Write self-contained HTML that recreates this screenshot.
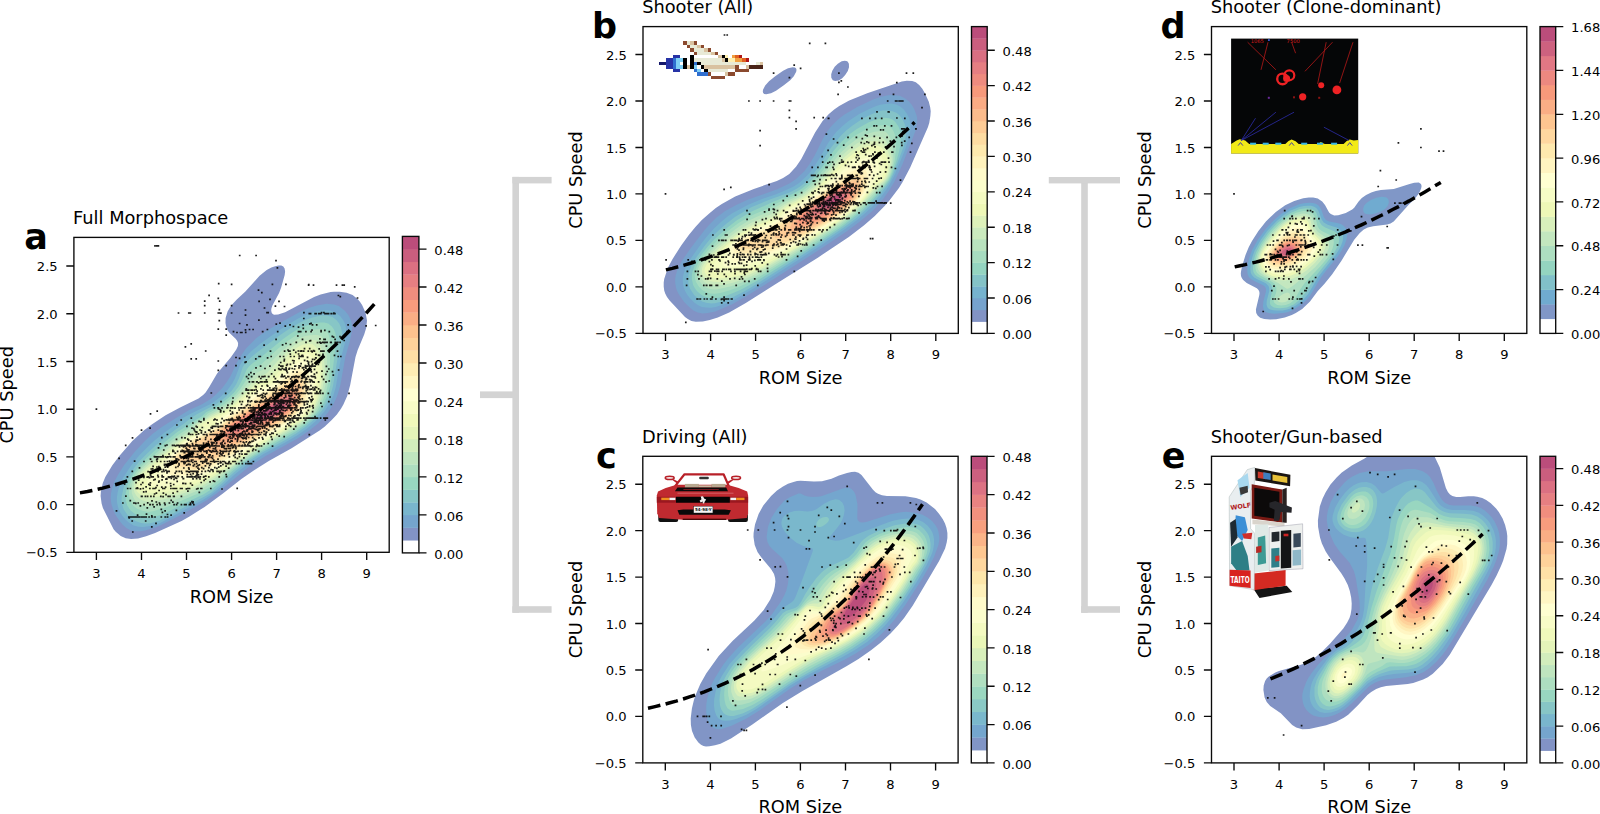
<!DOCTYPE html>
<html lang="en"><head><meta charset="utf-8"><title>Morphospace</title>
<style>html,body{margin:0;padding:0;background:#fff}body{width:1600px;height:814px;overflow:hidden}svg{display:block}text{font-family:'DejaVu Sans','Liberation Sans',sans-serif}</style></head><body>
<svg width="1600" height="814" viewBox="0 0 1600 814">
<rect width="1600" height="814" fill="#fff"/>
<g fill="#d3d3d3">
<rect x="512.4" y="176.9" width="6.6" height="435.9"/>
<rect x="512.4" y="176.9" width="39.2" height="6.5"/>
<rect x="512.4" y="606.2" width="39.2" height="6.6"/>
<rect x="480" y="391.4" width="33" height="6.7"/>
<rect x="1081.2" y="177" width="6.6" height="435.8"/>
<rect x="1048.8" y="177" width="71.2" height="6.4"/>
<rect x="1081.2" y="606.2" width="38.8" height="6.6"/>
</g>
<g id="panel-a">
<clipPath id="cla"><rect x="73.9" y="237.4" width="315.3" height="314.9"/></clipPath>
<g clip-path="url(#cla)">
<path fill="#8293c5" d="M358.1 299.6L360.1 301.9L362.1 305.1L365.6 312.8L367 320.6L366.2 328.1L364.2 334.6L357.7 350.1L355.5 357.1L350.2 385.1L347.2 396.1L343.4 404.6L341.1 408.6L336.9 414.6L331.7 420.1L324.6 426.7L319.6 430.6L291.6 448.3L268.8 461.1L254.1 470.2L241.4 479.1L222.6 493.7L204.6 506.9L189.1 516.7L181.6 521L155.1 532.9L146.1 536.3L138.1 538.5L131.1 539.1L125.7 538.3L120.7 535.9L115.7 531.8L113.6 529.2L102.9 508.1L101.6 503.6L100.6 496.1L100.9 491.6L102.8 483.1L105.3 477.1L112.2 465.6L119.3 456.1L132.3 441.1L144.1 430.3L152.1 424.2L165.6 415.3L180.1 407.5L198.5 398.6L203.1 395.1L205.6 392.4L209.2 387.1L217.1 373.6L230.7 357.6L236.3 349.6L237.9 346.1L238.1 343.1L237.1 340.7L235.6 338.8L229.1 332.6L227.5 330.1L226 326.1L225.5 323.1L225.6 318.1L227.6 311.6L229.6 308.1L232.6 304.1L236.8 299.6L245.4 291.6L259.6 275.8L266.7 270.1L271.4 267.6L275.1 266.2L278.6 265.5L281.3 265.6L283.3 266.6L284.6 268.6L285.1 271.6L284.7 275.1L281.1 287.8L279.1 292.9L272.4 305.6L271.4 308.6L271.2 310.6L271.6 312.6L272.6 314.1L274.1 314.8L278.1 314.6L285.1 312.3L314.1 297.1L320.6 294.6L330.6 292L334.1 291.7L339.6 291.7L346.6 292.8L352.6 295.1Z"/>
<path fill="#75a5cd" d="M345.1 310.9L348.3 315.1L350.8 320.1L351.9 324.6L352.1 328.6L351.3 334.6L349.5 342.6L345.3 357.1L340.5 384.6L337.4 395.6L333.6 404.1L328 412.6L323.4 418.1L318.1 423.4L308.6 431.1L297.1 438.8L265.6 456.1L253 464.1L246.1 469L217.1 493.1L207.1 500L184.6 512.9L160.6 525.3L155.1 527.5L145.1 530.5L140.6 531.3L135.1 531.3L131.1 530.5L126.7 528.2L122.7 524.7L119.7 520.9L115.4 514.7L113.5 510.6L111.8 505.6L111 502.1L110.7 497.6L111 493.6L112 488.6L114.9 480.6L118.8 473.6L124.2 465.1L134.6 451.9L144.9 441.1L152.4 434.1L161.8 427.1L168.1 422.9L189.2 410.1L201.1 404.7L205.8 402.1L211.3 398.6L215.4 395.1L222.1 388.3L226.6 382.2L230.6 375.9L235.9 364.6L239.4 358.1L246 348.6L256.1 338.3L266.1 331.1L286.1 319.4L301.6 311L310.1 307.4L316.6 305.5L326.6 303.8L334.1 304.4L338.8 306.1Z"/>
<path fill="#79b6cd" d="M340.1 316L343.1 319.9L345.1 323.9L346.2 328.6L346.3 333.6L345.1 342.6L340.9 358.1L335.8 387.1L333.4 395.6L329.5 403.6L324.3 411.6L315.6 421.3L307.1 428.4L297.1 435.4L285.1 442.4L263.5 454.1L245.6 465.7L234.6 474.5L222.1 486.1L211.6 494.6L203.6 499.5L169.6 518.1L160.1 522.9L155.6 524.7L150.1 526.1L143.1 527L138.6 526.7L133.6 525.4L129.1 522.8L125.7 519.7L122.7 516.2L120.1 512.2L118.5 508.6L117.4 504.6L116.9 501.1L116.9 497.1L117.7 492.1L118.9 487.6L123 478.1L131.1 465.6L139.1 455.6L150.1 444.6L155.1 440L164.6 432.4L177.7 423.1L182.6 418.1L194.1 412L209.6 404.6L214.5 401.6L220.3 397.1L227.5 390.1L232.2 383.6L235.1 378.1L240.3 364.6L242.6 360.8L246.1 356.4L250.6 351.7L260.6 343.4L276.6 331.9L288.6 324L298.6 318.3L306.6 314.5L316.1 311.5L323.1 310.3L330.1 310.5L335.1 312.2Z"/>
<path fill="#87c6c6" d="M336.4 320.1L339.2 323.6L341 327.6L342 332.6L342.1 337.6L341.3 343.6L337.8 357.1L332.9 386.6L330.6 395.1L326.4 403.6L322 410.6L314.1 419.6L305.9 426.6L296.1 433.4L282.6 441.4L262.1 452.6L243.4 464.6L233.1 472.9L221.6 483.8L211.1 492.7L203.7 497.1L184.6 506.9L168.5 516.2L160.2 520.2L155.1 522.1L150.4 523.2L145.6 523.4L141.1 522.9L136 521.2L131.1 518.3L127.7 515.2L123.5 509.1L121.8 503.1L121.5 500.1L121.7 496.6L123.5 488.1L126.3 480.6L131.3 472.1L135.6 466.1L140.6 460L146.1 454.4L155.1 446L163.1 439.3L175.6 429.4L183.6 424.1L188.6 419.7L196.3 414.6L215.4 404.6L221.6 400.3L226.1 396.4L231.9 390.6L236.1 384.5L239.1 378.1L242.8 367.1L246.1 362.2L250.6 357.7L255.6 353.6L280.1 335.1L290.1 328.3L299.1 323L307.1 319.3L312.6 317.4L320.6 315.6L327.1 315.6L332.4 317.1Z"/>
<path fill="#98d6c0" d="M331.6 326.2L333.7 329.1L335.2 332.6L336 336.6L336.2 340.6L332.5 372.1L330.3 385.6L328.3 393.6L324 403.1L319.4 410.6L312.1 419L304.6 425.3L295.6 431.5L262.1 450.7L242.7 463.1L232.1 471.3L221.1 481.4L211.6 489.3L203.6 494.2L183.1 503.9L167.1 512.2L159.1 515.4L153.6 517.1L147.6 517.8L142.1 517L135.1 514L130.6 510.6L127.3 505.6L125.7 500.1L125.8 493.1L127.5 485.1L129.5 480.1L134 472.6L138.6 466.5L146.6 457.9L157.6 448.1L177.3 432.1L185.2 427.1L191.6 422.2L201.7 416.6L206.1 412.2L213.2 408.6L219.1 405.1L228.2 398.1L234.1 392.4L238.6 386.4L241.9 380.6L246.7 369.6L249.1 366.3L252.6 363.2L258.1 359.4L283.1 338.9L291.6 332.9L296.1 330.3L303.6 326.6L311.1 324.1L319.6 322.5L324.1 322.4L328.1 323.6Z"/>
<path fill="#addec0" d="M326.7 331.6L328.3 334.1L329.5 337.6L330 341.1L330.3 348.1L329.8 369.6L328.1 383.6L326 392.6L321.9 402.6L317.1 410.6L313.1 415.6L310.1 418.6L303.6 424.1L295.1 429.8L262.6 448.6L242.1 461.9L231.6 469.6L220.1 479.3L210.6 486.6L203.1 491L194.6 495.1L166.1 507.2L153.1 511.3L148.1 511.9L143.1 511.1L137.1 508.7L133.1 505.6L130.6 501.6L129.1 496.1L129 490.6L130.2 484.1L132.4 479.1L136 473.1L140.4 467.6L146.6 461.2L173.1 438.9L179.6 434L187.6 428.8L193.1 423.4L203.1 418L207.8 413.6L219.1 407.6L225.1 403.6L230 399.6L236.1 393.9L240.6 388.6L244.3 383.1L250.1 373.2L252.1 370.5L254.6 368.5L261.6 364.1L278.2 348.6L286.9 341.6L296.6 335.1L303.6 332L308.1 330.6L314.6 329.4L320.1 329.1L324.1 329.9Z"/>
<path fill="#bfe5bf" d="M322.1 337.1L323.6 340.1L325.2 345.6L326.2 350.6L326.9 358.1L327.2 371.1L325.8 383.1L323.6 392.6L321.1 399.6L318.2 405.6L312.6 413.9L306.6 419.8L302.1 423.4L294.1 428.6L268.1 443.6L253.5 452.6L232.5 467.1L219.1 477.4L210.1 483.8L202.1 488.5L193.1 492.6L175.6 499.4L163.6 503.5L155.1 505.6L149.1 506.5L145.1 506.2L139.6 504.4L135.6 501.4L133.3 497.6L131.8 493.1L131.6 488.6L132.5 483.6L135 478.1L137.6 473.9L142 468.6L147.1 463.6L173.6 441.6L180.6 436.3L189.6 430.6L191.1 429.1L193.2 425.6L195.3 423.6L204.6 418.7L209.6 414.7L221.1 408.6L226.6 405L232.1 400.6L240.9 392.1L254.6 374.6L257.1 372.6L262.6 370L264.6 368.6L281.2 351.6L293.1 342L299.6 338.1L304.6 336.3L308.6 335.4L313.6 334.9L317.1 335L320.1 335.7Z"/>
<path fill="#d2edbc" d="M318.1 342.1L320.1 345.5L322 350.1L324.1 359.6L324.8 371.1L323.7 382.1L321.7 391.6L319.3 399.1L316.4 405.6L311.1 413.4L304.8 419.6L300.6 422.8L293.6 427.2L272.6 439.2L253.1 451.4L218.1 475.8L208.6 482L202.6 485.4L194.6 489.1L187.1 492L172.6 496.9L161.6 499.8L153.6 501.2L148.1 501.7L144.1 501L140.1 499.2L136.6 496.1L134.7 493.1L133.8 490.1L133.8 486.6L134.5 483.1L136.9 478.1L139.1 474.6L143.4 469.6L147.6 465.7L175.1 443.2L181.6 438.4L192.6 431.4L194 429.6L195 426.1L196.9 424.1L205.4 419.6L210.6 416.1L222.1 410.1L228.1 406.2L233.6 401.9L241.6 394.6L255.1 379.5L258.6 377L264.6 374.6L267.1 373L283.6 354.6L294.6 345.3L300.6 341.7L307.6 339.9L311.1 339.6L314.1 339.9L316.3 340.6Z"/>
<path fill="#e4f4b9" d="M315.6 346.7L317.6 349.7L319.5 353.6L321.7 362.1L322.6 371.1L321.7 381.6L320.2 389.6L318.3 396.6L314.8 405.1L310 412.6L303.6 418.9L299.2 422.1L264.6 442.5L216.1 474.9L204.1 482L193.1 487.1L186.1 489.7L173.6 493.5L167.1 495.1L155.6 496.9L149.1 497.2L145.1 496.6L140.6 494.8L137.4 492.1L136.4 490.6L135.8 488.6L136.2 484.1L138.9 478.1L142.6 473.1L147.6 468.2L156.1 461.6L180.6 441.4L196.7 431.1L197.8 429.6L197.4 427.1L197.6 426.1L198.8 424.6L211.1 417.6L221.1 412.6L228.4 408.1L235 403.1L241.4 397.6L256.6 382.6L260.1 380.6L266.6 378.9L269.1 377.3L273.6 372.6L286.6 356.6L293.6 350.3L298.1 347L303.1 344.5L308.6 343.7L312.6 344.3Z"/>
<path fill="#f0f9bb" d="M313.6 350.7L316.8 356.1L319.4 365.1L320.2 372.1L319.5 381.6L318.2 389.1L316.2 396.6L313.1 404.6L308.6 411.8L302.3 418.1L292.1 424.9L264.1 441.2L222.1 469.2L207.1 478L200.1 481.5L191.6 485L186.1 486.9L176.1 489.6L166.1 491.7L155.6 492.8L148.6 492.7L143 491.6L139.6 489.6L138.8 488.1L138.5 486.6L138.7 484.6L139.6 482.1L142.1 477.4L146.7 472.1L157.1 463.6L182.1 441.9L204.1 428.6L204.9 427.6L204.9 427.1L202.4 425.6L202.4 425.1L203.3 424.1L211.7 419.1L222.1 413.9L230.6 408.6L242.1 399.4L254.1 388.2L258.1 385L261.1 383.6L267.6 382.4L270.8 380.6L276.7 374.6L288.6 359.5L295.1 353.5L299.6 350.2L303.6 348.2L307.6 347.5L310.6 348.2Z"/>
<path fill="#f8fcc7" d="M311.1 356.1L312.6 358.7L314.6 363.1L316.6 370.6L316.8 379.1L315.7 388.6L313.7 397.1L310.3 405.6L306.4 411.6L300.3 417.6L290.6 424.1L263.2 440.1L221.6 467.3L206.1 476L200.1 478.8L188.6 482.8L175.6 485.3L168.1 486.4L154.1 486.4L149.6 485.7L147.6 484.6L146.9 483.1L147.3 481.1L152 473.6L169.1 455.1L175.6 449.6L182.6 442.8L190.6 438L214.5 425.1L215.9 423.6L215.6 422.8L214.4 421.6L215.3 420.1L230.6 410.6L236.6 406.3L258.6 387.9L261.6 386.3L268.6 384.8L272.4 382.6L279.1 376.1L289.6 363.7L297.7 357.1L303.1 354.1L306.1 353.3L308.6 353.8Z"/>
<path fill="#ffffd1" d="M308.1 362L311.5 368.1L312.5 371.6L313.2 375.6L313.4 379.6L313.1 385.1L311.8 393.6L309.2 402.1L306.5 407.6L302.3 413.1L297.3 417.6L288.5 423.6L262.1 439.1L221.1 465.1L212.6 469.9L200.6 475.8L196.1 477.5L190.1 478.9L172.6 480.7L164.1 480.4L161.1 479.6L159.6 478.6L159.2 477.1L159.8 475.1L164.4 465.1L167.9 459.1L170.7 455.6L177.1 450.3L180.9 445.6L183.1 443.5L190.1 439.4L217.8 425.1L219.6 423.4L220.7 419.6L222.1 418.1L232.1 411.7L238.5 407.1L260.1 390.2L262.6 388.9L269.6 386.8L274 384.1L280.7 378.1L291.1 367.4L295.1 364.3L300.1 361.6L304.1 360.2L306.1 360.4Z"/>
<path fill="#fff6c3" d="M306.1 368.4L308.6 373.1L310 379.1L310 386.6L308.8 395.1L306.6 402.1L303.8 407.6L299.9 412.6L294.4 417.6L286.4 423.1L261.6 437.6L222.6 461.8L212.1 467.6L203.1 472L196.6 474.7L191.6 475.5L185.1 475.2L173.6 475.7L171 475.1L169.1 473.8L168.4 471.1L168.3 466.1L168.9 462.6L170.1 459.1L172.6 455.7L178.5 451.1L181.4 446.6L183.8 444.1L188.6 441.2L219.1 425.6L220.8 424.1L223.2 420.1L225.3 418.1L241 407.6L261.1 392.7L263.6 391.4L270.6 388.7L274.8 386.1L281.6 380.6L289.6 373.2L295.1 369.1L298.6 367.4L302.1 366.5L304.1 366.8Z"/>
<path fill="#feedb4" d="M304.1 373.9L306.4 378.6L307.2 384.1L306.7 392.1L305.1 399.1L302.6 405.1L299.3 410.1L295.2 414.6L290.1 418.8L279.1 426L260.3 436.6L218.1 462L202.6 469.7L196.6 472L193.1 472.5L187.1 471.1L178.1 471L175.9 470.1L174.4 468.6L171.9 463.6L171.6 461.1L172.1 459.1L174.1 456.3L180 452.1L182.3 447.1L184.6 444.6L188.6 442.2L201.1 436.2L219.6 426.4L221.9 424.6L225.1 420.7L227.6 418.6L234.6 414.2L261.6 395.5L271.6 390.5L275.6 388L293.6 374.2L297.1 372.5L300.1 371.8L302.1 372.2Z"/>
<path fill="#fee0a6" d="M302.6 378.6L304.1 383.1L304.3 390.1L303.3 396.6L301.4 402.6L298.7 407.6L294.8 412.6L290.1 417L284.3 421.1L216.1 460.6L208 464.6L199.8 468.1L194.6 469.5L193.1 469.1L190.6 467.4L189.1 466.9L183.6 467.1L181.1 466.9L177.6 465.4L174.8 462.6L174 460.6L174.6 458.3L176.1 456.8L181.6 453.3L182.5 451.6L183.5 447.6L184.6 446.1L186.1 444.9L202.6 436.9L219.6 427.5L229.6 419.2L262.1 398L275.9 390.1L293.6 377.8L296.6 376.4L299.1 376.2L301.1 377Z"/>
<path fill="#fed29a" d="M300.3 381.6L301.6 385.6L301.8 391.6L300.9 398.1L299 403.6L296.4 408.1L293.1 412.3L289.1 416L283.2 420.1L230.1 450.1L211.6 459.7L205.6 461.3L204.6 461.1L202.6 460L199.1 460L190.6 461.8L184.6 462.6L181 462.1L178.5 460.6L178.2 459.6L178.9 458.6L182.6 456.4L184.4 454.6L185.3 452.6L185.6 448.3L187.6 446.1L202.1 439.3L213.1 433L221.6 427.5L230.1 420.6L241.1 413.4L293.1 381.4L295.6 380.2L297.6 379.9L299.1 380.4Z"/>
<path fill="#fdc28e" d="M298.1 385.6L299.2 389.1L299.5 394.6L298.9 399.1L297.4 403.6L294.8 408.1L291.9 411.6L288.6 414.7L283.1 418.5L241.6 441.4L225.6 448.7L217.1 451.8L212.1 453L205.1 451.4L199.6 450.9L198.1 450.1L198.3 449.1L200.1 447.1L226.6 424.9L231.6 421.1L241.1 414.9L272.6 395.9L289.1 386.6L293.1 384.8L295.6 384.1L297.1 384.5Z"/>
<path fill="#faae85" d="M295.9 389.6L296.9 392.1L297.4 396.1L297.2 399.6L296.4 402.6L294.6 406.1L292.5 409.1L289.6 412.1L286.6 414.5L277.6 419.9L238.6 440.2L230.6 443.1L224.6 444.5L218.6 444.9L217.1 444.6L216.1 443.8L216.1 442.1L217.1 439.6L222 431.6L226.2 427.1L233.6 421.3L244.1 414.5L282.6 392L292.1 388.5L294.6 388.6Z"/>
<path fill="#f89c7d" d="M294.1 393.3L295.1 395.4L295.7 398.1L295.5 400.6L294.7 403.1L293.2 406.1L291.1 408.8L285.6 413.5L279.6 417L262.1 425.4L248.1 433.1L239.6 437.2L234.6 438.8L229.1 439.8L226.1 439.7L224.4 438.6L223.8 436.6L224.1 434.1L225 431.6L226.6 429.1L232.7 423.6L240.6 418.1L274.1 398.4L282.1 394.2L286.1 392.6L290.6 391.8L292.6 392.1Z"/>
<path fill="#f08d7e" d="M293.1 396.7L293.9 398.6L293.9 400.6L293.2 403.1L291.9 405.6L287.9 410.1L282.1 414.1L275.6 417.4L260.2 424.1L246.6 431.3L239.6 434.5L235.6 435.7L231.6 436.1L229.1 435.7L228 434.6L227.5 432.6L228.1 430.6L229.5 428.6L232.7 425.6L243.2 418.1L256.1 410.4L275.1 399.6L283.1 395.6L286.6 394.7L289.6 394.5L291.6 395.1Z"/>
<path fill="#e67f82" d="M291.6 399.1L291.9 400.6L291.6 402.2L289.3 406.6L285.7 410.1L279.6 414.2L271.6 417.9L255.6 424.1L239.7 431.1L234.6 432.2L233.1 432.1L232.1 431.4L232 430.6L232.5 429.6L234.6 427.1L238.7 423.6L244.2 419.6L257.3 411.1L274.6 401.5L281.6 398.2L285.6 397.1L287.6 396.9L289.6 397.3L290.9 398.1Z"/>
<path fill="#db7082" d="M288.2 401.1L288.5 402.6L288.1 404.1L286 407.6L282.3 411.1L277.6 414.1L269.1 417.9L258.6 421.3L251.1 422.6L249.6 422.5L248.6 421.8L249.1 420.1L250.6 418.1L255.7 413.6L260.5 410.6L273.6 403.7L278.1 401.6L283.1 400.1L286.1 400Z"/>
<path fill="#ca5e7e" d="M284.1 404.1L284.3 405.1L284.1 406.6L282.5 409.1L279.7 411.6L276.1 413.8L268.6 417L261.1 419.3L256.6 419.8L255.1 419.3L254.6 418.6L255 416.6L257.4 414.1L260.2 412.1L265.7 409.1L275.1 404.6L278.6 403.3L282.1 403L283.1 403.3Z"/>
<path fill="#bb4d7b" d="M281.1 406.3L281 408.1L279.5 410.1L277.6 411.6L273.9 413.6L267.8 416.1L262.4 417.6L259.6 417.9L258.5 417.6L258 417.1L258.4 415.6L259.9 414.1L266.8 410.1L277.6 405.6L280.1 405.5Z"/>
</g>
<path d="M275.4 378.7h.01M293.3 401.7h.01M193.1 453.2h.01M274.6 429h.01M291.9 381.8h.01M254.8 417.2h.01M247.1 420.6h.01M301.5 392.8h.01M187.4 445h.01M267.1 385.3h.01M258.3 414.3h.01M249.4 423.8h.01M315 416.7h.01M258.1 429.5h.01M239.4 445.4h.01M214.6 481.5h.01M266.5 407.8h.01M239.7 435.8h.01M231.1 440.9h.01M283.5 406.6h.01M303.1 324.8h.01M198 488.5h.01M279.7 407.3h.01M240.9 407.8h.01M178 466.5h.01M240.4 426.3h.01M233.4 420h.01M188.9 449.8h.01M315.7 357.8h.01M259 446h.01M292.7 407.8h.01M309.6 379.6h.01M197 437.2h.01M226.1 474.5h.01M290.8 398.7h.01M273.2 433.4h.01M278.4 407h.01M230.7 445.4h.01M206.4 443.4h.01M262.4 401.6h.01M168.2 456.9h.01M230.3 436.5h.01M241.4 434.5h.01M192.5 455.8h.01M270.7 416.7h.01M223.7 447.4h.01M205.4 461.5h.01M282.2 382.8h.01M213.3 461.5h.01M275.5 420h.01M252.6 420h.01M301.2 393.3h.01M193.4 446h.01M278.8 406.5h.01M181.4 461.5h.01M290.6 405.3h.01M232.7 427.8h.01M266.2 414.7h.01M246.3 434.5h.01M275 397.8h.01M279.2 393.3h.01M244.5 446h.01M189.8 447h.01M227.2 426.3h.01M152.8 471.4h.01M277.8 398.5h.01M167.4 461.5h.01M281.5 394h.01M173.7 484.5h.01M248.6 433.4h.01M238.9 434.5h.01M161.8 487.2h.01M215.4 451.3h.01M198 451.4h.01M289.5 368.4h.01M253.3 412.5h.01M306.1 378h.01M287.9 401.6h.01M260.6 401.6h.01M189.2 461.4h.01M269.8 387.9h.01M268.1 407.8h.01M256.3 421.8h.01M207.1 459.6h.01M150.1 485.1h.01M202.4 446h.01M256.1 401.6h.01M236.9 426.3h.01M237.3 441.5h.01M303.4 367.5h.01M199.9 439.2h.01M237 412.9h.01M231.4 430.2h.01M262.3 437.5h.01M252.2 434.5h.01M251.9 426.3h.01M197.2 427.2h.01M290.1 401.6h.01M284.6 421.4h.01M297.2 381.8h.01M261.1 420.5h.01M265.6 425.2h.01M202.9 449.8h.01M273.7 420h.01M288.7 351.1h.01M240.8 426.3h.01M271.2 401.6h.01M223.1 445.5h.01M302.9 407.8h.01M282.4 413h.01M157 470h.01M269.1 414.1h.01M258.4 411.2h.01M249.7 411h.01M261 420h.01M256.7 381.8h.01M252.8 426.3h.01M167 472.9h.01M242.6 426.3h.01M196.9 445.9h.01M165.9 479.1h.01M199.5 458.5h.01M198 446.3h.01M201.8 454.6h.01M193.7 451.3h.01M320.9 403.2h.01M273.8 420.7h.01M265.3 407.8h.01M275 404h.01M193.8 428.7h.01M279.5 407.8h.01M251.2 434.5h.01M285.9 426.3h.01M276.9 381.8h.01M271.8 417.8h.01M244.4 414.3h.01M249.7 441.8h.01M293.4 376.6h.01M281.8 394.1h.01M268.4 423.1h.01M250.5 415.2h.01M196.5 434.5h.01M295.1 409.8h.01M281.8 401.6h.01M157.8 475.3h.01M260.3 402.4h.01M248.7 393.3h.01M279.9 405.9h.01M296.7 410.3h.01M280.1 401.6h.01M266.7 425.3h.01M196 476.1h.01M310.2 381.8h.01M275.9 420h.01M237.9 437.6h.01M212.4 461.5h.01M156 523.4h.01M313.6 390h.01M289 425.3h.01M199.4 464.9h.01M299 367.9h.01M208.7 430.2h.01M294.5 393.3h.01M235.9 448.7h.01M151.2 476.5h.01M226.9 425.9h.01M310.6 340.6h.01M297 372.2h.01M281.3 415.6h.01M156.7 459.7h.01M292.7 401.6h.01M252.7 437.6h.01M256.8 420h.01M241.5 404.4h.01M208.4 441.5h.01M255.6 408.3h.01M271.3 412.7h.01M194.8 448.6h.01M285.3 421.4h.01M230.4 450.6h.01M245.8 423.7h.01M307.2 392.8h.01M288.7 420h.01M214.6 461.5h.01M264.8 427.8h.01M200.9 488.5h.01M312.4 324.8h.01M230.2 410.7h.01M187.1 449.3h.01M223.3 446h.01M221.6 426.3h.01M243.5 434.5h.01M151.8 461.5h.01M254.3 439.1h.01M257.5 426.3h.01M238.9 427.9h.01M216 437.6h.01M275.8 407.8h.01M259 437.8h.01M203.4 434.5h.01M197 451.3h.01M256.4 420.9h.01M334.5 355.4h.01M277.1 424.9h.01M169.5 461.2h.01M264.1 434.4h.01M239.4 434.5h.01M256.3 414.4h.01M264 407.8h.01M224.9 443.3h.01M311.3 376.1h.01M214.5 462.2h.01M233.4 461.5h.01M148.8 484.3h.01M279.6 393.3h.01M305.6 385.4h.01M165.2 467.1h.01M276.3 420h.01M304.4 404.9h.01M232.6 407.8h.01M254 434.5h.01M278.8 393.2h.01M260.9 421.4h.01M271.3 436.8h.01M160.3 443.8h.01M302.5 339.3h.01M228.8 453.9h.01M261.6 417.3h.01M273.6 420h.01M237.6 427.9h.01M281.3 405.6h.01M193.3 465.7h.01M293.7 401.6h.01M276.7 425.4h.01M265.4 394.2h.01M224.6 432.7h.01M159.3 468.4h.01M164.5 465.2h.01M318.6 388.8h.01M270.6 434.5h.01M196.5 466.6h.01M263 397.9h.01M272.2 420h.01M208.8 446h.01M245.4 446h.01M222.1 418.6h.01M241.7 434.6h.01M248.6 437.5h.01M290.6 407.8h.01M223 436h.01M213 426.3h.01M248.9 446h.01M258 423.4h.01M269.3 407.8h.01M263 420h.01M197 471.4h.01M265.1 396.6h.01M283.6 391.1h.01M290.5 344.5h.01M192.9 460h.01M142 496.3h.01M290.2 401.6h.01M261.9 401.6h.01M292.1 401.6h.01M226.6 434.5h.01M244.2 420h.01M201.5 455.9h.01M269.5 399h.01M194.5 464.4h.01M305.7 420h.01M169.1 454h.01M206.8 453.1h.01M195.3 471.4h.01M253.8 420h.01M196.9 432.2h.01M222.6 426.3h.01M299 396.6h.01M290.1 420h.01M191.5 471.4h.01M212.7 469.8h.01M323.9 351.1h.01M239 434.5h.01M219.9 409.5h.01M284.2 389.4h.01M291.4 389.6h.01M216.2 451.3h.01M201.2 482.5h.01M217.9 423.9h.01M253 407.8h.01M242.8 423.2h.01M229.4 456.9h.01M241.7 446h.01M293.2 371.9h.01M298.9 401.6h.01M176.2 462.9h.01M258.2 421.6h.01M231.4 434.5h.01M191.5 451.3h.01M219.1 434.8h.01M252.6 446h.01M242.8 426.1h.01M272.4 401.1h.01M252.2 393.3h.01M135.8 503.4h.01M306 342.4h.01M223.5 440.3h.01M188.5 461.5h.01M290.7 401.2h.01M326.4 366.3h.01M263.6 420h.01M271.2 407.8h.01M263.4 420h.01M262.8 420h.01M175.4 477.9h.01M284.9 386.2h.01M182.2 476.8h.01M306.3 366.2h.01M174.5 476.5h.01M298.2 409.8h.01M212.4 444.2h.01M321.1 331.6h.01M257.8 418.2h.01M237.8 438.9h.01M241.8 433.4h.01M214.6 451.3h.01M319.9 391.6h.01M276.8 414.6h.01M256 434.5h.01M244.8 357h.01M211.2 457.4h.01M288.9 415.5h.01M282.2 402.6h.01M306.6 401.6h.01M204.7 434.5h.01M294.8 366.2h.01M268.3 402.5h.01M274.2 407.5h.01M294.6 403.7h.01M196.7 444.8h.01M260.5 426.3h.01M216.9 468.4h.01M232.1 441.1h.01M309.6 406.7h.01M277.9 409.1h.01M308.3 386.8h.01M300 402h.01M211.2 434.5h.01M203.7 444.6h.01M260.2 407.8h.01M274.5 410.5h.01M220.2 453h.01M166.7 482.7h.01M302 378.3h.01M325.9 374.3h.01M232.4 446h.01M200.9 421.9h.01M243.8 416.7h.01M242.7 434.3h.01M181.8 446h.01M268.6 376.6h.01M185.6 483.6h.01M148.3 476.8h.01M299.2 415.4h.01M279.1 419.7h.01M266.4 405h.01M270.1 426.3h.01M270 398.4h.01M248.8 426.3h.01M151.3 469h.01M264.7 426.3h.01M187.3 456.9h.01M257.7 395.8h.01M186.6 465.1h.01M306.5 386.6h.01M305.5 401.6h.01M246.5 446h.01M257.1 407.8h.01M275.3 381.8h.01M306.1 378.6h.01M188.8 452.3h.01M301.7 351.1h.01M328.8 369h.01M171.3 478.4h.01M201 450.7h.01M262.3 412.7h.01M275.9 401.6h.01M157.2 461.5h.01M225.5 451.3h.01M242.8 437.8h.01M266.2 424.5h.01M279.6 426.3h.01M143.2 488.5h.01M245 424.3h.01M286.1 378h.01M268.6 376.6h.01M234.7 426.3h.01M228.3 444.8h.01M241.2 433.4h.01M257.5 445.6h.01M300.9 407.8h.01M266.6 407.8h.01M247.7 404.7h.01M275.9 407.8h.01M268.2 404.7h.01M183.5 461.5h.01M275.7 391.3h.01M298.9 398.4h.01M222.2 446h.01M254.9 420h.01M251.6 410.6h.01M186.4 488.8h.01M154.4 471.4h.01M266 400.4h.01M289.3 392h.01M251.9 420h.01M241.5 428.7h.01M301.1 410.8h.01M247.6 430.3h.01M243.3 438.6h.01M228.6 454.5h.01M294.5 402h.01M265.9 435.3h.01M285.5 369.9h.01M314.4 376.6h.01M286.3 369.3h.01M275.9 385.9h.01M194.9 451.3h.01M265.3 407.8h.01M255.7 421.6h.01M203.9 418.5h.01M289.4 398.7h.01M307.2 366.2h.01M295.9 393.3h.01M182.9 461.5h.01M283.2 410.4h.01M263.5 420h.01M299.3 401.6h.01M222.9 446h.01M259.4 446h.01M255.9 407.8h.01M267 422.9h.01M307.1 414h.01M234.6 426.3h.01M201.5 430.8h.01M214.2 426.3h.01M228.7 468.1h.01M153.8 480h.01M286 367.8h.01M276 413.1h.01M319.3 362.5h.01M305.6 407.8h.01M223 453.2h.01M187.8 439.1h.01M231 428h.01M295 376.6h.01M246.6 454.1h.01M241 434.5h.01M264 407.8h.01M187.4 451.2h.01M308.6 362.1h.01M264.9 396.4h.01M184.3 451.3h.01M312.1 365.1h.01M260.9 388.9h.01M294.3 422.1h.01M230.6 446h.01M226.8 429.9h.01M307.4 361.1h.01M285.8 401.6h.01M240.6 441.5h.01M254.7 407.8h.01M294.9 401.6h.01M293.4 326.5h.01M281.9 401.6h.01M190.6 474.4h.01M311.4 366.6h.01M259.1 426.3h.01M165.9 470.3h.01M227.9 441.3h.01M287.5 407.8h.01M240.3 435.8h.01M286.7 386.1h.01M254.2 421.9h.01M286.4 404.3h.01M210.7 463.9h.01M204.7 461.9h.01M206.4 446h.01M242.6 412.9h.01M184.3 452.7h.01M143.7 491.8h.01M254.6 407.8h.01M278 426.3h.01M290 393.3h.01M312.9 381.8h.01M244.4 443h.01M310.8 370.5h.01M238.2 426.3h.01M264.3 381.8h.01M250.3 434.5h.01M209.8 447.4h.01M203.6 477.1h.01M245 414.1h.01M238 420h.01M266.1 414.4h.01M235.3 446h.01M226.8 451.2h.01M318.6 381.8h.01M281.2 407.8h.01M279.5 369.3h.01M277.4 401.7h.01M246.9 446h.01M191.7 476.3h.01M174.2 496.3h.01M254.1 373.8h.01M284.3 420h.01M206.9 463.3h.01M251.7 422.8h.01M263.7 410.9h.01M204.8 451.3h.01M172.2 461.5h.01M294.8 390.6h.01M253.3 426.3h.01M257.2 391.1h.01M277.7 395.8h.01M270 426.3h.01M292.6 401.6h.01M192.3 453.7h.01M275.1 407.8h.01M289.6 395.7h.01M253.1 434.5h.01M277.6 401.6h.01M316.7 372.6h.01M129.2 517.8h.01M278 396.4h.01M302.8 388.3h.01M259.4 420.5h.01M311.1 331.7h.01M188 451.3h.01M288.7 376.6h.01M280.7 362.5h.01M192.3 485.2h.01M249.3 426.3h.01M192.3 471.4h.01M175.8 467.4h.01M256.9 444.5h.01M267.6 357.8h.01M242.7 435.1h.01M250.9 372.7h.01M324.3 342.6h.01M177.5 459h.01M300.8 407.8h.01M256.3 446.4h.01M259.2 426.3h.01M234.7 450.8h.01M258.4 434.6h.01M153.1 488.5h.01M264.6 420h.01M213.7 460.2h.01M224.3 455.8h.01M257.2 429.5h.01M266.4 422.4h.01M290.7 420h.01M207 435.6h.01M261.6 397.5h.01M247.9 417.7h.01M223.8 435.4h.01M235 408.2h.01M292 401.6h.01M257.1 381.8h.01M182.1 451.3h.01M211.7 461.5h.01M181.2 457.8h.01M246.4 441.8h.01M211.1 431.8h.01M274.9 370.2h.01M190.1 464.6h.01M255.1 420.3h.01M228.2 439.6h.01M253.5 381.8h.01M224.4 446.2h.01M317.1 393.3h.01M163.3 476.8h.01M238.3 446h.01M269.4 424.6h.01M236.7 436h.01M277.6 400.9h.01M255.6 422.1h.01M290.7 378.9h.01M277 405.4h.01M276.9 407.8h.01M279.2 393.6h.01M285.9 415.8h.01M311.4 371.8h.01M302.5 355.4h.01M291.5 409.5h.01M171.2 500.3h.01M212.2 446h.01M265.2 416.5h.01M311.3 401.6h.01M275.5 381.8h.01M294.9 415.8h.01M237.6 436.3h.01M154.4 456.5h.01M271.4 420h.01M188.3 460.3h.01M242 454.2h.01M210.6 461.5h.01M284 407.8h.01M255.3 419.6h.01M322.9 393.3h.01M235.3 429.8h.01M309.5 366.2h.01M278.8 420h.01M310.6 393.1h.01M232.6 420h.01M289.4 393.3h.01M311.1 323.3h.01M272.4 416.3h.01M268.4 416.7h.01M254 425.8h.01M285.9 387h.01M249.3 420h.01M289.4 407h.01M312.9 376.6h.01M226.9 420h.01M222.6 434.5h.01M266.3 407.8h.01M213.1 442.5h.01M173.7 451.4h.01M326.4 346.1h.01M281.5 399.6h.01M260.6 407.8h.01M258.6 430.1h.01M259.5 420h.01M237.9 428.3h.01M296.5 376.6h.01M287.9 406h.01M263.5 393.3h.01M228.2 446.3h.01M252.7 434.5h.01M280.2 407.6h.01M225.7 463.5h.01M278.4 393.3h.01M303.7 351.1h.01M281.6 407.8h.01M241.6 437.4h.01M196.6 478.6h.01M229.1 423h.01M292.3 389.4h.01M253 426.3h.01M319.2 348.8h.01M222.1 455.3h.01M266.2 409.2h.01M258.6 382.8h.01M296.8 391h.01M214.7 451.3h.01M213.1 471.4h.01M281.4 393.3h.01M162.4 512.4h.01M224 461.5h.01M267.8 409.7h.01M256 367.8h.01M278.8 393.3h.01M280.6 417h.01M274.7 398.4h.01M297 393.3h.01M270.5 401.6h.01M188.9 464h.01M284.2 361h.01M197 472.8h.01M272.6 417.9h.01M242.5 445.3h.01M260.5 423.2h.01M166.8 478.5h.01M289.5 393.3h.01M267.8 403.9h.01M215.9 426.3h.01M289.7 422.6h.01M277.5 407.8h.01M283.3 407.6h.01M323.6 379.4h.01M221.1 422.6h.01M185.1 457.2h.01M225.4 462.4h.01M271.9 420h.01M187.9 491.2h.01M170.8 485.9h.01M294.7 407.8h.01M280.6 381.8h.01M212.6 461.5h.01M195.9 476.8h.01M247.2 434.5h.01M175.3 488.5h.01M229.6 420.4h.01M258.8 424h.01M303.7 376.6h.01M259.1 412.9h.01M196 471.4h.01M301.1 381.8h.01M311.5 393.3h.01M312.6 359.3h.01M203.9 420h.01M263.8 431h.01M228.2 426.3h.01M218.2 463.9h.01M212.6 434.5h.01M224 434.5h.01M252 431h.01M262.3 422.5h.01M333.3 375.1h.01M329.2 381h.01M246.6 435.4h.01M291 399.1h.01M277.4 420h.01M226.4 435.8h.01M220.7 431.1h.01M266.1 401.6h.01M274.1 404.6h.01M314.8 389.8h.01M229.3 437.1h.01M235.7 446h.01M246.3 388.9h.01M232.7 401.6h.01M289.1 393.3h.01M238.1 434.5h.01M262 407.2h.01M220.4 461.5h.01M263.8 401.6h.01M250.2 434.5h.01M210.3 434.5h.01M169.1 477.4h.01M217.7 446h.01M196.8 475.2h.01M232.5 429.8h.01M324.8 330.4h.01M300.5 409.3h.01M212.6 445.4h.01M265.2 410.8h.01M233.6 436.8h.01M298.5 385.9h.01M217.2 434.5h.01M264.9 413.8h.01M193 478.8h.01M248.9 374.7h.01M300.9 411.8h.01M228.7 448.5h.01M264.6 414.1h.01M272.2 419.2h.01M250.6 410.4h.01M262 381.8h.01M214.4 407.8h.01M164.5 464.3h.01M226.3 448.8h.01M269.6 408.3h.01M241.9 434.5h.01M200.6 451.3h.01M184.7 452.7h.01M282.8 366.2h.01M255.1 393.3h.01M210.1 481.8h.01M279.6 405.9h.01M208.6 450h.01M188.6 434.2h.01M202.7 463.1h.01M262.1 376.7h.01M162.1 475.6h.01M218.2 461.5h.01M255.7 402.2h.01M243.3 442.1h.01M300.2 331.6h.01M192.8 462.3h.01M270.7 420h.01M212.2 445.5h.01M217.5 452h.01M301.9 355.7h.01M222.9 464.4h.01M291.1 381.8h.01M283.1 392.3h.01M277.5 418.4h.01M304.2 402.9h.01M233.9 435.4h.01M304.1 401.6h.01M240.5 434.5h.01M203.6 446h.01M136.3 488.5h.01M264.4 414.8h.01M279.8 407.8h.01M218 426.3h.01M212.4 434.5h.01M223.6 471.4h.01M245.8 426.3h.01M239.5 420h.01M274.6 407.3h.01M268.2 443.5h.01M231 434.5h.01M282.1 374.6h.01M285.4 407.8h.01M308.4 393.7h.01M293.2 421.5h.01M289.7 407.8h.01M289.1 392.4h.01M260.4 426.3h.01M250.6 434.5h.01M249.5 410.8h.01M191.2 461.5h.01M314.2 382.2h.01M311 366.2h.01M184.8 446h.01M245.1 426.3h.01M179.5 447h.01M188 476.8h.01M251.7 426.3h.01M204.2 451.3h.01M232.8 435.9h.01M216.2 423.7h.01M238.3 426.3h.01M190.5 503h.01M285.2 410.6h.01M239.1 416.6h.01M262.1 420.4h.01M258.6 434.8h.01M286.8 371.1h.01M218.1 436.4h.01M260.6 366.2h.01M274.4 413.1h.01M271.1 417.7h.01M192 428.1h.01M196.2 426.3h.01M265.2 434.5h.01M323 354.3h.01M260.9 409.4h.01M245 444.9h.01M227.7 420h.01M169.7 456.5h.01M214.2 426.3h.01M249.2 427.9h.01M222.7 434.5h.01M173.1 493.2h.01M298.5 331.6h.01M265.9 381.8h.01M306.7 379.2h.01M282.9 401.6h.01M320.9 351.1h.01M163.1 496.6h.01M318.5 393.3h.01M260.1 420h.01M215 461.5h.01M259.8 420.2h.01M288.5 401.6h.01M279.2 406.6h.01M273 420h.01M238.9 407.8h.01M217.1 420h.01M261.7 415.4h.01M312.2 376.6h.01M179 463.5h.01M149.8 488.5h.01M239 427.8h.01M297.4 380.7h.01M211.1 469.7h.01M257.7 407.8h.01M300.1 413.4h.01M268.5 401.6h.01M197.4 474.1h.01M237.5 440h.01M227 407.8h.01M254.4 412.5h.01M282.7 415.9h.01M282.8 413.3h.01M230.2 438.3h.01M191.9 476.8h.01M290.4 364.3h.01M178.7 459.8h.01M203.3 461.5h.01M268 399.9h.01M159.1 490.5h.01M222.7 461.5h.01M213.7 446h.01M283.4 381.8h.01M257.4 418.1h.01M202.7 447.6h.01M272.4 426.7h.01M307.6 370.3h.01M241.4 446h.01M230.9 420h.01M282.7 400h.01M242.6 411.2h.01M310.4 381.8h.01M232.4 412.1h.01M311.6 351.1h.01M146.5 514.2h.01M295.8 389.2h.01M286.8 410h.01M227.7 407.5h.01M248.2 418.9h.01M287.1 407.8h.01M205.4 465.9h.01M255.9 393.3h.01M161.3 509.4h.01M266.5 414.3h.01M163.4 493.1h.01M254.9 410.2h.01M291.7 377.3h.01M166.9 457.5h.01M284.9 393.3h.01M257.2 445.6h.01M184.5 461.5h.01M302.7 401.6h.01M277.2 407.8h.01M254.4 426.3h.01M203.3 461.5h.01M187.6 460.8h.01M255.7 421.1h.01M221.7 426.3h.01M229.1 451.3h.01M285 393.3h.01M150.5 475h.01M234.5 461.5h.01M265.8 401.6h.01M249.2 433.7h.01M222.9 446h.01M230.5 434.5h.01M298 376.6h.01M314.8 376.6h.01M247.9 400.9h.01M285.2 383.2h.01M240.6 421.3h.01M231.3 445.1h.01M263.6 426.3h.01M198.9 469.2h.01M233.4 421.4h.01M272.9 418.2h.01M285.6 381.8h.01M159.2 481h.01M232.1 438.3h.01M177.4 491.5h.01M187.2 476.8h.01M315.4 378h.01M262.6 426.3h.01M262.2 420h.01M222.3 446.9h.01M308.7 364.7h.01M249.5 434.5h.01M224.2 434.5h.01M281 412.6h.01M300.5 387.3h.01M219.5 439.6h.01M299.1 365.9h.01M275.9 410.1h.01M303 356.3h.01M230.7 407.9h.01M261.8 401.6h.01M259.2 432.5h.01M272.1 439.3h.01M199.3 446h.01M235.5 420h.01M221.8 447.2h.01M196.2 434.5h.01M246.2 425.2h.01M216.4 450.3h.01M156 487.7h.01M259.9 420h.01M180.5 488.5h.01M245.3 433.3h.01M275.9 413.7h.01M292.7 420.1h.01M279.2 436.2h.01M261.6 408.7h.01M218.9 471.4h.01M269.4 413.5h.01M271.8 433.2h.01M206.6 461h.01M239.4 456.6h.01M242.9 438.1h.01M222.2 442.7h.01M196.6 446h.01M261.2 426.3h.01M250.7 420h.01M208.9 467.6h.01M248.1 393.1h.01M306.5 387.5h.01M290.1 408.3h.01M275.5 401.9h.01M140.5 488.8h.01M269.3 424.6h.01M209.7 465.3h.01M251.9 426.6h.01M296.7 401.6h.01M196.8 463.6h.01M217.1 461.5h.01M256.2 386.9h.01M213.3 448.7h.01M243.1 428.4h.01M262.8 395.9h.01M274.8 410.2h.01M261.5 446h.01M246.9 396.4h.01M242.7 431.8h.01M234.8 424.9h.01M270.6 426.3h.01M300.4 393.3h.01M219.7 456h.01M247.9 425.8h.01M197.7 440.2h.01M233.7 434.5h.01M313.2 407.8h.01M222.5 445h.01M249.5 420h.01M196.7 472.5h.01M227.2 420h.01M298 397.3h.01M232.8 420h.01M275.4 414h.01M204.1 480.4h.01M251.1 407.8h.01M194.1 471.4h.01M294.2 356.5h.01M306.2 388.7h.01M222 407.8h.01M221.7 446h.01M244 426.3h.01M290.8 415.6h.01M265.1 420h.01M186.5 458.5h.01M296.7 399.8h.01M224.2 451.3h.01M279.5 412.6h.01M247 446h.01M197.7 451.3h.01M280.3 416.6h.01M301.9 401.6h.01M280.9 402.2h.01M287.4 402.8h.01M284.6 381.8h.01M261 416.6h.01M251.8 435h.01M277.9 413.7h.01M151.5 476.8h.01M147.2 477.2h.01M172.9 450.3h.01M190.4 451.3h.01M296.2 407.8h.01M215.6 447.8h.01M282.3 368.3h.01M301.6 350.9h.01M246.6 376.6h.01M275.9 407.8h.01M211.9 444.2h.01M321.8 358.1h.01M251.9 407.8h.01M238.3 430.6h.01M218 459.2h.01M245.3 427.4h.01M278.1 402.6h.01M296.6 376.6h.01M268.8 422.7h.01M213.4 451.3h.01M208.8 457.3h.01M269.9 434.5h.01M274.5 393.3h.01M281.3 376.6h.01M309.2 366.2h.01M294.1 404.6h.01M242.6 424.9h.01M298.4 393.3h.01M188.9 433.3h.01M251.8 407.8h.01M194.4 451.3h.01M267.4 424.6h.01M226.4 451.3h.01M279.9 403.9h.01M253.3 428.3h.01M193.6 465.8h.01M304.5 348.7h.01M198.5 474.9h.01M247.6 430h.01M176.4 510.4h.01M268.9 406.4h.01M199.1 421.4h.01M262.9 439.2h.01M212.4 426.3h.01M221.1 433.3h.01M177.3 461.5h.01M289.1 393.2h.01M203.6 443.1h.01M238.5 418.3h.01M181.4 471.4h.01M138.6 476.8h.01M191.3 418.1h.01M271.6 407.8h.01M195.2 471.4h.01M143.9 477.4h.01M184.2 451.3h.01M152.7 468.9h.01M200 479h.01M240.9 420h.01M285.6 407.8h.01M303.9 369.7h.01M240.2 417.8h.01M296.9 399.5h.01M264.1 443.8h.01M233.2 432.1h.01M174.3 476.1h.01M196.3 440.2h.01M276.1 401.6h.01M291.8 412.9h.01M272.6 420h.01M270.5 426.3h.01M198.8 477.3h.01M234.3 433.9h.01M291.6 407.8h.01M288.6 405.3h.01M259.4 426.3h.01M248.3 378.5h.01M235.8 420h.01M218.8 467.1h.01M195.6 471.4h.01M202.3 427.5h.01M235.6 426.3h.01M281.5 409.6h.01M218.3 430.2h.01M290.2 418.9h.01M244.1 435.9h.01M213.4 480.8h.01M229.4 446h.01M311.6 389.2h.01M276.4 394.9h.01M214.4 446h.01M187.8 488.5h.01M276.9 426.3h.01M188.4 458.4h.01M270.1 407.8h.01M221 401.6h.01M156.4 493.1h.01M181.9 461.5h.01M275.5 418.4h.01M186.4 451.3h.01M230.9 434.5h.01M255.7 450h.01M215.5 426.3h.01M246.2 438.9h.01M200.3 476.8h.01M293.8 416.7h.01M219.3 446h.01M183.5 483.3h.01M293.7 363h.01M289.9 403h.01M272.7 411.5h.01M239.5 428.5h.01M266.4 418.8h.01M194.3 476.8h.01M311.8 396.7h.01M287.8 407.7h.01M284.7 376.2h.01M291.8 393.3h.01M231.3 430.6h.01M302.5 367.8h.01M149.5 477.6h.01M236 447.5h.01M260.8 378.5h.01M191.8 451.3h.01M295.5 386.5h.01M251 423.9h.01M269.5 401.6h.01M278 394.8h.01M232.8 426.3h.01M202.3 461.5h.01M285.7 378h.01M302.3 398.8h.01M247.2 421h.01M168.7 476.8h.01M258.1 407.8h.01M220.3 462.8h.01M260 426.3h.01M240.9 420h.01M222.8 446h.01M249.5 397.4h.01M230.8 426.3h.01M314.6 359.5h.01M260.6 424h.01M147.3 507.9h.01M314.4 374.2h.01M306.6 381.8h.01M231.3 428.9h.01M163.4 476.8h.01M235.1 426.3h.01M190.6 483.4h.01M285.8 407.8h.01M130.3 500.6h.01M292.8 399.1h.01M183.8 451.3h.01M262.4 407.8h.01M200.9 461.5h.01M294 360.8h.01M287.2 407.8h.01M175.2 473.1h.01M182.4 451.3h.01M243 420h.01M264.7 413.3h.01M191.1 476.8h.01M330 397h.01M242.4 401.6h.01M299.3 376.6h.01M260.5 434.5h.01M158 471.4h.01M274.8 388h.01M230.2 448.4h.01M215.1 448.9h.01M309.2 397.9h.01M226.7 426.3h.01M231.9 428.8h.01M312.1 366.2h.01M153.2 476.8h.01M281.8 388.8h.01M298.5 393.3h.01M195.9 441.7h.01M272.9 422.1h.01M187.3 451.3h.01M250 434.5h.01M311.9 380.7h.01M235.9 420h.01M149.9 488.5h.01M296 407.8h.01M259.2 396h.01M198 465.6h.01M302.5 378h.01M273.5 415h.01M138.2 503h.01M171.7 461.4h.01M273.2 388.7h.01M303.1 376.6h.01M285.2 420.8h.01M205.5 439.5h.01M239.5 453.9h.01M304.4 401.6h.01M254 416.4h.01M242.8 420h.01M277.5 407.8h.01M210.9 439.3h.01M234.6 425.6h.01M280.9 415.6h.01M221.6 451.3h.01M278.6 406.9h.01M247 431.2h.01M195 451.3h.01M290.8 410.2h.01M302 356.5h.01M309.8 323.8h.01M188.3 451.6h.01M209.1 454.8h.01M209.9 446h.01M290.3 354.1h.01M278.8 403.7h.01M174 479.4h.01M256.4 427.2h.01M287.2 420h.01M137.3 487.9h.01M201.7 488.5h.01M273.6 401.6h.01M192.4 443.7h.01M203.1 455.3h.01M191.4 460.2h.01M209.8 471.4h.01M183.6 446.9h.01M321.9 376.6h.01M286.8 407.8h.01M257.5 401.6h.01M220.9 434.7h.01M245.7 426.2h.01M173 488.5h.01M259.6 402.2h.01M303 387.2h.01M307.5 357.4h.01M233 398h.01M167.7 467.1h.01M201.4 432.8h.01M299.3 402.6h.01M266.7 428.8h.01M239.3 435.4h.01M288.3 407.8h.01M300.6 351.1h.01M253.3 441h.01M255.1 429h.01M308.4 376.6h.01M208 422.8h.01M275.5 393.3h.01M263.6 420h.01M249.5 446h.01M275.4 431.1h.01M275.7 409.4h.01M199.4 448.4h.01M296.3 401.6h.01M213 434.5h.01M284 407.8h.01M223.6 434.1h.01M248.9 428.8h.01M243.9 431.1h.01M205.7 459.1h.01M198.5 451.3h.01M146.1 491.7h.01M289 400.7h.01M154.6 494h.01M246 437.5h.01M286.4 391.4h.01M316.7 324.8h.01M265.6 401.6h.01M247.6 420h.01M234.4 434.7h.01M220.8 465.8h.01M200.4 458.3h.01M197.8 472h.01M208.6 463.3h.01M172.8 462.9h.01M147.6 496.3h.01M216.5 446h.01M316.8 391.7h.01M249.3 428.9h.01M265.8 418.1h.01M222.8 434.5h.01M312.5 406.2h.01M182.1 473.2h.01M258.8 406.2h.01M231 419.1h.01M256.8 393.3h.01M153.5 472.2h.01M188.7 467.8h.01M138.7 480.2h.01M250.3 401.6h.01M239.2 410h.01M190.4 471.4h.01M179.1 464.8h.01M283.1 381.8h.01M246.6 420h.01M315.1 366.2h.01M223.3 451.3h.01M237.4 458.3h.01M204.1 476.5h.01M197.5 454.4h.01M281.7 416.1h.01M258.4 413.3h.01M239.5 436.7h.01M297.9 420h.01M188.6 488.5h.01M246.3 419.6h.01M232.5 419.2h.01M162.8 488.5h.01M265.4 403.9h.01M253.3 409.7h.01M281.9 376.3h.01M193.1 473.6h.01M241.3 424.3h.01M232.1 418.3h.01M179.2 471.4h.01M154.1 471.4h.01M308.2 401.6h.01M292.1 381.8h.01M188.2 464.4h.01M158.8 482.2h.01M186.9 426.3h.01M231.9 444.4h.01M313.6 350.7h.01M235.5 420h.01M274 376.6h.01M307.9 388.3h.01M289 369.1h.01M265.3 425.4h.01M251 428.8h.01M280 416.6h.01M248.9 442.9h.01M304.3 377.5h.01M306.8 401.3h.01M285.6 395.4h.01M290.8 422.4h.01M207 451.7h.01M292 395.3h.01M198 468.2h.01M269.7 407.8h.01M294.7 397.6h.01M232.1 403.7h.01M226.6 448.5h.01M319.9 338.9h.01M265.6 420h.01M269.7 407.8h.01M221.1 426.3h.01M278.5 420h.01M305.6 380h.01M296.8 393.3h.01M124.6 484.2h.01M248.8 426.3h.01M189.2 472.1h.01M177.2 481.3h.01M246.7 430.9h.01M221 471.4h.01M261 420h.01M270 407h.01M245 454.2h.01M259.5 407.8h.01M307.3 404.1h.01M224 420.6h.01M257.8 415.1h.01M150.4 482.8h.01M139.5 467.9h.01M216.4 443.7h.01M176.3 471.4h.01M283.9 403.2h.01M280.7 401.6h.01M279.5 407.8h.01M242.2 426.3h.01M315.9 354.3h.01M304.4 381.8h.01M288.4 401.6h.01M295.6 381.1h.01M283.2 403.3h.01M285.1 382.5h.01M268.5 407.4h.01M268.6 417.3h.01M238.1 425.9h.01M180.9 451.3h.01M268.4 407.8h.01M262.8 407.8h.01M183.8 462.6h.01M288 350h.01M290.7 426.3h.01M326 381.8h.01M322.4 351.1h.01M186.4 461.5h.01M205.7 437.7h.01M243.6 420h.01M216.8 453.9h.01M192.4 476.8h.01M256.3 429.4h.01M272 420h.01M303.9 312.7h.01M205.5 479.2h.01M177.6 451.3h.01M304.7 382.9h.01M258.2 420h.01M285.6 401.6h.01M166.8 479.2h.01M268.6 407.6h.01M291.7 393.3h.01M214.8 467.7h.01M273.6 407.8h.01M276.6 388.3h.01M268.8 376.6h.01M296.8 393.4h.01M260.2 417.4h.01M276.9 401.6h.01M215 438.9h.01M198 471.4h.01M306.3 390.9h.01M311.6 361.6h.01M158.5 447.9h.01M235.7 434.5h.01M185.2 462.8h.01M255.4 386.3h.01M192.5 446h.01M309.7 405.8h.01M289.7 396.4h.01M274.7 413.1h.01M206.3 461.5h.01M210.1 454.9h.01M212.6 458.2h.01M276.6 401.6h.01M237.9 420h.01M272.9 395h.01M294.4 400h.01M216.8 461.5h.01M281.2 383.9h.01M189.4 471.8h.01M141 484.5h.01M235.4 420h.01M257.9 430.7h.01M137.8 488.5h.01M188.4 446h.01M188.2 451.8h.01M185.4 446.2h.01M300.4 366.2h.01M220.1 450.5h.01M190.9 441.2h.01M298.2 410.2h.01M318.3 364.3h.01M293 411.3h.01M261.1 426.3h.01M312.6 411.7h.01M258.5 429h.01M246.5 420h.01M217.4 440.5h.01M172 476.4h.01M314.4 351.1h.01M251.4 434.5h.01M221 454.2h.01M298.6 354h.01M237.6 419h.01M219.6 453.5h.01M176.5 439.4h.01M250.7 407.8h.01M253.2 410.7h.01M284.4 359.3h.01M268.7 422.3h.01M200 455.8h.01M212.6 455.9h.01M214 442.9h.01M276.9 420h.01M282.5 401.6h.01M296.8 405.8h.01M280.2 394.8h.01M268.1 407.8h.01M332.3 336.3h.01M255.9 420h.01M209.9 450.9h.01M276.1 409.8h.01M176.2 461.5h.01M240.4 426.3h.01M241.2 451.3h.01M134.6 503h.01M294.6 383.3h.01M258.6 415.2h.01M277.3 393.5h.01M316.9 393.3h.01M250.3 442.5h.01M346.8 331.6h.01M209.7 430.5h.01M148.1 471.6h.01M267.7 416.1h.01M230.9 434.5h.01M308.4 393.3h.01M210.9 446h.01M210.7 451.3h.01M247.1 429.8h.01M162 471.7h.01M235.3 426.7h.01M232.9 426.3h.01M308.3 351.1h.01M220.7 451.3h.01M274.1 410.7h.01M255.6 439.9h.01M251.3 420h.01M288 392.1h.01M241.5 420.8h.01M173.2 476.8h.01M246.7 436.2h.01M299 384.8h.01M244.4 426.3h.01M203.6 468.6h.01M319.5 355.4h.01M312.5 324.8h.01M180.2 455.6h.01M268.6 430.2h.01M242.5 446h.01M271.5 409.3h.01M246.8 426.3h.01M292.5 391.3h.01M289 385.9h.01M257.8 426.3h.01M164.5 461.5h.01M273.4 425.7h.01M311.3 351.1h.01M305.9 331.6h.01M192.5 446h.01M270.4 412h.01M283.7 401.6h.01M294.8 403.7h.01M193.6 471.4h.01M252.4 420.5h.01M266.7 393.3h.01M282.7 393.3h.01M322 371.2h.01M155.1 479.3h.01M278.6 420h.01M282.6 420h.01M310.9 370.1h.01M296 405h.01M235.1 454.3h.01M150.5 459.2h.01M265.7 418.2h.01M281.1 405.8h.01M142.7 482.7h.01M268 409.1h.01M275.8 401.6h.01M296.7 393.3h.01M243.1 421.8h.01M172.4 461.5h.01M287.7 423.9h.01M233.7 455.7h.01M275.4 407.8h.01M224.7 434.5h.01M273.4 393.3h.01M228.8 419.3h.01M255.5 408.4h.01M296.4 407.3h.01M233.7 447.4h.01M296.3 399.9h.01M250.7 422.7h.01M260.7 412h.01M235.3 461.5h.01M273 401.2h.01M248.7 407.8h.01M224.2 446h.01M253.3 407.4h.01M222.1 444.7h.01M145.4 496.3h.01M251.4 411.9h.01M279.6 425.1h.01M289.9 351.1h.01M189.1 453h.01M218 407.8h.01M196 431.9h.01M272.6 398.7h.01M247.5 434.5h.01M248.3 420h.01M156.3 502h.01M162.1 479.8h.01M262.5 428.2h.01M262 394.7h.01M296.6 407.8h.01M272.6 426.3h.01M192.4 453.1h.01M158.9 466.7h.01M215.5 461.5h.01M213.5 451.3h.01M269.8 418.5h.01M221.1 426.3h.01M279.6 403.7h.01M241 427.3h.01M306.6 412.7h.01M251.1 426.8h.01M280.1 356.5h.01M304.7 381.8h.01M214 434.5h.01M269.3 420h.01M312.1 400.2h.01M170.9 488.5h.01M293.7 350.2h.01M195.1 476.8h.01M232.8 461.5h.01M333.9 313.1h.01M184.2 463.7h.01M198.1 446h.01M280.5 400.2h.01M215.6 434.5h.01M205.8 476.1h.01M305.3 372.1h.01M274.2 407.8h.01M294.4 381.8h.01M233.2 461.5h.01M315.4 387h.01M279.4 382.4h.01M292 380.6h.01M243.9 457.8h.01M304.1 401.6h.01M154.9 488.5h.01M292.7 360.5h.01M298.3 418.4h.01M301 393.3h.01M289.2 393.3h.01M299.7 395.8h.01M211.1 427.7h.01M265.2 400h.01M241.9 407.8h.01M203.3 461.5h.01M264.5 431.3h.01M340 336.6h.01M254.9 401.6h.01M221.1 434.5h.01M253.8 408.5h.01M295 380.4h.01M273.6 381.8h.01M254.9 411.6h.01M190.6 434.5h.01M216.6 420h.01M293.9 401.6h.01M304.9 393.3h.01M270.9 407.8h.01M166.4 464.8h.01M304.6 376.6h.01M294.1 376.6h.01M301.6 378.4h.01M231.2 426.3h.01M318.6 355.1h.01M290.4 407.8h.01M267.9 407.4h.01M284 416.4h.01M249.3 417.4h.01M212.6 458.3h.01M243.9 407.8h.01M286.5 393.3h.01M206.7 451.1h.01M328.8 401.6h.01M307.6 389.7h.01M298.3 351h.01M136 482.7h.01M161.8 437.7h.01M248.7 433.4h.01M287.3 381.8h.01M184 457.7h.01M293.6 376.6h.01M210.6 446h.01M187.5 456.9h.01M270.4 419.3h.01M285.7 396.9h.01M162.8 488.5h.01M309.4 366.2h.01M250.1 405.3h.01M266.6 432.2h.01M229.1 434.5h.01M290.8 396.5h.01M280.5 401.6h.01M297.7 414.8h.01M130.4 488.5h.01M193.1 501.8h.01M260.5 381.8h.01M160.7 461.5h.01M252.9 414.7h.01M274.6 403.3h.01M297.1 420h.01M278.7 368.6h.01M186.7 443.9h.01M223.3 441.1h.01M304.1 401.6h.01M316.1 358h.01M190.6 446h.01M164.6 488.5h.01M292.6 388.3h.01M168.2 496.3h.01M218.4 427.2h.01M255.9 401.4h.01M193.9 448.4h.01M224.6 448.6h.01M223.8 411.7h.01M230.1 428.6h.01M310.5 399.5h.01M200 430h.01M274.9 401.6h.01M256.9 412.2h.01M229 451.7h.01M213.6 451.3h.01M181.8 437.7h.01M167 471.4h.01M182.3 450.3h.01M231.2 434.5h.01M251.1 434.5h.01M305.1 393.3h.01M312.5 364.1h.01M263 401.6h.01M186.2 448.1h.01M150.9 496.3h.01M311 399.8h.01M173.9 488.5h.01M209.4 455.6h.01M309.6 393.3h.01M225.8 425.8h.01M281.1 404.2h.01M251 446.3h.01M251.6 411.4h.01M279.1 414.4h.01M252.6 428.3h.01M253.6 407.8h.01M247.5 451.3h.01M205.3 432.1h.01M306 368.2h.01M220.3 426.3h.01M236.8 417.4h.01M187.3 474.6h.01M195.3 476.8h.01M306.4 370.9h.01M237.8 451.3h.01M261.5 432.5h.01M282.5 420h.01M290 384.6h.01M186.4 471.4h.01M241.5 434.5h.01M266 433.4h.01M170.6 483.5h.01M262 386h.01M264.6 407.8h.01M300.4 356.5h.01M295.8 405.6h.01M137.6 515.1h.01M302 413h.01M225.9 451.3h.01M196.1 461.5h.01M243.4 425.7h.01M193.8 451.3h.01M268.8 401.6h.01M264.9 376.3h.01M266.2 398.5h.01M301.7 381.1h.01M278.6 381.8h.01M305.4 365.5h.01M287.9 376.6h.01M267.2 381.8h.01M263.6 426.2h.01M244.6 407.7h.01M152 500.9h.01M248.4 434.5h.01M177.4 476.3h.01M232.7 446h.01M201.9 471.4h.01M176.6 478.4h.01M234.9 420h.01M271.4 401.8h.01M294.6 377.4h.01M176.5 488.5h.01M266.5 401.6h.01M199.3 492.3h.01M220.9 443.9h.01M221.6 454.4h.01M290.6 356.5h.01M169.2 471.4h.01M298.4 377.4h.01M193.1 451.3h.01M304.6 360.3h.01M140.1 476.8h.01M313.9 366.2h.01M297.5 393.3h.01M244.1 420h.01M296.4 394.8h.01M282 381.8h.01M268.9 407.8h.01M314.5 369.4h.01M235.2 426.3h.01M233.2 446h.01M254 422.4h.01M212.3 428.2h.01M293 402.7h.01M297.6 419.7h.01M198.5 433.8h.01M158.3 476.8h.01M244.8 424.4h.01M153.8 496.3h.01M261.2 420h.01M222.4 431.7h.01M195.9 444.7h.01M307.6 381.8h.01M235.2 457.3h.01M194.8 461.5h.01M291.2 381.8h.01M234.2 434.5h.01M264.9 415.4h.01M281.5 395.6h.01M286 401.6h.01M281 389.9h.01M201.5 474.1h.01M185.8 451.3h.01M233.1 446h.01M288.9 395.6h.01M249.8 446h.01M268.6 404.5h.01M238.8 426.3h.01M312.2 351.9h.01M208.2 470.7h.01M279.9 410.9h.01M194.2 446h.01M267.7 386.1h.01M271.3 397.5h.01M232.4 447.9h.01M252 441.4h.01M244.8 431.5h.01M263 414.4h.01M203.8 434.5h.01M163.5 469.6h.01M198.5 456.3h.01M201 451.3h.01M260.1 418.3h.01M290.5 420h.01M183.8 468h.01M296.2 407.8h.01M232.2 426.3h.01M281.5 399.8h.01M252.8 418.1h.01M292.1 401.7h.01M168.1 464.7h.01M176.6 471.4h.01M244.7 407.8h.01M211.2 451.3h.01M235.3 452.4h.01M189 461.5h.01M234.6 444.9h.01M248.4 400.5h.01M232.1 434.5h.01M258.9 404.8h.01M275.2 420.3h.01M280.9 369.6h.01M337.5 351.1h.01M205.4 471.4h.01M258.1 420h.01M261.3 421.5h.01M239.9 433.9h.01M255.8 358.8h.01M216.8 436.1h.01M222 446h.01M281.6 366.2h.01M193.1 451.3h.01M229.1 426.3h.01M235.3 423.8h.01M283.9 407.8h.01M284 369.4h.01M270.1 401.6h.01M249.1 397.7h.01M235.9 451.8h.01M242.3 433h.01M183.5 478.7h.01M303.2 393.3h.01M212.8 450.9h.01M215.2 434.5h.01M256.2 419.1h.01M206.8 446h.01M328.3 393.3h.01M239.3 446h.01M279.5 401.6h.01M252.8 425h.01M192.6 434.5h.01M269.7 400.7h.01M157.2 485.5h.01M297.6 381.8h.01M201.8 467.7h.01M165.6 487.2h.01M237.6 451.3h.01M278.1 418.4h.01M188.7 451.8h.01M220 434.4h.01M166 494.7h.01M175.6 446h.01M305.5 386.6h.01M241 426.3h.01M292.2 376.8h.01M262.7 424.1h.01M293.2 385.8h.01M247.5 421.2h.01M211.5 452.1h.01M299.2 356h.01M247.9 401.6h.01M324 339.3h.01M312.8 399.2h.01M307.4 407.2h.01M264.5 308h.01M300 399.4h.01M179.9 445.5h.01M273.1 418.1h.01M299.1 358.4h.01M290.2 407.8h.01M220.9 313.2h.01M295.5 366.2h.01M230.8 414.2h.01M265 368.5h.01M260 428.8h.01M340.8 356.5h.01M205.2 460.3h.01M224.4 470.9h.01M187.6 471.4h.01M119.1 458.3h.01M236.8 435.7h.01M226.5 476.7h.01M259.9 356.5h.01M312 330.1h.01M303.7 401.5h.01M159.4 503h.01M245.3 418.9h.01M209.7 430.2h.01M310 389.4h.01M257.3 429.6h.01M214.2 461.5h.01M222.1 431h.01M300.7 331.6h.01M331.3 404.5h.01M251.5 410h.01M236 357.5h.01M247 324.8h.01M204.1 451.3h.01M284.5 306.5h.01M225.7 393.3h.01M284.2 436.7h.01M228.9 462.4h.01M294.2 391h.01M317.5 342.7h.01M222 489h.01M182.5 446h.01M176.1 458.8h.01M165.3 445.7h.01M253.4 449.1h.01M325.2 339.3h.01M323.7 356.5h.01M152.9 476.8h.01M286.1 393.3h.01M167.4 434.5h.01M206.6 450.8h.01M176.9 425h.01M333.6 337.1h.01M252.1 432.1h.01M214.9 419.1h.01M291.8 395.4h.01M181.2 420h.01M276.9 434.5h.01M285.3 326.1h.01M218.4 407.8h.01M307.7 376.6h.01M305.2 420h.01M287.4 372.7h.01M287 420h.01M264.8 420h.01M292.2 368.5h.01M304.4 386.6h.01M252.8 431.6h.01M185 437.9h.01M182.1 488.5h.01M218.6 439.4h.01M228 430.9h.01M184.2 512.8h.01M116.5 510.9h.01M254.7 425.2h.01M224.2 420.5h.01M125.9 496.1h.01M289.5 405.2h.01M168.3 471.4h.01M263.3 376.6h.01M283.3 376.6h.01M349 393.3h.01M257.1 423.1h.01M282.9 406.6h.01M311.1 380.1h.01M309.7 348.7h.01M309.7 341h.01M210.8 488.5h.01M151.6 461.5h.01M205.4 461.5h.01M188.6 440.1h.01M213.4 431.2h.01M229.3 420h.01M198.9 447.7h.01M271.1 414.2h.01M183.2 478.7h.01M310.9 385.7h.01M254.7 420h.01M205.2 460.5h.01M212 434.5h.01M223.8 461.5h.01M248.9 451.3h.01M259.8 407.9h.01M232.7 413.5h.01M297.8 336h.01M266.4 408.5h.01M141.5 496.3h.01M344.2 340.5h.01M196.7 489h.01M198 476.8h.01M229.3 461.5h.01M294.5 369h.01M132.3 471.4h.01M171.1 515.1h.01M251.6 400.9h.01M308.4 363.1h.01M280.8 366.2h.01M287.8 393.3h.01M242.5 393.3h.01M320.9 343.1h.01M305.4 381.8h.01M279.4 407.8h.01M190.6 451.3h.01M132.2 521h.01M340.3 296.7h.01M189.5 488.5h.01M182.9 483.4h.01M165.1 510.9h.01M192.9 423h.01M218.5 408.9h.01M304.9 381.8h.01M315.2 393.3h.01M314.7 388.7h.01M320.6 390.3h.01M280.1 407.8h.01M335.1 339.3h.01M246.1 361.8h.01M282.6 414.5h.01M303.8 318.5h.01M151.3 472h.01M258.7 451.3h.01M316.6 387.5h.01M195 461.5h.01M133.8 503h.01M221 462.7h.01M279.4 395.2h.01M222.6 434.5h.01M206.4 451.7h.01M164 471.4h.01M220.8 410.6h.01M273.3 393.3h.01M266.6 410.7h.01M277.7 331.6h.01M178.3 476.3h.01M167 445h.01M247.3 426.3h.01M293.8 429.2h.01M172.9 502.2h.01M276.3 324.2h.01M146.1 486.8h.01M273.3 396.1h.01M304.2 422.9h.01M265.7 420h.01M296 401.6h.01M262 407.8h.01M224.2 431.8h.01M239.9 401.6h.01M249.4 381.8h.01M354.7 286.9h.01M296.6 400.8h.01M275.4 424.9h.01M262.7 331.6h.01M245.7 332.4h.01M139.1 476.8h.01M357.5 298h.01M300.5 351.1h.01M213.4 404.9h.01M249.5 445.7h.01M247.8 444.4h.01M285.7 429.2h.01M254.9 407.8h.01M278.6 407.8h.01M303.3 328.3h.01M190.4 451.3h.01M208.8 476.8h.01M151.8 526.9h.01M211.3 393h.01M285.7 416.5h.01M297.2 389.3h.01M233.8 451.4h.01M175.3 453.1h.01M271.6 373.9h.01M277.6 381.2h.01M237.2 488.3h.01M309.3 434.6h.01M332.5 371.6h.01M241.3 407.8h.01M281.5 414.3h.01M201.4 450h.01M189.1 469.1h.01M167.5 466.1h.01M283.6 356.5h.01M264.1 345.2h.01M230 442.2h.01M186.1 451.3h.01M284.6 351.1h.01M269.1 424.7h.01M156.9 467h.01M201.1 457.2h.01M219.2 476.8h.01M253.6 428.1h.01M325.3 420h.01M235.4 438.8h.01M242.1 450.8h.01M298.6 387.7h.01M162.9 455.7h.01M313 405.5h.01M132.8 532h.01M320.5 393.3h.01M205.5 461.1h.01M195.6 476.6h.01M134.6 461.1h.01M211.4 442.4h.01M168.5 476.8h.01M233.5 331.6h.01M250.9 407.8h.01M154.1 506.9h.01M269.8 426.3h.01M292.5 401.6h.01M292.3 387.4h.01M286.1 393.3h.01M321.6 312.7h.01M163.8 450h.01M348.1 324.8h.01M172.8 451.3h.01M290 324.8h.01M286.6 365.4h.01M260 414.9h.01M282.6 344.9h.01M321.1 330.6h.01M177.6 503h.01M160.8 496.3h.01M220.7 443.3h.01M188 451.3h.01M279.1 365.1h.01M298.5 327.1h.01M312.9 387.6h.01M280 420h.01M157.4 458.8h.01M257.4 417h.01M279.7 406h.01M296.3 342.3h.01M338.6 370h.01M261.4 413.3h.01M298.7 393.3h.01M272.3 407.8h.01M251 434.5h.01M285.8 393.3h.01M192.8 503h.01M150.1 428.2h.01M140.4 505.9h.01M226.3 419.8h.01M251.2 434.5h.01M151.8 515.8h.01M322 406.5h.01M238.4 451.3h.01M241.5 460.6h.01M252.4 381.8h.01M252.4 407.8h.01M275.9 406.3h.01M338.2 356.5h.01M290.1 396.1h.01M298.6 394.4h.01M165.7 464.3h.01M164.5 503h.01M338.4 295.5h.01M195.7 446h.01M195.5 446h.01M288.3 393.3h.01M217.1 471.4h.01M308.4 410.3h.01M286 343.5h.01M262.6 331.6h.01M272.5 446.2h.01M122.9 503h.01M194.4 430h.01M169.4 503h.01M285 381.8h.01M266.4 379.9h.01M170.6 476.8h.01M300.1 401.6h.01M214.7 445.9h.01M232.9 434.1h.01M220.6 411.8h.01M252.7 450.7h.01M209.4 446h.01M167.5 514.5h.01M189.8 476.8h.01M183.4 450.8h.01M298.1 402.9h.01M245.4 434.5h.01M256.1 389.7h.01M173.6 496.3h.01M216.7 442.9h.01M327.2 371.5h.01M153.1 466.3h.01M248.2 461.5h.01M147.7 502.8h.01M145.7 521h.01M278.5 420h.01M287.3 364.4h.01M301.1 363.6h.01M268.2 312.7h.01M305.4 367.1h.01M180.1 455.5h.01M276 260.7h.01M213.9 420h.01M219.1 446h.01M303.3 375.6h.01M232.2 438.1h.01M187.1 443.5h.01M242.4 428.6h.01M323.9 312.7h.01M257.3 434.5h.01M270.5 351.1h.01M366.1 325.9h.01M162.2 476.8h.01M219.7 472.6h.01M127.7 488.5h.01M295.8 352.3h.01M284.2 397.9h.01M296.1 376.2h.01M251.6 400.9h.01M271.2 356.5h.01M225.7 427.8h.01M253.4 461.5h.01M191.9 501.6h.01M217.4 461.5h.01M238.8 420h.01M246.4 405.7h.01M274.6 401h.01M244.7 438.1h.01M215.6 445.5h.01M227.9 405.1h.01M206.7 434.5h.01M269.9 366.2h.01M329.3 331.6h.01M144 461.5h.01M268.6 376.6h.01M127.4 476.8h.01M181.4 496.3h.01M259.2 376.6h.01M282.6 393.3h.01M195.2 431.5h.01M260.5 395.4h.01M276.1 339.3h.01M264.2 426.3h.01M260.3 356.5h.01M295.7 426.3h.01M251.6 376.6h.01M227.3 446h.01M226.1 466.2h.01M259.1 356.5h.01M170 496.3h.01M174.9 456.9h.01M181.6 456.9h.01M200.2 456.9h.01M186.7 456.9h.01M163.2 456.9h.01M187.8 456.9h.01M188 456.9h.01M154.7 456.9h.01M156.8 456.9h.01M170.7 456.9h.01M173.4 456.9h.01M198.1 456.9h.01M158.1 456.9h.01M199 456.9h.01M190.4 456.9h.01M161.5 456.9h.01M204.6 456.9h.01M192.9 456.9h.01M202 456.9h.01M200.9 456.9h.01M201.2 456.9h.01M197.2 456.9h.01M191.7 456.9h.01M195.2 456.9h.01M156.1 456.9h.01M208.1 456.9h.01M195.6 456.9h.01M196.4 456.9h.01M180.5 456.9h.01M190.8 456.9h.01M185.6 456.9h.01M173.3 456.9h.01M181.9 456.9h.01M160.4 456.9h.01M189.9 456.9h.01M204.8 456.9h.01M165.6 456.9h.01M204 456.9h.01M167.7 456.9h.01M160 456.9h.01M187.1 456.9h.01M201.7 456.9h.01M165.5 456.9h.01M191.5 456.9h.01M204.6 456.9h.01M320.6 418.2h.01M279.4 418.2h.01M296.9 418.2h.01M276.4 418.2h.01M304 418.2h.01M266.8 418.2h.01M326.9 418.2h.01M295.1 418.2h.01M254.6 418.2h.01M281.1 418.2h.01M271.3 418.2h.01M257.2 418.2h.01M279.3 418.2h.01M317.5 418.2h.01M303.9 418.2h.01M309.9 418.2h.01M259.7 418.2h.01M311.1 418.2h.01M294 418.2h.01M295.8 418.2h.01M264.7 418.2h.01M326.8 418.2h.01M313.3 418.2h.01M312.6 418.2h.01M325.3 418.2h.01M279.3 418.2h.01M282.6 418.2h.01M293.4 418.2h.01M258.6 418.2h.01M312.2 418.2h.01M292.9 418.2h.01M323.9 418.2h.01M300.7 418.2h.01M288.6 418.2h.01M324.3 418.2h.01M278.5 418.2h.01M295.5 418.2h.01M262 418.2h.01M269.5 418.2h.01M317.2 418.2h.01M262.2 418.2h.01M307.9 418.2h.01M268.7 418.2h.01M298.7 418.2h.01M267.5 418.2h.01M294.7 418.2h.01M292.6 418.2h.01M287.8 418.2h.01M259.8 418.2h.01M315.9 418.2h.01M315.7 418.2h.01M327.3 418.2h.01M306.1 418.2h.01M313.9 418.2h.01M283.6 418.2h.01M298.1 418.2h.01M308.2 418.2h.01M292.1 418.2h.01M325.9 418.2h.01M296 418.2h.01M256.9 418.2h.01M258.6 418.2h.01M264.5 418.2h.01M274.1 418.2h.01M312 418.2h.01M327 418.2h.01M268 418.2h.01M261 418.2h.01M277.5 418.2h.01M312.1 418.2h.01M293.8 400.6h.01M269 400.6h.01M288.2 400.6h.01M283.4 400.6h.01M277.9 400.6h.01M267.9 400.6h.01M296.1 400.6h.01M285.1 400.6h.01M267.8 400.6h.01M277.1 400.6h.01M287 400.6h.01M286.2 400.6h.01M282 400.6h.01M283.8 400.6h.01M282 400.6h.01M290.3 400.6h.01M287.7 400.6h.01M268.4 400.6h.01M296.2 400.6h.01M284.2 400.6h.01M270.9 400.6h.01M278.6 400.6h.01M296.3 400.6h.01M265 400.6h.01M271.9 400.6h.01M266.8 400.6h.01M265.2 400.6h.01M268.6 400.6h.01M283.3 400.6h.01M261.3 400.6h.01M284.6 400.6h.01M260.7 400.6h.01M273.4 400.6h.01M265.7 400.6h.01M278.2 400.6h.01M277.9 400.6h.01M288.6 400.6h.01M286.2 400.6h.01M276.2 400.6h.01M298.1 400.6h.01M279.4 390.1h.01M272.8 390.1h.01M288.2 390.1h.01M272.6 390.1h.01M297.2 390.1h.01M274 390.1h.01M286.4 390.1h.01M270.9 390.1h.01M286.9 390.1h.01M282.4 390.1h.01M281.7 390.1h.01M297.6 390.1h.01M269.1 390.1h.01M251.6 390.1h.01M286.2 390.1h.01M263.2 390.1h.01M276.4 390.1h.01M263.2 390.1h.01M246.1 390.1h.01M296.9 390.1h.01M251.1 390.1h.01M247.6 390.1h.01M252.2 390.1h.01M296.1 390.1h.01M295.8 390.1h.01M254.2 390.1h.01M292.9 390.1h.01M267.7 390.1h.01M270.9 390.1h.01M281.4 390.1h.01M248.1 390.1h.01M288.8 390.1h.01M294.4 390.1h.01M283.6 390.1h.01M246.7 390.1h.01M281.6 390.1h.01M284.9 390.1h.01M291.2 390.1h.01M282 390.1h.01M248.7 390.1h.01M335.2 342.4h.01M323.2 342.4h.01M337.8 342.4h.01M325.4 342.4h.01M320.1 342.4h.01M326.7 342.4h.01M319.7 342.4h.01M323.8 342.4h.01M337.3 342.4h.01M330.6 342.4h.01M327.1 342.4h.01M322.6 342.4h.01M331.2 342.4h.01M326.3 342.4h.01M340.1 342.4h.01M337.1 342.4h.01M337.1 342.4h.01M325.8 342.4h.01M334.3 313.7h.01M310.6 313.7h.01M327.2 313.7h.01M325.9 313.7h.01M328.2 313.7h.01M328.6 313.7h.01M325.5 313.7h.01M318.7 313.7h.01M325 313.7h.01M320.4 313.7h.01M309.9 313.7h.01M310.2 313.7h.01M331.2 313.7h.01M318.8 313.7h.01M320.7 313.7h.01M316.1 313.7h.01M333.3 313.7h.01M309.3 313.7h.01M328.4 313.7h.01M334.9 313.7h.01M315.1 313.7h.01M320.8 313.7h.01M227.4 463.6h.01M248 463.6h.01M227.6 463.6h.01M236.4 463.6h.01M239 463.6h.01M249.7 463.6h.01M228.7 463.6h.01M238.9 463.6h.01M251.5 463.6h.01M245.9 463.6h.01M230.7 463.6h.01M242.3 463.6h.01M250.9 463.6h.01M227.2 463.6h.01M199.4 445.4h.01M206.8 445.4h.01M199.3 445.4h.01M192.9 445.4h.01M186.5 445.4h.01M189.5 445.4h.01M184.3 445.4h.01M189.4 445.4h.01M202 445.4h.01M211.9 445.4h.01M177 445.4h.01M174.3 445.4h.01M178.3 445.4h.01M183.3 445.4h.01M172.5 445.4h.01M182.6 445.4h.01M187.2 445.4h.01M200.7 445.4h.01M188.4 445.4h.01M181.2 445.4h.01M202.3 445.4h.01M197.8 445.4h.01M185.3 445.4h.01M177.6 445.4h.01M198 445.4h.01M209.4 445.4h.01M180.9 445.4h.01M177.6 445.4h.01M207.6 445.4h.01M212.5 445.4h.01M189.4 504.6h.01M176.6 504.6h.01M150.3 504.6h.01M144.1 504.6h.01M181.4 504.6h.01M174.1 504.6h.01M152.9 504.6h.01M165.1 504.6h.01M190.6 504.6h.01M184.9 504.6h.01M186.1 504.6h.01M157.1 504.6h.01M184.5 504.6h.01M184.6 504.6h.01M160 504.6h.01M185.9 504.6h.01M149.9 504.6h.01M193.8 504.6h.01M167.6 517h.01M129.2 517h.01M130.6 517h.01M134.7 517h.01M128.8 517h.01M142.3 517h.01M133.5 517h.01M141.9 517h.01M139.6 517h.01M152.4 517h.01M155 517h.01M134.4 517h.01M161.3 517h.01M142.7 517h.01M145.7 517h.01M165.2 517h.01M134.9 517h.01M142.1 517h.01M136.5 517h.01M139.6 517h.01M149.1 517h.01M144.8 517h.01M167.4 517h.01M137.4 517h.01M143.9 517h.01M138.3 517h.01M141.5 517h.01M129.9 517h.01M130.4 517h.01M145.2 517h.01M132.1 517h.01M129.5 517h.01M151.8 517h.01M133.3 517h.01M146.2 517h.01M239.7 255.5h.01M256.1 255.5h.01M96.4 409.2h.01M308.6 285.1h.01M313.5 285.1h.01M336.5 285.1h.01M342.4 285.1h.01M344.2 285.1h.01M375.7 325.5h.01M132.5 437.8h.01M141.5 430.2h.01M150.5 413.9h.01M157.2 411.1h.01M125.7 445.4h.01M155 245.9h.01M156.8 245.9h.01M158.4 245.9h.01M277.4 267.8h.01M218.7 283.7h.01M231.6 284.3h.01M272.4 284.3h.01M285.9 284.3h.01M308.8 284.7h.01M209.1 295.3h.01M258.5 290.1h.01M261.8 292.7h.01M204.7 301.1h.01M218.3 298.3h.01M219.7 301.1h.01M259.1 301.3h.01M270 299.3h.01M279 301.3h.01M204.7 305.6h.01M219.3 309.6h.01M231.6 305.6h.01M275.4 306.2h.01M178.5 313h.01M188.8 313h.01M190.4 313h.01M204.7 313h.01M218.3 313h.01M219.7 313h.01M231.6 313h.01M245.5 310h.01M245.5 315.2h.01M267 312.6h.01M219.3 320.6h.01M239.6 323.5h.01M258.9 320.2h.01M280 323.1h.01M218.3 329.1h.01M226.2 329.1h.01M237 332.5h.01M240.6 332.5h.01M241.9 332.5h.01M245.5 329.9h.01M249.5 329.5h.01M253.1 329.5h.01M267.4 329.5h.01M226.2 335.1h.01M191.2 343.8h.01M185.4 346.8h.01M205.7 351h.01M191.2 358.8h.01M196.2 358.8h.01M218.3 361h.01M239.6 358.4h.01M245.1 362.4h.01M218.3 370.3h.01M226.2 365.7h.01M236 365.7h.01" stroke="#0a0a0a" stroke-width="1.7" stroke-linecap="square" fill="none" opacity=".92"/>
<path d="M79.9 492.9L87.5 491.5L95 489.9L102.6 488.1L110.1 486.1L117.7 484L125.2 481.6L132.8 479.1L140.3 476.5L147.9 473.6L155.4 470.6L163 467.3L170.5 463.9L178.1 460.4L185.6 456.6L193.2 452.7L200.7 448.5L208.3 444.2L215.8 439.8L223.4 435.1L230.9 430.3L238.5 425.3L246 420.1L253.6 414.7L261.1 409.1L268.7 403.4L276.2 397.5L283.8 391.4L291.3 385.1L298.8 378.7L306.4 372L313.9 365.2L321.5 358.2L329 351L336.6 343.7L344.1 336.2L351.7 328.5L359.2 320.6L366.8 312.5L374.3 304.2" fill="none" stroke="#000" stroke-width="3.5" stroke-dasharray="12.7 5.4"/>
<rect x="73.9" y="237.4" width="315.3" height="314.9" fill="none" stroke="#0a0a0a" stroke-width="1.35"/>
<path d="M96.4 552.3v7.6M141.5 552.3v7.6M186.5 552.3v7.6M231.6 552.3v7.6M276.6 552.3v7.6M321.6 552.3v7.6M366.7 552.3v7.6M73.9 552.3h-7.6M73.9 504.6h-7.6M73.9 456.9h-7.6M73.9 409.2h-7.6M73.9 361.5h-7.6M73.9 313.7h-7.6M73.9 266h-7.6" stroke="#0a0a0a" stroke-width="1.35" fill="none"/>
<g font-size="13.1" text-anchor="middle">
<text x="96.4" y="578.1">3</text>
<text x="141.5" y="578.1">4</text>
<text x="186.5" y="578.1">5</text>
<text x="231.6" y="578.1">6</text>
<text x="276.6" y="578.1">7</text>
<text x="321.6" y="578.1">8</text>
<text x="366.7" y="578.1">9</text>
</g>
<g font-size="13.1" text-anchor="end">
<text x="57.7" y="557.3">−0.5</text>
<text x="57.7" y="509.6">0.0</text>
<text x="57.7" y="461.9">0.5</text>
<text x="57.7" y="414.2">1.0</text>
<text x="57.7" y="366.5">1.5</text>
<text x="57.7" y="318.7">2.0</text>
<text x="57.7" y="271">2.5</text>
</g>
<text x="231.6" y="602.8" font-size="17.8" text-anchor="middle">ROM Size</text>
<text transform="translate(13.3 394.8) rotate(-90)" font-size="17.8" text-anchor="middle">CPU Speed</text>
<text x="73.1" y="224" font-size="17.8">Full Morphospace</text>
<text x="47.9" y="249.1" font-size="35" font-weight="bold" text-anchor="end">a</text>
<rect x="402.4" y="527.58" width="16.5" height="12.96" fill="#8293c5"/>
<rect x="402.4" y="514.92" width="16.5" height="12.96" fill="#75a5cd"/>
<rect x="402.4" y="502.26" width="16.5" height="12.96" fill="#79b6cd"/>
<rect x="402.4" y="489.60" width="16.5" height="12.96" fill="#87c6c6"/>
<rect x="402.4" y="476.94" width="16.5" height="12.96" fill="#98d6c0"/>
<rect x="402.4" y="464.28" width="16.5" height="12.96" fill="#addec0"/>
<rect x="402.4" y="451.62" width="16.5" height="12.96" fill="#bfe5bf"/>
<rect x="402.4" y="438.96" width="16.5" height="12.96" fill="#d2edbc"/>
<rect x="402.4" y="426.30" width="16.5" height="12.96" fill="#e4f4b9"/>
<rect x="402.4" y="413.64" width="16.5" height="12.96" fill="#f0f9bb"/>
<rect x="402.4" y="400.98" width="16.5" height="12.96" fill="#f8fcc7"/>
<rect x="402.4" y="388.32" width="16.5" height="12.96" fill="#ffffd1"/>
<rect x="402.4" y="375.66" width="16.5" height="12.96" fill="#fff6c3"/>
<rect x="402.4" y="363.00" width="16.5" height="12.96" fill="#feedb4"/>
<rect x="402.4" y="350.34" width="16.5" height="12.96" fill="#fee0a6"/>
<rect x="402.4" y="337.68" width="16.5" height="12.96" fill="#fed29a"/>
<rect x="402.4" y="325.02" width="16.5" height="12.96" fill="#fdc28e"/>
<rect x="402.4" y="312.36" width="16.5" height="12.96" fill="#faae85"/>
<rect x="402.4" y="299.70" width="16.5" height="12.96" fill="#f89c7d"/>
<rect x="402.4" y="287.04" width="16.5" height="12.96" fill="#f08d7e"/>
<rect x="402.4" y="274.38" width="16.5" height="12.96" fill="#e67f82"/>
<rect x="402.4" y="261.72" width="16.5" height="12.96" fill="#db7082"/>
<rect x="402.4" y="249.06" width="16.5" height="12.96" fill="#ca5e7e"/>
<rect x="402.4" y="236.40" width="16.5" height="12.96" fill="#bb4d7b"/>
<rect x="402.4" y="236.4" width="16.5" height="316.5" fill="none" stroke="#0a0a0a" stroke-width="1.35"/>
<g font-size="13.1">
<text x="434.3" y="558.5">0.00</text>
<text x="434.3" y="520.5">0.06</text>
<text x="434.3" y="482.5">0.12</text>
<text x="434.3" y="444.6">0.18</text>
<text x="434.3" y="406.6">0.24</text>
<text x="434.3" y="368.6">0.30</text>
<text x="434.3" y="330.6">0.36</text>
<text x="434.3" y="292.6">0.42</text>
<text x="434.3" y="254.7">0.48</text>
</g>
<path d="M418.9 552.9h7.6M418.9 514.9h7.6M418.9 476.9h7.6M418.9 439h7.6M418.9 401h7.6M418.9 363h7.6M418.9 325h7.6M418.9 287h7.6M418.9 249.1h7.6" stroke="#0a0a0a" stroke-width="1.35" fill="none"/>
</g>
<g id="panel-b">
<clipPath id="clb"><rect x="643" y="26.6" width="315.3" height="306.8"/></clipPath>
<g clip-path="url(#clb)">
<path fill="#8293c5" d="M847.3 61.3L848.2 62.4L848.9 63.8L849 67.3L847.8 71.1L845.2 75.1L842.2 78.3L838.8 80.4L835.2 81.1L832.8 80.2L831.3 77.8L831.2 74.3L832.3 70.8L834.7 66.8L837.8 63.7L841.7 61.3L844.8 60.7ZM796 68.3L796.5 69.8L796.2 71.7L793.8 76.3L790.2 80.3L783.8 85.3L776 90.8L771 93.3L766.2 94.3L764.2 93.9L763.2 93L762.8 91.8L763 89.8L765.2 85.4L769 81.3L775.2 76.3L783.1 70.8L788 68.3L792.8 67.3L794.8 67.6ZM919.2 85.1L922.3 88.8L924.9 93.3L928.8 101.8L930.2 107.3L930.7 111.3L930.4 115.8L929.3 122.8L927.9 127.3L910.2 167.4L902.6 181.9L898.9 187.9L889.8 199.9L884.6 205.9L874.8 215.9L863.8 225.4L848.8 237L818.2 257.4L775 284.4L745.8 303.1L729.2 312.4L717.8 317.6L709.8 320.1L702.8 321.6L695.8 321.7L691.4 320.9L687.8 319L685 316.9L669.6 300.4L667 296.9L665.2 293.4L664.2 290.4L663.7 286.4L663.7 282.4L664.2 278.9L667.8 267.9L672.3 259.4L681.2 245.4L688.8 234.9L695.4 226.9L701.8 220L709.8 212.9L715.8 208L721.8 204L735.2 196.6L753.8 188.9L776.8 181L783.1 177.9L789.3 173.9L796.2 166.4L801.3 158.9L815.1 132.4L822.4 121.3L828.6 114.3L834.2 109.4L839.2 106.1L849.2 100.6L867.2 93.3L901.8 81.6L906.8 80.7L912.2 80.9L915.8 82.3Z"/>
<path fill="#76a3cd" d="M909.2 101.8L911.7 104.8L914.1 108.8L916.7 115.8L917.2 119.3L917.1 122.8L915.4 130.9L902.4 164.4L894.5 181.4L889.1 190.4L883.9 197.9L875.3 207.9L871.8 211.4L860.2 221.3L847.2 231L824.2 246.6L765.2 284.5L745.8 296.6L732.2 304.2L715.2 311.5L707.8 313.1L702.8 313.4L697.8 312.5L693.4 310.4L689.8 307.6L684.1 301.9L678.6 293.9L677.1 290.9L676.1 287.9L675.2 282.9L675.1 279.4L675.7 275.4L677 270.9L679.2 265.9L681.9 260.9L691.2 247.4L704.6 229.9L709.5 224.4L716.2 217.8L724.8 211.3L736.2 204.9L748.2 199.6L777.2 189.2L789.4 183.4L795.8 179.3L804.5 170.9L809.3 164.4L814.8 155.3L823.4 137.9L826.6 132.4L830 127.8L833.2 124.2L838.3 119.3L844.1 114.8L857.7 106.8L873.7 99.3L881.2 96.8L888.2 95.3L893.2 94.9L899.9 95.8L905.2 98.4Z"/>
<path fill="#76b3ce" d="M903.8 109.6L906.9 113.8L908.9 117.8L910 121.3L910.5 126.3L910.4 130.4L909.3 135.9L905.4 148.9L894.9 174.4L890 183.9L885.1 191.4L879.8 198.5L872.2 206.8L864.2 214.1L857.8 219.5L844.8 229.3L820.8 245.5L759.2 285L745.2 293.6L732.8 300.4L723.8 304.3L715.8 306.9L711.2 307.7L706.2 307.6L701.8 306.9L698.2 305.3L694.2 302.4L689.8 297.9L687.4 294.9L685.1 290.9L683.9 287.9L683 284.4L682.7 280.4L682.9 276.4L685.2 268.4L687.6 263.4L691.1 257.9L702.1 242.4L708.1 234.9L714 228.4L721.8 221.3L727.2 216.7L732.2 213.3L748.2 204.7L760.2 199.7L776.8 193.9L787.2 189.6L793.7 186.4L799.1 182.9L806.7 175.9L811.1 170.9L819.4 158.4L827.8 143.5L832.7 136.4L836.2 132L842.2 126.2L848.2 121.3L859.2 114L869.2 108.9L876.2 105.9L880.2 104.7L885.2 103.9L891.2 103.6L896.2 104.6L900.2 106.5Z"/>
<path fill="#84c3c7" d="M899.9 115.8L902.8 119.8L904.8 124.3L906.2 129.9L906.1 134.9L903.7 146.4L893.6 173.4L889.5 181.9L880.2 194.5L871.2 204.5L863.2 212.1L856.4 217.9L843.8 227.5L819.2 244.1L757.8 283.2L744.1 291.4L733.8 296.8L721.8 301.6L714.8 303.3L711.2 303.5L706.2 302.8L702.2 301.4L698.2 298.8L694.1 294.9L690.2 288.9L689 285.9L688.4 282.9L688.4 274.9L689.4 270.9L691.1 266.4L695.6 258.4L705.3 244.9L711.2 237.8L717.5 231.4L725.4 224.4L734.9 216.9L751.2 207.3L769.2 199.7L789.5 192.4L796.2 188.9L800.9 185.9L806.3 181.4L813.8 173.4L822.9 160.4L830.7 147.9L840.1 136.4L846.2 130.6L852.2 125.7L862.8 118.6L873.8 113.3L879.2 111.3L883.2 110.5L888.8 110.5L893.2 111.4L896.8 113.1Z"/>
<path fill="#94d4c0" d="M895.5 122.3L898.6 126.8L900.4 131.4L900.9 135.4L900.8 141.9L899.2 150.9L896.6 160.4L892.5 172.9L889.3 179.9L885.2 185.6L870.2 202.7L861.8 210.9L842.8 226L818.2 242.6L756.8 280.9L741.2 289.4L733.2 293.1L726.2 295.7L719.8 297.6L713.2 298.5L708.8 298.1L704.2 296.6L700.2 294.1L696.9 290.9L694.7 287.9L693.1 284.9L691.8 278.9L691.9 275.4L692.4 271.9L694.9 264.9L700.2 256.4L707.8 246.6L714.8 238.9L727.5 227.4L737.2 219.9L752.2 211.2L765.8 205.3L772.7 201.9L791.3 194.4L797.9 190.9L802.6 187.9L808.2 183.2L815.8 175.4L825.8 161.9L833.8 150.4L841.2 141.9L849.2 134.4L856.8 128.9L868.8 122.2L874.8 119.9L881.8 118.1L885.8 117.8L889.8 118.4L892.8 119.8Z"/>
<path fill="#a7dcc0" d="M891.8 128.6L893.9 131.9L895.1 135.4L896 141.4L896.2 147.4L894.8 160.4L892.1 170.9L890.4 175.4L887.9 180.4L884.2 185L867.2 203.4L861.8 208.7L854.8 214.7L841.2 225.2L816.8 241.6L767.2 272L754.8 279.3L746.2 283.6L736.8 287.7L729.2 290.5L720.2 292.9L714.8 293.7L710.2 293.4L706.2 292.2L702.2 289.9L698.8 286.5L696 281.9L695.1 278.9L694.8 275.9L695.7 269.4L698.1 263.4L702.8 256.6L709.8 248.3L717.2 240.5L729.2 230.1L738.2 223.3L748.8 217.1L754.8 214.1L767.2 208.8L775.6 203.9L783.2 200L793.8 195.7L799.2 192.7L804.4 189.4L809.8 184.9L817.7 176.9L838.8 150L847 141.9L852.8 137.2L857.2 134.2L869.2 128.1L874.2 126.4L878.8 125.5L883.8 124.9L886.8 125.1L889.2 126.2Z"/>
<path fill="#bae3bf" d="M887.8 133.9L890.1 137.9L891.8 143.3L892.8 148.9L893.4 155.9L893.3 160.4L892.1 166.9L890.8 171.9L889.3 175.9L887.2 179.7L884.2 183.4L877.9 189.4L862.2 206.1L852.8 214.4L840.2 224.1L815.2 240.7L766.2 270.4L753.8 277.2L746.2 280.8L731.2 286.3L721.2 288.6L715.8 289.4L711.8 289.3L707.8 288.2L703.8 286L700.8 283.1L698.3 278.9L697.5 274.4L698 268.9L700.3 263.4L704.7 257.4L710.8 250.6L718.8 242.7L730.8 232.7L739.8 226L749.2 220.5L755.8 217.3L769.2 211.6L777.5 205.9L782.8 202.7L797.8 195.9L805.8 190.9L811.7 185.9L819.3 178.4L840 153.4L847.8 146L856.2 139.6L865.8 134.7L870.8 132.8L874.8 131.8L879.8 131.2L883.8 131.3L885.8 132Z"/>
<path fill="#cbeabe" d="M885.8 140.7L887.6 143.9L889.8 148.9L891.2 154.6L891.8 158.9L891.6 162.9L890.6 168.9L889.3 173.4L887.2 178L884.2 182L874.8 190.4L860 206.4L852.2 213.2L841.2 221.8L815.2 239.1L764.8 269.1L752.8 275.4L745.8 278.4L731.8 283L721.8 285L716.2 285.5L711.8 285.3L708.2 284.2L704.8 282.2L702.2 279.7L700.2 275.9L699.7 271.9L700.4 267.4L702.7 262.9L709.2 255L717.8 246.8L732.8 234.5L741.4 228.4L751.2 222.7L770.8 214.3L773.8 212.3L779.5 207.4L784.2 204.2L799.2 197.2L807.2 192.1L812.8 187.4L820.6 179.9L841.8 155.8L849.2 149L857.2 143.2L867.2 138.5L871.2 137.2L875.2 136.6L878.8 136.6L881.2 137.1L883.5 138.4Z"/>
<path fill="#ddf1ba" d="M884.8 146L886.9 149.4L888.5 152.9L889.8 156.9L890.3 160.4L890.1 165.4L889.3 169.9L887.8 174.4L886.1 177.9L883.2 181.4L877.2 186L873.2 189.9L863.7 200.9L858.8 205.9L851.2 212.5L839.8 221.5L814.2 238.2L764.3 267.4L750.2 274.2L743.8 276.8L733.3 279.9L718.8 282L713.8 281.8L709.8 281L706.2 279.3L703.7 276.9L702.3 274.4L701.8 271.4L702.2 267.9L703.5 264.9L706.5 260.9L710.2 256.7L721.2 246.6L733.8 236.6L743.2 230.1L754.2 224.1L764 220.4L771.8 216.9L775.2 214.5L781.1 208.9L785.2 205.7L800.2 198.6L808.2 193.5L819.7 183.4L838.2 163.2L843.8 157.7L851.8 150.9L860.8 145.2L867.8 142.3L872.2 141.2L875.8 141L878.8 141.6L882.2 143.5Z"/>
<path fill="#eef8b7" d="M884.2 151L887.2 156.9L888.1 159.9L888.4 162.9L887.7 169.9L886.2 174.3L884.8 177.4L882.2 180.4L876.8 184.4L874.2 186.8L862.7 200.4L858.2 204.9L849.8 212.4L838.8 220.9L813.8 237.1L799.8 245.4L763.8 265.4L750 271.9L742.9 274.4L733.2 276.8L720.1 278.4L715.8 278.2L710.8 277.4L707.8 276L705.8 274.2L704.7 271.9L704.6 269.4L705.3 266.9L706.8 264.4L712.9 257.4L729.9 241.9L735.8 237.3L743.8 232.1L755.2 226L765 222.4L773.2 218.5L776.3 216.4L782.3 210.4L786.8 206.9L801.2 199.9L809 194.9L821.2 184.4L840.2 164.6L845.2 160L852.8 154L861.8 148.6L868.2 146.1L872.2 145.2L875.8 145.3L879.2 146.5L881.8 148.1Z"/>
<path fill="#f4fbc2" d="M881 155.9L883.5 160.9L884.5 165.9L883.8 171.9L881.8 176.9L880.1 178.9L874.2 184.1L864.7 196.4L858.5 203.4L849.2 211.6L838.2 220.1L813.2 236.1L799.2 244.2L777.2 255.9L762.1 263.4L754.8 266.5L742.8 270.4L729.8 272.6L724.8 272.8L717.8 272.4L714 271.4L712 269.9L711.7 268.4L712.1 266.9L715.7 260.9L724.5 249.9L730 243.9L734.2 240.1L743.8 233.9L750.8 230.2L756.2 227.6L769.2 222.5L774.2 219.9L777.8 217.4L784 211.4L787.8 208.5L802.2 201.1L809.8 196.2L821.6 186.4L841.8 167L852.2 158.8L862.8 153.3L871.8 150.9L874.2 151L876.8 151.9L878.8 153.4Z"/>
<path fill="#fbfdcc" d="M876.4 160.4L877.8 162.9L878.6 165.9L878.9 169.4L878.4 172.9L877.3 175.4L873.8 180.3L868.9 188.4L864.1 195.4L857.6 202.9L849.2 210.5L838.2 219L812.8 235.1L798.8 243L779.8 252.5L760.8 260.5L747.8 264.8L739.8 266.3L728.8 267L725.2 266.5L723.2 265.4L722.6 263.9L723 261.9L724.9 256.4L727.2 251.4L731.1 244.9L736.8 239.7L744.2 235.2L750.2 232.1L769.9 223.9L776.2 220.5L788.8 210.2L803.2 202.4L811.5 196.9L822.7 187.9L843.8 169.4L853.8 162.5L860.8 159.5L865.8 158L869.2 157.4L873.2 157.7L874.8 158.5Z"/>
<path fill="#fffaca" d="M871.8 165.4L872.5 166.9L872.8 169.4L871.7 175.9L868.9 184.9L864.6 192.9L859.6 199.4L855.8 203.4L845.7 212.4L837.8 218.3L822.2 228.1L806.2 237.4L789.2 246.2L777.2 251.5L757.2 258.4L746.2 261L739.8 261.7L735.2 261.7L732.8 261.1L731.4 259.9L730.8 257.9L730.5 253.9L731.4 247.9L732.3 245.9L733.7 243.9L737.8 240.4L748.2 234.6L765.8 227.4L772.2 224.3L777.2 221.5L789.8 211.8L803.8 203.8L812.6 197.9L845.2 172L851.2 168.1L857.8 165.1L864.2 163.7L869.2 163.6L870.8 164.3Z"/>
<path fill="#fff2bc" d="M865.9 170.4L866.8 172.4L867.5 175.9L867.6 181.9L866.1 187.4L862.9 193.4L857.5 200.4L850.3 207.4L841.2 214.7L830.8 221.8L811.8 233L798.2 240.2L786.8 245.6L775.2 250.1L755.2 255.6L745.2 257.1L741.8 257.1L738.8 256.3L736.8 254.9L734.8 252.4L733.5 249.4L733.8 246.4L735.8 243.5L739.2 240.9L749.9 235.4L766.2 228.8L777.8 222.9L790.9 213.4L804.8 204.9L812.2 199.9L841.2 178.5L850.2 172.3L855.2 170L860.2 168.8L863.8 168.9Z"/>
<path fill="#fee9ae" d="M863.6 175.9L864.8 178.4L865.3 181.4L865.3 183.9L864.7 186.9L862.2 192.3L857.1 199.4L850 206.4L841.5 213.4L831.2 220.4L810.8 232.2L796.7 239.4L785.8 244.2L774.2 248.2L755.2 252.4L748.2 253.2L744.8 253L741.2 252.1L738.2 250.8L736.2 248.9L735.7 247.4L736 245.9L737.2 244.1L739.4 242.4L749.3 237.4L766.2 230.7L778.2 224.4L835.2 185.3L849.8 176L854.8 173.7L858.8 172.9L861.8 173.7Z"/>
<path fill="#fedca2" d="M862.2 179.4L863.3 183.4L862.6 188.4L860.3 192.9L855.2 199.9L849.1 205.9L839.9 213.4L830 219.9L819.8 225.8L810.2 230.9L796.8 237.4L785.8 241.9L776.1 244.9L751.2 249L744.8 248.6L741.8 247.8L740.1 246.9L739.9 245.9L740.5 244.9L743.4 242.9L752.1 238.9L766.8 233.1L779.2 226.1L785.8 221.6L802.8 208.7L829.2 190.8L843.2 182.1L851.2 178L856.2 176.4L858.2 176.3L859.8 176.7L861.2 177.9Z"/>
<path fill="#fecc96" d="M859.9 181.4L860.9 184.4L860.7 187.9L859.3 191.4L855.8 197.4L853.3 200.4L848.6 204.9L836.4 214.4L828.6 219.4L819.8 224.4L810.2 229.2L802.2 232.5L794.2 235.3L784.2 237.6L777.8 238.2L775.8 237.9L774.7 237.4L775 235.9L778.2 232.4L798 213.4L803.2 209.4L822.8 196.1L837.2 187L843.2 183.6L847.8 181.7L852.8 179.9L856.2 179.3L858.2 179.8Z"/>
<path fill="#fcbc8c" d="M857.3 183.9L858.1 186.4L857.8 189.4L856.3 193.4L854.1 197.4L848.2 203.5L837.1 212.4L824.3 220.4L817.8 223.8L809.2 227.5L801.8 229.8L795.8 230.9L791.8 230.9L789.9 229.9L789.9 227.9L791.3 224.4L794.1 219.4L796.9 215.9L802.6 210.9L820.2 198.6L831.2 191.6L844.8 184.2L848.8 183L853.2 182.4L855.8 182.7Z"/>
<path fill="#faab84" d="M854.5 186.4L855.2 188.4L855 190.9L853.9 194.4L852.2 197.4L846.3 203.4L835.3 211.9L823.2 219.3L817.2 222.2L810.2 224.9L805.8 226.1L800.2 227L797.2 226.5L795.9 225.4L795.4 222.9L795.9 219.9L797.2 217.4L799.3 214.9L804 210.9L822.8 197.7L831.8 192.2L844.8 185.4L847.8 184.7L850.2 184.6L852.8 185.1Z"/>
<path fill="#f7997b" d="M852.1 188.4L852.6 190.4L852.4 192.9L851.5 195.4L849.8 197.9L843.2 204.1L832.8 211.8L822.2 218L817.2 220.4L811.6 222.4L807.2 223.4L802.8 223.8L800.2 223.5L798.7 222.4L798.1 220.9L798.2 218.9L799.2 216.9L801.3 214.4L804.9 211.4L824.8 197.2L836.8 190.4L844.8 186.7L847.2 186.2L849.1 186.4L850.8 187Z"/>
<path fill="#ee8b7f" d="M849.8 189.8L850.3 191.9L850 193.9L847.6 197.9L841.8 203.6L832.2 210.4L822.2 216L813.8 219.1L805.8 220.6L802.8 220.4L801.3 219.4L801.1 218.4L801.7 216.9L804.3 213.9L820.6 200.9L825.8 197.3L835.8 191.8L844.2 188.4L846.2 188L847.8 188.2Z"/>
<path fill="#e57e82" d="M846.8 191.7L847.1 192.9L846.8 194.9L843.8 199.9L840.3 203.4L833.8 208L827.2 211.4L820.8 213.8L815.2 214.5L813.2 214.1L812.4 213.4L812.3 212.4L813 210.9L817.6 204.9L821.1 201.4L825.4 198.4L832.8 194.2L838.8 191.6L844.2 190.6L845.8 190.8Z"/>
<path fill="#d96f82" d="M843.2 194.2L843.6 195.4L843.5 196.9L841.7 200.4L838.8 203.1L833.2 206.8L828.8 209.1L824.8 210.2L821.2 210.2L819.8 209.6L819.1 208.9L818.8 206.4L820 203.9L822.4 201.4L826.8 198.4L833.2 194.8L837.8 193.1L841.2 192.9L842.4 193.4Z"/>
<path fill="#ca5e7e" d="M841.2 195.8L841.4 197.9L840.1 200.4L837.3 202.9L832.5 205.9L829.2 207.4L825.8 208.2L823.2 208.1L821.4 206.9L821.1 204.9L822.2 202.9L824.5 200.9L828.5 198.4L833.8 195.7L837.2 194.4L839.8 194.5Z"/>
<path fill="#bb4d7b" d="M839.3 196.9L839.5 198.4L838.2 200.4L832.2 204.4L829.2 205.8L826.8 206.4L824.6 206.4L823.3 205.4L823.3 203.9L824.5 202.4L830 198.9L836.2 196.1L838.2 196Z"/>
</g>
<path d="M776.6 245h.01M753.4 245h.01M749.5 214.2h.01M837.4 192.7h.01M865.4 162.2h.01M827.6 204.5h.01M773.8 204.5h.01M855.9 162.2h.01M884.4 162.2h.01M721.4 299.4h.01M809.3 226h.01M849.1 192.7h.01M837.6 207.8h.01M695.5 271.3h.01M742.7 254.3h.01M778.6 246.3h.01M836.8 205h.01M819.5 210.7h.01M796 228.5h.01M889 162.2h.01M807.6 217.3h.01M828.8 192.7h.01M750.7 254.6h.01M834 164.4h.01M753.2 229h.01M763.4 249.9h.01M836.1 192.2h.01M756.2 254h.01M739 250.2h.01M879.4 142.6h.01M808.8 229.8h.01M888.3 111.8h.01M796.8 213.4h.01M796.4 208.3h.01M835.6 189.8h.01M827.4 200.5h.01M798.3 245h.01M816.2 200h.01M865.8 186.5h.01M724.2 229.8h.01M837.1 209h.01M755.3 241.3h.01M859.6 192.7h.01M836.5 199.8h.01M768.8 241.3h.01M825.7 213.3h.01M820.7 213.5h.01M813 193.3h.01M901.7 142.6h.01M759.9 259.8h.01M871.1 169.8h.01M797.7 245h.01M823.8 203.2h.01M755.2 265.9h.01M835.7 205.4h.01M728.7 262.4h.01M811.8 217.6h.01M851.8 193.1h.01M812.2 234.9h.01M760.9 228.1h.01M755.7 229.3h.01M798.4 210.4h.01M832.7 192h.01M800.1 224.7h.01M853.7 178.5h.01M801.6 229.8h.01M798.5 229.8h.01M830 203.8h.01M748.6 245h.01M828.9 186.5h.01M826.5 204.6h.01M738.2 241.2h.01M804.6 204.5h.01M745.5 229.8h.01M786.6 222.3h.01M741.5 263.4h.01M724 283.8h.01M764 233.4h.01M766.6 242.4h.01M820.3 186.5h.01M822 231.6h.01M767.9 245h.01M857 204.5h.01M776.9 217.4h.01M817.6 211.6h.01M711.3 271.3h.01M823.7 199.6h.01M805.5 206h.01M889.1 112h.01M832.1 207.1h.01M811.4 224h.01M746.9 261.8h.01M744 259.8h.01M838.7 200.4h.01M730 278.8h.01M850.2 187.8h.01M782.6 244h.01M846 184h.01M827.4 204.5h.01M854.5 167.1h.01M746.3 245h.01M733.1 245h.01M865 181.1h.01M831.7 214.9h.01M795.5 195.2h.01M810.5 210.7h.01M774.3 217.3h.01M831.8 174.7h.01M717.8 254.6h.01M834.3 197h.01M827.2 210.7h.01M873.7 162.2h.01M904.8 118.4h.01M842.3 188.9h.01M838.2 204.5h.01M739.8 259.8h.01M761.1 254.6h.01M824.9 211.4h.01M832.1 209.4h.01M801 227.1h.01M757.7 248.5h.01M809.7 201.4h.01M744.3 245h.01M833 205.4h.01M830.5 220.4h.01M751 234.8h.01M832.9 210.7h.01M784.9 229.8h.01M803.8 229.8h.01M874.1 125.8h.01M856.2 152.1h.01M865.6 182.3h.01M844.3 191h.01M835.1 189.9h.01M832.6 162.2h.01M835 192.7h.01M781.7 218.6h.01M750.5 254.6h.01M841.9 201.7h.01M812.8 203.2h.01M811.1 206.8h.01M779.3 228.8h.01M758.4 240h.01M739.5 263.3h.01M825.8 204h.01M799.1 229.8h.01M838.1 201.3h.01M800.5 244h.01M867.4 192.3h.01M783.2 254.6h.01M812.3 213.3h.01M787.1 233.1h.01M789.3 218.6h.01M809.5 199.6h.01M828.3 210.7h.01M841.7 160h.01M866.9 162.2h.01M804.3 215.6h.01M798.3 211.5h.01M734.6 245h.01M843.7 145.2h.01M817.1 217.2h.01M801.9 210.7h.01M810.8 221.1h.01M779.4 233.8h.01M813.3 210.7h.01M817.1 218.6h.01M810.6 212.2h.01M812.6 222.4h.01M831.5 194.1h.01M837.6 218.6h.01M804.2 227.7h.01M844.2 188.6h.01M703.8 285.4h.01M727 235h.01M718.7 271.3h.01M846.1 192.7h.01M796.5 210.7h.01M841.2 195.6h.01M859.1 158.4h.01M883.2 142.4h.01M879.7 192.7h.01M737.4 248.8h.01M839.8 186.5h.01M767.8 229.8h.01M838.8 192.7h.01M881.3 164.5h.01M856.3 186.5h.01M810 228.2h.01M835.5 210.7h.01M805.5 216.7h.01M822.1 209.4h.01M845 196.6h.01M833.7 212.1h.01M786.5 259.8h.01M859.3 189.4h.01M752.7 235h.01M850.2 192.7h.01M875.8 188.3h.01M820.4 204.5h.01M833 167.3h.01M760 259.8h.01M853.5 204.5h.01M851.6 186.1h.01M794.2 65.1h.01M874.3 162.8h.01M851.6 191h.01M818.4 206.8h.01M791.7 221.3h.01M705.7 278.8h.01M781.2 252.7h.01M828.2 192.7h.01M756.1 222.4h.01M749.6 258.9h.01M831.5 178.5h.01M743.5 248h.01M817.6 205.6h.01M773.7 235h.01M866.2 204.5h.01M808.3 223.2h.01M825.1 213.2h.01M847.4 178.5h.01M798.8 235h.01M777.8 244.1h.01M764.6 211.9h.01M810.1 204.8h.01M763.9 259.8h.01M818.2 203.6h.01M750.3 251.4h.01M823.5 206.7h.01M810.8 204h.01M827.6 204.5h.01M862.4 162.7h.01M825.5 197.1h.01M850.6 192.6h.01M885.4 162.2h.01M794.5 216.2h.01M841.6 208.3h.01M867.6 148.3h.01M877.5 186.5h.01M739.8 258.4h.01M859.6 178.5h.01M807.2 204.1h.01M746.3 271.3h.01M817.4 176.5h.01M812.8 206.3h.01M786.6 245h.01M873.5 144.6h.01M845.5 165.3h.01M728.2 261.1h.01M756.6 229.5h.01M838.7 195.3h.01M822.7 210.7h.01M836.7 194.5h.01M755.1 253.4h.01M712.8 265.9h.01M891.5 167.3h.01M808.3 214.7h.01M854.8 187.6h.01M824 205.9h.01M806.9 235.1h.01M748.8 232.5h.01M828.9 188.5h.01M828.1 200.7h.01M821.4 210.7h.01M845.9 204.3h.01M800.8 229.1h.01M814.8 235h.01M844.8 200.6h.01M833.5 208.2h.01M881.4 162.2h.01M816.6 203.4h.01M743.4 259.8h.01M843.9 210.7h.01M819.7 217.4h.01M766 218.6h.01M802.2 218.5h.01M768.8 241.8h.01M830.3 195.6h.01M817.6 199.8h.01M765.3 254.6h.01M821.7 213h.01M767.5 268.3h.01M853.2 178.5h.01M795.8 239.1h.01M819.3 210.7h.01M824.5 210.9h.01M781.1 254.6h.01M858 179.4h.01M833.6 214.1h.01M840.2 194.4h.01M846.3 204.5h.01M759.5 245h.01M829 205.5h.01M744.9 235h.01M896.4 137.3h.01M728.2 302.9h.01M717 271.3h.01M819.1 229.8h.01M856.2 188.8h.01M801.6 226.3h.01M835.8 188.3h.01M808.9 204.1h.01M874.9 152.1h.01M864.1 165.8h.01M851 186.5h.01M832.2 187.4h.01M752.6 245.9h.01M840.7 193.9h.01M749 244.3h.01M866.8 129.6h.01M842 162.2h.01M827.9 163.2h.01M709.4 261.6h.01M758.5 245h.01M890.4 141.2h.01M701.4 259.8h.01M828.9 192.1h.01M819.3 192.7h.01M794.9 218.6h.01M848 189.8h.01M735 273.7h.01M810.6 203.2h.01M849 218.4h.01M795.9 218.6h.01M852.6 196.6h.01M781.8 235h.01M736.2 285.4h.01M789.7 218.6h.01M869.9 169.4h.01M755.1 245h.01M798.9 229.8h.01M785.9 212.4h.01M766.3 229.8h.01M840.9 192.7h.01M826.7 204.5h.01M747 210.7h.01M863 165.4h.01M826 219.9h.01M839.5 187.1h.01M831.9 195h.01M728.5 255h.01M825.5 220h.01M839.6 192.7h.01M757.8 229.8h.01M716.2 285.4h.01M740.7 254.6h.01M753 241.2h.01M829.3 200.6h.01M762.4 219.7h.01M800.2 219.7h.01M826.7 167.3h.01M807.7 230h.01M836.6 210.7h.01M777.5 210.7h.01M746.4 235.1h.01M859.2 167.3h.01M836.5 190.7h.01M699 278.8h.01M840.1 192.7h.01M839.6 194.8h.01M858.9 166.6h.01M835.2 204.5h.01M797.5 218.6h.01M858.3 155.5h.01M801.6 192.7h.01M846.3 192.7h.01M846.5 186.5h.01M786.9 235h.01M730.4 269.3h.01M719 259.8h.01M830.4 208.1h.01M853.3 167.3h.01M838.9 201.8h.01M811.8 214.8h.01M798.5 204.4h.01M799.5 235h.01M766.3 235.5h.01M709.4 254.4h.01M841.7 210.6h.01M839.9 193.2h.01M739.5 257h.01M782 254.6h.01M840.4 179h.01M815 191h.01M779.1 227h.01M745.3 245h.01M712.3 269.1h.01M868.7 142.6h.01M873.3 187.8h.01M800.1 207.3h.01M818.6 216.8h.01M795 239h.01M815.5 217.5h.01M815.8 214.3h.01M845.4 192.7h.01M785.4 225.7h.01M829.9 219.4h.01M767.6 264.4h.01M828 188.5h.01M852.8 178.3h.01M825.5 202.4h.01M830.9 200.2h.01M821.9 209.5h.01M846.7 186.5h.01M799.7 231.3h.01M773.2 245h.01M883.3 129.9h.01M708.2 256.9h.01M827.1 167.3h.01M838.7 204.5h.01M819.1 210.7h.01M813 210.7h.01M858.5 192.7h.01M776.1 233.9h.01M763.3 245.7h.01M838 192.7h.01M851.5 186.5h.01M818.3 210.7h.01M858.8 186.5h.01M762.2 262.8h.01M761.7 247.2h.01M761.1 245.2h.01M824.5 206.3h.01M780.2 240.1h.01M832.9 204.5h.01M807.7 210.7h.01M825.2 174.8h.01M883.8 152.1h.01M781.3 229.8h.01M868.1 186.5h.01M760.7 271.3h.01M844.1 217.8h.01M830.5 219h.01M737.4 253.9h.01M829.5 192.7h.01M901.9 136.2h.01M853.9 191.6h.01M807.2 210.7h.01M860.3 186.5h.01M845.3 192.7h.01M755.4 234.8h.01M831.9 203.7h.01M837.9 204.5h.01M842.7 193h.01M816.1 210.7h.01M757.8 285.4h.01M859.7 185.4h.01M767 245h.01M739.1 238.6h.01M783.1 221.4h.01M806.8 216.3h.01M826 214.5h.01M861.3 173.9h.01M815.9 218.3h.01M749 281.4h.01M773.4 233.9h.01M821 210.7h.01M853.1 210.7h.01M757.8 254.6h.01M880.7 129.9h.01M845.1 189.2h.01M734.9 271.3h.01M827 229.8h.01M784.1 244.2h.01M836 215.2h.01M840 156.2h.01M803.6 218.6h.01M796.4 223.7h.01M817.9 167.3h.01M825.3 211.2h.01M732.3 263.8h.01M879.6 163.5h.01M888.5 158.1h.01M867.4 178.5h.01M800 228.8h.01M765.5 253.3h.01M825.3 186.5h.01M789.9 246.2h.01M833.7 192.7h.01M818.5 215.9h.01M787 235h.01M865.1 178.5h.01M801.4 210.7h.01M765 249.1h.01M831.9 202.4h.01M808.3 235h.01M829.8 210.7h.01M749.9 259.8h.01M844.7 205.3h.01M774 244.1h.01M862 167.4h.01M825.5 201.5h.01M861.9 181.7h.01M820.4 205.9h.01M828.3 204.5h.01M855.4 193.2h.01M825.7 210.7h.01M795.2 229.1h.01M779.7 219.3h.01M836.8 193.7h.01M794.9 229.8h.01M758.1 229.8h.01M845.7 206.7h.01M818.6 209.6h.01M866 186.5h.01M759.9 245h.01M840.9 204.5h.01M840.5 192.7h.01M754.8 260.4h.01M834.8 199h.01M818.7 189.2h.01M823.2 204.3h.01M783.6 210.7h.01M803.6 218.6h.01M830.3 205.6h.01M756 229.5h.01M885.6 146.9h.01M760.3 259.8h.01M830.4 209.7h.01M838.1 210.7h.01M824.5 208.9h.01M858.8 196.4h.01M791 242.8h.01M820.7 209.4h.01M852.6 167.3h.01M847.3 201.8h.01M810.1 210.7h.01M817.2 204.5h.01M855.5 178.5h.01M744 254.6h.01M849.3 182.7h.01M771.5 235h.01M815.7 210.7h.01M839.7 210.7h.01M801.2 229.8h.01M861.2 142.7h.01M774 212.5h.01M817.3 210h.01M848.8 207.6h.01M877 111.8h.01M856.4 137.3h.01M787.3 212.2h.01M840.6 210.7h.01M839.9 204.5h.01M841.9 176.8h.01M840.8 204.5h.01M809.9 229.8h.01M798.5 243.6h.01M795.8 237.1h.01M869.9 118.4h.01M823.5 201.5h.01M845.3 211.8h.01M780.6 242.7h.01M833.3 218.6h.01M804.8 245h.01M758.1 230.1h.01M874.6 166.3h.01M707.8 278.8h.01M822.8 218.6h.01M810.2 218.6h.01M826.7 195.1h.01M737.2 255.5h.01M724.1 297.1h.01M847.3 204.5h.01M843.3 210.7h.01M862.9 162.2h.01M781 237.2h.01M834.5 224.7h.01M842.8 192.7h.01M750.4 244.8h.01M779.7 218.6h.01M764 260.5h.01M735.9 243.8h.01M862.3 173.4h.01M832.6 193.5h.01M782 245h.01M864.5 152.1h.01M854.8 178.5h.01M758.2 259.8h.01M795.7 242.3h.01M838 194.9h.01M824 204.5h.01M865.7 154.7h.01M840 178.6h.01M909.2 137.3h.01M817.3 218.6h.01M822.7 218.6h.01M836.4 181.7h.01M739.1 245.1h.01M826.6 210.7h.01M824.2 221.1h.01M806.9 227h.01M851.7 189.8h.01M757.8 241.7h.01M819.9 206.2h.01M808.1 210.7h.01M881.2 178.1h.01M837.7 194.9h.01M837.4 210.7h.01M773.8 233.2h.01M805 210.7h.01M796.3 218h.01M758.4 236.9h.01M812.5 204.5h.01M866.9 141.9h.01M806 218.6h.01M710.9 264.6h.01M857 154.9h.01M846.6 210.7h.01M770.5 226.2h.01M842.1 211.8h.01M877.6 174h.01M827.9 214h.01M870.2 167.3h.01M865.1 167.3h.01M820.2 204.5h.01M882.1 186.4h.01M807 213.6h.01M728.3 264.6h.01M855 190.8h.01M721.8 281.2h.01M840.6 201.8h.01M773.7 245.3h.01M796.8 214.7h.01M758.1 239.5h.01M743.4 249.5h.01M741.6 245h.01M847.3 186.5h.01M729.8 253.3h.01M857.9 178.5h.01M778.6 235h.01M873.3 162.2h.01M842.5 198.2h.01M826.1 180h.01M822.7 218.6h.01M850.7 204.5h.01M794.2 218.6h.01M843.5 192.7h.01M834.3 204.5h.01M762.3 254.8h.01M806.2 221h.01M821.9 210.7h.01M793.9 235h.01M711.5 285.4h.01M835.8 200.9h.01M857.2 175.5h.01M860.1 193.2h.01M832.8 184.1h.01M828.2 204.5h.01M749.1 235.2h.01M756 237.6h.01M869.6 174.9h.01M861.8 184.1h.01M821.9 203.1h.01M781.3 245h.01M799.3 211.8h.01M826 218.6h.01M831.4 197.9h.01M811.5 218.6h.01M825.5 218.6h.01M853.5 204.5h.01M790.6 221.5h.01M785.6 236.4h.01M827.7 204.5h.01M844.9 209.3h.01M853.3 178.5h.01M829.1 192.7h.01M871.1 156h.01M841.6 162.2h.01M886.3 167.3h.01M740.1 254.5h.01M738.8 234.2h.01M804.1 219.8h.01M745.5 241.2h.01M852.6 186.5h.01M812.8 202.2h.01M823.7 219.5h.01M760.6 245h.01M842.3 218.6h.01M865.2 178.5h.01M869 162.2h.01M878.5 153.2h.01M742.5 236.6h.01M733.9 254.6h.01M857.5 181.6h.01M783.3 245h.01M869.1 156.2h.01M765.6 245.4h.01M804.1 229.8h.01M821.5 210.9h.01M798.7 211.3h.01M851.8 191.3h.01M748.7 259.8h.01M832.6 196.5h.01M822.4 192.7h.01M759.5 235h.01M840.4 219h.01M801 214.1h.01M839.2 218.4h.01M873.8 175.4h.01M845.1 178.5h.01M701.4 276h.01M811.7 229.8h.01M807.7 222.4h.01M799.1 218.1h.01M851.2 192.7h.01M838.1 184h.01M792.3 219.9h.01M867.2 135.8h.01M863.9 150.1h.01M850.1 201.1h.01M806.3 218.6h.01M720 261h.01M818.6 210.7h.01M836.1 204.5h.01M758.6 271.3h.01M828.9 192.7h.01M829.1 211.2h.01M802.5 211.5h.01M856.3 157.6h.01M879.1 178.5h.01M848 137.3h.01M750.3 245h.01M855.8 204h.01M785.2 229h.01M821.5 210.7h.01M839.8 212.5h.01M786.5 249h.01M789.7 205.3h.01M836.1 173.9h.01M830 227.4h.01M861.2 150.9h.01M776.2 214.3h.01M827.1 204.5h.01M828 207.3h.01M753.5 235h.01M761.7 245h.01M740.6 271.3h.01M744.8 235h.01M806.4 243.4h.01M738.7 262.3h.01M834.8 204.1h.01M850.3 204.5h.01M865.6 149.7h.01M825.9 209.5h.01M851.4 162.2h.01M847.2 190.6h.01M830 204.5h.01M824.2 204.5h.01M806.3 237.4h.01M793.3 210.7h.01M796.5 229.8h.01M875 146.8h.01M795.4 232.8h.01M755.4 237.2h.01M833.6 139h.01M860.8 204.5h.01M806.6 229.8h.01M814.6 180.9h.01M793.5 241.7h.01M744.2 273h.01M803.1 239.1h.01M802.9 222.7h.01M807.5 239.4h.01M725.5 262.6h.01M722.2 271.3h.01M829.8 204.5h.01M810.7 225.3h.01M871.7 172h.01M707.7 257.8h.01M847.8 162.3h.01M846.1 192.7h.01M801.9 218.6h.01M842 192.7h.01M838 206.6h.01M854.5 201.9h.01M796.3 227.1h.01M810.3 214.3h.01M749.3 245h.01M817.2 223h.01M792.6 232.7h.01M837.5 142.6h.01M784.8 228.2h.01M797.6 256.4h.01M851.7 178.5h.01M798.4 235h.01M749.5 235h.01M862.4 167.3h.01M809.5 218.6h.01M829.6 199.4h.01M832.9 204.5h.01M706.4 285.4h.01M831.1 218.2h.01M793.4 211.2h.01M799.5 240.9h.01M829.3 204.8h.01M839.6 178.5h.01M726.2 276.5h.01M853.1 184.1h.01M755.1 254.6h.01M709.3 274.8h.01M836.8 210.1h.01M864.5 178.5h.01M825.2 210h.01M808.8 218.6h.01M778.3 239.8h.01M712.4 297.1h.01M845.5 193.9h.01M892 152.1h.01M741.6 276.8h.01M881.7 118.4h.01M745.9 271.3h.01M768.8 253.3h.01M713.8 255h.01M810.8 205.7h.01M849.2 186.5h.01M810.6 220.6h.01M822.6 208.1h.01M773.8 229.8h.01M851.4 186.5h.01M794.9 211h.01M722.9 257.2h.01M771.2 220.1h.01M740.8 259.8h.01M800 236.1h.01M878.8 178.5h.01M790.5 229.8h.01M861.5 186.5h.01M848.7 166.4h.01M810.4 221.5h.01M887.1 137.3h.01M868.7 162.2h.01M827.4 204.9h.01M866.2 186.5h.01M771.5 229.8h.01M830.6 192.7h.01M821.7 193.7h.01M824 218.6h.01M813.3 214.7h.01M738.1 246.8h.01M743.9 245h.01M711.9 259.8h.01M835.8 178.5h.01M842.8 162.2h.01M745.2 236.5h.01M843.2 205.3h.01M829.7 162.2h.01M806.2 210.7h.01M840.1 200h.01M847 192.7h.01M772.9 229.8h.01M776 234.5h.01M835 192.7h.01M788.8 229.8h.01M811.9 192.7h.01M740.5 252.5h.01M829.7 204.5h.01M820.3 210.7h.01M847.1 185.4h.01M806.3 210.4h.01M822.9 197h.01M712.9 235h.01M841.8 178.5h.01M836.7 218.6h.01M823.1 204.5h.01M788.4 254.6h.01M774.7 226.4h.01M815.9 218.6h.01M806.9 182.1h.01M835.2 178.5h.01M825.7 218.6h.01M719.4 259.8h.01M869.6 167.3h.01M847.4 210.7h.01M833.4 203.5h.01M894 146.6h.01M794.8 223.4h.01M769 210.2h.01M840.9 210.7h.01M751.6 245h.01M775 218.6h.01M850.7 193.5h.01M731 271.3h.01M760.1 259.8h.01M807.2 229.6h.01M857.7 177.8h.01M743.4 229.8h.01M861.9 118.4h.01M839.7 197.2h.01M839.4 207.8h.01M829.9 210h.01M725.4 235h.01M837.6 218.6h.01M813.8 229.8h.01M773.4 209.2h.01M800.8 235h.01M846.3 188.1h.01M747.8 254.3h.01M772.8 245.7h.01M778.6 257h.01M698.2 271.3h.01M792.9 235h.01M827.4 192.7h.01M759 257.5h.01M813.6 245h.01M815.3 210.7h.01M859.5 172.6h.01M717.8 274h.01M843.7 190.9h.01M863.9 185.7h.01M796.2 217.1h.01M772.7 248.2h.01M787.1 196.1h.01M843.6 190.3h.01M748.1 239.8h.01M793 218.6h.01M806.8 218.4h.01M780.9 221h.01M767.5 245h.01M754.6 239.4h.01M823.6 192.7h.01M834.1 203.1h.01M744 295.1h.01M744.4 245h.01M847.5 218.6h.01M838.2 199.9h.01M733.7 254.9h.01M813.6 197.2h.01M847.5 209.9h.01M822.5 220.3h.01M770.9 238h.01M802.4 229.8h.01M796.1 229.3h.01M828.6 190.1h.01M823.4 204.5h.01M793.1 235h.01M777.2 218.6h.01M774.5 254.6h.01M869.4 165.9h.01M710.6 278.3h.01M823 210.7h.01M811.5 198.3h.01M855.2 167.3h.01M865.8 165.5h.01M709.9 285.4h.01M779.2 240h.01M687.4 278.8h.01M762.9 247h.01M810 210.7h.01M855.8 188.4h.01M809.1 215.9h.01M846 192.7h.01M815.2 184.3h.01M806.1 217.2h.01M831.3 218.2h.01M734.7 278.4h.01M762.5 241.7h.01M874.4 144.1h.01M847.5 185.8h.01M835.2 218.6h.01M807.7 231.3h.01M744.7 281.4h.01M810.1 217.1h.01M841.9 210.7h.01M874.3 136.3h.01M839.6 210.7h.01M760.6 254.6h.01M866.4 162.2h.01M815.7 210.7h.01M743.9 265.6h.01M746.8 269.2h.01M874.5 142.4h.01M842.3 198.8h.01M838.4 186.5h.01M741.5 276.9h.01M746.7 245h.01M846.1 195.8h.01M846 204.1h.01M775.9 229.8h.01M863.2 148.5h.01M832 186.5h.01M745.3 235h.01M835.2 204.5h.01M829.6 193.3h.01M716.1 256.7h.01M788.5 232.6h.01M739.3 245h.01M790.2 239.5h.01M825.8 210.7h.01M864.9 187.4h.01M776.7 229.8h.01M795 216.7h.01M776.5 235h.01M766.1 229.8h.01M751.6 235h.01M863.7 161.6h.01M851.9 184.7h.01M750.4 251.7h.01M775.9 229.5h.01M777.5 254.6h.01M843.3 161.7h.01M844.1 214.6h.01M879.9 138.2h.01M852 186.5h.01M876.8 158.2h.01M822.4 186.5h.01M851.1 194.8h.01M826.4 134.2h.01M779 231.8h.01M807.2 223.7h.01M776.5 235h.01M706.3 293.9h.01M829.1 186.5h.01M857.3 178.1h.01M855.7 188.8h.01M785 254.6h.01M794 232.6h.01M748.1 245h.01M865.7 178.5h.01M872.9 153.8h.01M855 210.3h.01M744.5 271.3h.01M846.1 181.3h.01M773.8 245h.01M803.4 238.3h.01M813.2 192.7h.01M741.8 238.5h.01M717.3 278.8h.01M880.3 172.1h.01M876.7 181.2h.01M802.7 200.9h.01M833.8 169.4h.01M852.9 201.6h.01M767.9 242.2h.01M691.9 261.3h.01M754.3 235h.01M781 218.6h.01M724.3 274.3h.01M860 167.3h.01M765.3 237.7h.01M840.2 204.5h.01M708.1 278.4h.01M895.4 168.5h.01M872.6 178.5h.01M892.7 152.1h.01M835 208.4h.01M754.1 236.7h.01M848.5 187h.01M751.9 268.7h.01M761.6 251.9h.01M849.9 183.6h.01M754.3 229.8h.01M751.4 233.1h.01M831 154.8h.01M766.1 229.8h.01M798.7 229.8h.01M735.1 263.9h.01M836.8 188.1h.01M873.1 154.6h.01M821.9 218.6h.01M752 261.3h.01M828.1 150.4h.01M826.1 167.3h.01M901.9 145.4h.01M724.1 300.6h.01M712.5 246.2h.01M904.7 141.1h.01M705.4 259.8h.01M819.8 204.5h.01M922 107.6h.01M891.5 125.8h.01M846.4 178.5h.01M896.9 118h.01M822.7 162.2h.01M884.8 125.8h.01M863.1 152.1h.01M911.8 143.3h.01M833.3 205h.01M763.7 254.6h.01M764.8 254.6h.01M799.4 218.6h.01M876.5 125.8h.01M698.9 278.8h.01M903 131.5h.01M924.9 94.3h.01M802.7 244.6h.01M798.6 228.7h.01M748.6 245.7h.01M873.7 184h.01M687.4 271.3h.01M757.9 259.8h.01M828.4 118.4h.01M686.6 285.4h.01M754.7 247.3h.01M699.9 259.8h.01M809.7 211.4h.01M801.2 250.9h.01M794.3 271.3h.01M756.5 268.7h.01M851.9 184.3h.01M839.5 163.1h.01M755.1 229.8h.01M807.8 207.5h.01M688.2 259.8h.01M854.8 210.7h.01M857.6 160.1h.01M830.5 198.9h.01M716.8 285.4h.01M799.8 235h.01M882.5 162.2h.01M886.2 167h.01M821.7 200.3h.01M739.6 279.2h.01M788.5 215.8h.01M819.4 183.6h.01M885.6 171.8h.01M820 179.6h.01M833.9 217.9h.01M861.4 172.5h.01M871.8 145.7h.01M747.9 254.6h.01M823 229.8h.01M755.6 225.3h.01M900.5 180.2h.01M822.8 204.5h.01M746.6 265.2h.01M841.3 178.5h.01M817.7 204.5h.01M864.4 143.5h.01M783.3 200.7h.01M862.3 138.7h.01M797.1 245h.01M685.8 322.3h.01M865.5 135.2h.01M845.5 197h.01M754.7 278.8h.01M862.5 152.1h.01M766.3 254.6h.01M851.9 147.5h.01M801 209.2h.01M756.9 249.4h.01M729 250.4h.01M760.1 252.1h.01M841.4 192.1h.01M820.7 218.4h.01M910.5 152.2h.01M721.7 302.9h.01M806.9 245h.01M876.1 201.1h.01M859 212.9h.01M765.1 223.7h.01M808.8 196.9h.01M836.2 192.7h.01M709.5 271.4h.01M868.6 160.5h.01M742.5 278.8h.01M846.6 218.6h.01M774.3 209.6h.01M809.1 210.5h.01M879.9 94.3h.01M876.7 192.7h.01M769.1 209.1h.01M828.7 118.4h.01M893.5 94.3h.01M841.3 80.8h.01M819.8 229.8h.01M896.8 82.6h.01M717.5 285.4h.01M796.6 228.8h.01M821.2 240.2h.01M875.5 118.4h.01M791.1 214.8h.01M812.2 167.3h.01M697.9 274.6h.01M827.2 192.7h.01M869.2 167.3h.01M858.2 205.4h.01M818.3 191.9h.01M822.2 156.7h.01M753 249h.01M845.7 178.5h.01M747.3 271.3h.01M781 242.9h.01M666.1 259.8h.01M776.7 242h.01M767.7 271.3h.01M706.7 285.4h.01M838.1 94.3h.01M813.4 181.1h.01M714.9 271.1h.01M747.1 219.3h.01M744.9 274.5h.01M815.9 209.4h.01M843.3 192.7h.01M782 256.6h.01M869.2 182h.01M822.6 203.1h.01M776.3 256h.01M815.3 200.9h.01M759.7 240.4h.01M766.9 240.4h.01M736.3 240.4h.01M731.1 240.4h.01M740.3 240.4h.01M763.2 240.4h.01M718.9 240.4h.01M734.4 240.4h.01M747.7 240.4h.01M764.8 240.4h.01M756.4 240.4h.01M759.5 240.4h.01M742 240.4h.01M766.1 240.4h.01M755.6 240.4h.01M747.3 240.4h.01M719 240.4h.01M732.4 240.4h.01M741.7 240.4h.01M734.5 240.4h.01M723.2 240.4h.01M721.6 240.4h.01M762.7 240.4h.01M738.4 240.4h.01M725.8 240.4h.01M735.7 240.4h.01M725.4 240.4h.01M738.4 240.4h.01M748 240.4h.01M751 240.4h.01M752.2 240.4h.01M740.1 240.4h.01M746.2 240.4h.01M765.9 240.4h.01M748 240.4h.01M819.6 202.8h.01M843.1 202.8h.01M851.2 202.8h.01M880.5 202.8h.01M841.4 202.8h.01M815.5 202.8h.01M864.4 202.8h.01M882.2 202.8h.01M877.5 202.8h.01M871.5 202.8h.01M833.1 202.8h.01M879.1 202.8h.01M857.1 202.8h.01M853.7 202.8h.01M868.5 202.8h.01M835 202.8h.01M837.7 202.8h.01M872.5 202.8h.01M837.8 202.8h.01M836.3 202.8h.01M829.9 202.8h.01M881.1 202.8h.01M874.3 202.8h.01M874 202.8h.01M877 202.8h.01M825.6 202.8h.01M844.5 202.8h.01M815 202.8h.01M885.5 202.8h.01M826.7 202.8h.01M832.1 202.8h.01M843.5 202.8h.01M833.2 202.8h.01M880.2 202.8h.01M859.3 202.8h.01M816.2 202.8h.01M884.6 202.8h.01M886.1 202.8h.01M848.6 202.8h.01M865 202.8h.01M855.4 202.8h.01M816.6 202.8h.01M843.3 202.8h.01M814.7 202.8h.01M840.4 202.8h.01M829.9 202.8h.01M859.2 202.8h.01M854.3 202.8h.01M853.7 202.8h.01M827.6 202.8h.01M880 202.8h.01M863.5 202.8h.01M870.1 202.8h.01M859.1 202.8h.01M833.9 202.8h.01M848.3 185.6h.01M845.4 185.6h.01M848 185.6h.01M853.1 185.6h.01M832.7 185.6h.01M839.9 185.6h.01M848.8 185.6h.01M852 185.6h.01M856.5 185.6h.01M825.5 185.6h.01M850.4 185.6h.01M845.1 185.6h.01M859.6 185.6h.01M828.2 185.6h.01M849.3 185.6h.01M842.1 185.6h.01M845.9 185.6h.01M833 185.6h.01M847.9 185.6h.01M836.6 185.6h.01M832.3 185.6h.01M837.8 185.6h.01M856 185.6h.01M827 185.6h.01M830.9 185.6h.01M840.1 185.6h.01M849.4 185.6h.01M831.9 185.6h.01M863.1 185.6h.01M830.5 185.6h.01M833.5 175.4h.01M818.2 175.4h.01M825.9 175.4h.01M836.7 175.4h.01M827.3 175.4h.01M811.6 175.4h.01M833.7 175.4h.01M856.3 175.4h.01M849.5 175.4h.01M814.4 175.4h.01M823.8 175.4h.01M856.9 175.4h.01M812.6 175.4h.01M829.6 175.4h.01M847.8 175.4h.01M821.3 175.4h.01M827.8 175.4h.01M823.5 175.4h.01M850.9 175.4h.01M830.1 175.4h.01M813.3 175.4h.01M841.8 175.4h.01M821.4 175.4h.01M815.1 175.4h.01M847.7 175.4h.01M899.1 101h.01M901.9 101h.01M887.7 101h.01M896.9 101h.01M895.6 101h.01M902.8 101h.01M900 101h.01M895.7 101h.01M896.1 101h.01M901.6 101h.01M906.7 128.9h.01M907.2 128.9h.01M901.8 128.9h.01M916 128.9h.01M908 128.9h.01M915.8 128.9h.01M904.1 128.9h.01M902.8 128.9h.01M751.2 269.3h.01M734.6 269.3h.01M749.4 269.3h.01M710.9 269.3h.01M724 269.3h.01M739.3 269.3h.01M741.8 269.3h.01M730.2 269.3h.01M716.6 269.3h.01M744.2 269.3h.01M730 269.3h.01M742.6 269.3h.01M722.9 269.3h.01M758 269.3h.01M728.8 269.3h.01M757.9 269.3h.01M756.4 269.3h.01M745.2 269.3h.01M718.4 269.3h.01M740.5 269.3h.01M736.8 269.3h.01M734.9 269.3h.01M726.3 269.3h.01M712.6 269.3h.01M737.6 269.3h.01M715.2 257.2h.01M737.2 257.2h.01M745.6 257.2h.01M721.9 257.2h.01M752.6 257.2h.01M736.8 257.2h.01M757.1 257.2h.01M742.6 257.2h.01M756.8 257.2h.01M752.6 257.2h.01M726.2 257.2h.01M723.4 257.2h.01M733.2 257.2h.01M744.8 257.2h.01M737.4 257.2h.01M717.7 257.2h.01M714.4 257.2h.01M711.3 257.2h.01M755.8 257.2h.01M757.3 257.2h.01M718.4 257.2h.01M761.3 257.2h.01M755.7 257.2h.01M716.2 257.2h.01M749.4 257.2h.01M711.7 299h.01M704.4 299h.01M707.1 299h.01M725.6 299h.01M700.1 299h.01M697.8 299h.01M722.9 299h.01M731.4 299h.01M700.4 299h.01M715.9 299h.01M726.6 299h.01M728.4 299h.01M722 299h.01M732 299h.01M724.3 299h.01M711.9 299h.01M724.2 299h.01M710.7 299h.01M722.4 299h.01M697.1 299h.01M724.5 35h.01M727.2 35h.01M809.7 43.3h.01M825.4 43.3h.01M665.5 193.9h.01M906.5 73.1h.01M913.3 73.1h.01M748.9 101h.01M760.1 101h.01M773.6 101h.01M789.4 101h.01M790.7 101h.01M789.4 110.3h.01M789.4 117.7h.01M796.1 121.4h.01M796.1 128.9h.01M814.2 117.7h.01M823.2 117.7h.01M760.1 130.7h.01M760.1 145.6h.01M724.1 189.3h.01M730.8 187.4h.01M769.1 184.6h.01M838.9 73.1h.01M847.9 87h.01M773.6 73.1h.01M789.4 77.7h.01M838.9 82.4h.01M800.6 68.4h.01M870.5 238.6h.01M872.7 238.6h.01M890.7 203.2h.01M884 203.2h.01" stroke="#0a0a0a" stroke-width="1.7" stroke-linecap="square" fill="none" opacity=".92"/><g shape-rendering="crispEdges"><rect x="683.31" y="41.10" width="3.52" height="3.52" fill="#8b4a2f"/><rect x="686.78" y="41.10" width="3.52" height="3.52" fill="#e8ead6"/><rect x="690.25" y="41.10" width="3.52" height="3.52" fill="#d9c2a0"/><rect x="693.73" y="41.10" width="3.52" height="3.52" fill="#8b4a2f"/><rect x="686.78" y="44.57" width="3.52" height="3.52" fill="#8b4a2f"/><rect x="690.25" y="44.57" width="6.99" height="3.52" fill="#e8ead6"/><rect x="697.20" y="44.57" width="3.52" height="3.52" fill="#d9c2a0"/><rect x="700.67" y="44.57" width="3.52" height="3.52" fill="#8b4a2f"/><rect x="690.25" y="48.05" width="3.52" height="3.52" fill="#8b4a2f"/><rect x="693.73" y="48.05" width="10.47" height="3.52" fill="#e8ead6"/><rect x="704.14" y="48.05" width="3.52" height="3.52" fill="#d9c2a0"/><rect x="707.62" y="48.05" width="3.52" height="3.52" fill="#8b4a2f"/><rect x="693.73" y="51.52" width="3.52" height="3.52" fill="#8b4a2f"/><rect x="697.20" y="51.52" width="13.94" height="3.52" fill="#e8ead6"/><rect x="711.09" y="51.52" width="3.52" height="3.52" fill="#d9c2a0"/><rect x="714.56" y="51.52" width="3.52" height="3.52" fill="#8b4a2f"/><rect x="672.89" y="54.99" width="6.99" height="3.52" fill="#2733a6"/><rect x="690.25" y="54.99" width="3.52" height="3.52" fill="#000000"/><rect x="693.73" y="54.99" width="24.36" height="3.52" fill="#ffffff"/><rect x="718.03" y="54.99" width="3.52" height="3.52" fill="#d9c2a0"/><rect x="721.50" y="54.99" width="3.52" height="3.52" fill="#000000"/><rect x="724.98" y="54.99" width="3.52" height="3.52" fill="#fff0b0"/><rect x="728.45" y="54.99" width="3.52" height="3.52" fill="#ffffff"/><rect x="731.92" y="54.99" width="3.52" height="3.52" fill="#f0a040"/><rect x="735.39" y="54.99" width="3.52" height="3.52" fill="#e06020"/><rect x="738.87" y="54.99" width="3.52" height="3.52" fill="#b01818"/><rect x="665.95" y="58.46" width="6.99" height="3.52" fill="#2733a6"/><rect x="672.89" y="58.46" width="3.52" height="3.52" fill="#2f6fd0"/><rect x="676.36" y="58.46" width="6.99" height="3.52" fill="#7fd0f5"/><rect x="683.31" y="58.46" width="3.52" height="3.52" fill="#000000"/><rect x="686.78" y="58.46" width="3.52" height="3.52" fill="#ffffff"/><rect x="690.25" y="58.46" width="3.52" height="3.52" fill="#000000"/><rect x="693.73" y="58.46" width="27.83" height="3.52" fill="#e8ead6"/><rect x="721.50" y="58.46" width="3.52" height="3.52" fill="#d9c2a0"/><rect x="724.98" y="58.46" width="3.52" height="3.52" fill="#000000"/><rect x="728.45" y="58.46" width="6.99" height="3.52" fill="#fff0b0"/><rect x="735.39" y="58.46" width="6.99" height="3.52" fill="#f0a040"/><rect x="742.34" y="58.46" width="3.52" height="3.52" fill="#e06020"/><rect x="745.81" y="58.46" width="3.52" height="3.52" fill="#b01818"/><rect x="659.00" y="61.94" width="6.99" height="3.52" fill="#15186b"/><rect x="665.95" y="61.94" width="6.99" height="3.52" fill="#2733a6"/><rect x="672.89" y="61.94" width="3.52" height="3.52" fill="#2f6fd0"/><rect x="676.36" y="61.94" width="3.52" height="3.52" fill="#7fd0f5"/><rect x="679.84" y="61.94" width="3.52" height="3.52" fill="#ffffff"/><rect x="683.31" y="61.94" width="3.52" height="3.52" fill="#000000"/><rect x="686.78" y="61.94" width="3.52" height="3.52" fill="#ffffff"/><rect x="690.25" y="61.94" width="3.52" height="3.52" fill="#000000"/><rect x="693.73" y="61.94" width="3.52" height="3.52" fill="#2f6fd0"/><rect x="697.20" y="61.94" width="3.52" height="3.52" fill="#000000"/><rect x="700.67" y="61.94" width="45.19" height="3.52" fill="#e8ead6"/><rect x="745.81" y="61.94" width="10.47" height="3.52" fill="#ffffff"/><rect x="756.23" y="61.94" width="3.52" height="3.52" fill="#e8ead6"/><rect x="759.70" y="61.94" width="3.52" height="3.52" fill="#d9c2a0"/><rect x="665.95" y="65.41" width="6.99" height="3.52" fill="#2733a6"/><rect x="672.89" y="65.41" width="3.52" height="3.52" fill="#2f6fd0"/><rect x="676.36" y="65.41" width="6.99" height="3.52" fill="#7fd0f5"/><rect x="683.31" y="65.41" width="3.52" height="3.52" fill="#000000"/><rect x="686.78" y="65.41" width="3.52" height="3.52" fill="#d9c2a0"/><rect x="690.25" y="65.41" width="3.52" height="3.52" fill="#000000"/><rect x="693.73" y="65.41" width="3.52" height="3.52" fill="#7fd0f5"/><rect x="697.20" y="65.41" width="3.52" height="3.52" fill="#ffffff"/><rect x="700.67" y="65.41" width="3.52" height="3.52" fill="#000000"/><rect x="704.14" y="65.41" width="31.30" height="3.52" fill="#d9c2a0"/><rect x="735.39" y="65.41" width="3.52" height="3.52" fill="#8b4a2f"/><rect x="738.87" y="65.41" width="6.99" height="3.52" fill="#ffffff"/><rect x="745.81" y="65.41" width="3.52" height="3.52" fill="#d9c2a0"/><rect x="749.28" y="65.41" width="13.94" height="3.52" fill="#4a2418"/><rect x="672.89" y="68.88" width="6.99" height="3.52" fill="#2733a6"/><rect x="693.73" y="68.88" width="3.52" height="3.52" fill="#2f6fd0"/><rect x="697.20" y="68.88" width="3.52" height="3.52" fill="#7fd0f5"/><rect x="700.67" y="68.88" width="3.52" height="3.52" fill="#ffffff"/><rect x="704.14" y="68.88" width="3.52" height="3.52" fill="#000000"/><rect x="707.62" y="68.88" width="20.88" height="3.52" fill="#e8ead6"/><rect x="728.45" y="68.88" width="6.99" height="3.52" fill="#ffffff"/><rect x="735.39" y="68.88" width="13.94" height="3.52" fill="#8b4a2f"/><rect x="697.20" y="72.35" width="10.47" height="3.52" fill="#2f6fd0"/><rect x="707.62" y="72.35" width="3.52" height="3.52" fill="#8b4a2f"/><rect x="711.09" y="72.35" width="13.94" height="3.52" fill="#ffffff"/><rect x="724.98" y="72.35" width="3.52" height="3.52" fill="#d9c2a0"/><rect x="728.45" y="72.35" width="6.99" height="3.52" fill="#8b4a2f"/><rect x="711.09" y="75.82" width="13.94" height="3.52" fill="#8b4a2f"/></g>
<path d="M665.9 269.9L672.3 268.4L678.6 266.7L685 264.9L691.4 263L697.8 261L704.1 258.9L710.5 256.6L716.9 254.3L723.3 251.8L729.7 249.2L736 246.5L742.4 243.6L748.8 240.7L755.2 237.6L761.5 234.4L767.9 231.1L774.3 227.6L780.7 224.1L787.1 220.4L793.4 216.6L799.8 212.7L806.2 208.7L812.6 204.6L818.9 200.3L825.3 196L831.7 191.5L838.1 186.9L844.5 182.1L850.8 177.3L857.2 172.3L863.6 167.2L870 162L876.3 156.7L882.7 151.3L889.1 145.7L895.5 140.1L901.9 134.3L908.2 128.4L914.6 122.3" fill="none" stroke="#000" stroke-width="3.5" stroke-dasharray="12.7 5.4"/>
<rect x="643" y="26.6" width="315.3" height="306.8" fill="none" stroke="#0a0a0a" stroke-width="1.35"/>
<path d="M665.5 333.4v7.6M710.6 333.4v7.6M755.6 333.4v7.6M800.6 333.4v7.6M845.7 333.4v7.6M890.7 333.4v7.6M935.8 333.4v7.6M643 333.4h-7.6M643 286.9h-7.6M643 240.4h-7.6M643 193.9h-7.6M643 147.5h-7.6M643 101h-7.6M643 54.5h-7.6" stroke="#0a0a0a" stroke-width="1.35" fill="none"/>
<g font-size="13.1" text-anchor="middle">
<text x="665.5" y="359.2">3</text>
<text x="710.6" y="359.2">4</text>
<text x="755.6" y="359.2">5</text>
<text x="800.6" y="359.2">6</text>
<text x="845.7" y="359.2">7</text>
<text x="890.7" y="359.2">8</text>
<text x="935.8" y="359.2">9</text>
</g>
<g font-size="13.1" text-anchor="end">
<text x="626.8" y="338.4">−0.5</text>
<text x="626.8" y="291.9">0.0</text>
<text x="626.8" y="245.4">0.5</text>
<text x="626.8" y="198.9">1.0</text>
<text x="626.8" y="152.5">1.5</text>
<text x="626.8" y="106">2.0</text>
<text x="626.8" y="59.5">2.5</text>
</g>
<text x="800.6" y="383.9" font-size="17.8" text-anchor="middle">ROM Size</text>
<text transform="translate(582.4 180) rotate(-90)" font-size="17.8" text-anchor="middle">CPU Speed</text>
<text x="642.2" y="13.2" font-size="17.8">Shooter (All)</text>
<text x="617" y="38.3" font-size="35" font-weight="bold" text-anchor="end">b</text>
<rect x="971.5" y="309.80" width="15.7" height="12.10" fill="#8293c5"/>
<rect x="971.5" y="298.00" width="15.7" height="12.10" fill="#76a3cd"/>
<rect x="971.5" y="286.20" width="15.7" height="12.10" fill="#76b3ce"/>
<rect x="971.5" y="274.40" width="15.7" height="12.10" fill="#84c3c7"/>
<rect x="971.5" y="262.60" width="15.7" height="12.10" fill="#94d4c0"/>
<rect x="971.5" y="250.80" width="15.7" height="12.10" fill="#a7dcc0"/>
<rect x="971.5" y="239.00" width="15.7" height="12.10" fill="#bae3bf"/>
<rect x="971.5" y="227.20" width="15.7" height="12.10" fill="#cbeabe"/>
<rect x="971.5" y="215.40" width="15.7" height="12.10" fill="#ddf1ba"/>
<rect x="971.5" y="203.60" width="15.7" height="12.10" fill="#eef8b7"/>
<rect x="971.5" y="191.80" width="15.7" height="12.10" fill="#f4fbc2"/>
<rect x="971.5" y="180.00" width="15.7" height="12.10" fill="#fbfdcc"/>
<rect x="971.5" y="168.20" width="15.7" height="12.10" fill="#fffaca"/>
<rect x="971.5" y="156.40" width="15.7" height="12.10" fill="#fff2bc"/>
<rect x="971.5" y="144.60" width="15.7" height="12.10" fill="#fee9ae"/>
<rect x="971.5" y="132.80" width="15.7" height="12.10" fill="#fedca2"/>
<rect x="971.5" y="121.00" width="15.7" height="12.10" fill="#fecc96"/>
<rect x="971.5" y="109.20" width="15.7" height="12.10" fill="#fcbc8c"/>
<rect x="971.5" y="97.40" width="15.7" height="12.10" fill="#faab84"/>
<rect x="971.5" y="85.60" width="15.7" height="12.10" fill="#f7997b"/>
<rect x="971.5" y="73.80" width="15.7" height="12.10" fill="#ee8b7f"/>
<rect x="971.5" y="62.00" width="15.7" height="12.10" fill="#e57e82"/>
<rect x="971.5" y="50.20" width="15.7" height="12.10" fill="#d96f82"/>
<rect x="971.5" y="38.40" width="15.7" height="12.10" fill="#ca5e7e"/>
<rect x="971.5" y="26.60" width="15.7" height="12.10" fill="#bb4d7b"/>
<rect x="971.5" y="26.6" width="15.7" height="306.8" fill="none" stroke="#0a0a0a" stroke-width="1.35"/>
<g font-size="13.1">
<text x="1002.6" y="339">0.00</text>
<text x="1002.6" y="303.6">0.06</text>
<text x="1002.6" y="268.2">0.12</text>
<text x="1002.6" y="232.8">0.18</text>
<text x="1002.6" y="197.4">0.24</text>
<text x="1002.6" y="162">0.30</text>
<text x="1002.6" y="126.6">0.36</text>
<text x="1002.6" y="91.2">0.42</text>
<text x="1002.6" y="55.8">0.48</text>
</g>
<path d="M987.2 333.4h7.6M987.2 298h7.6M987.2 262.6h7.6M987.2 227.2h7.6M987.2 191.8h7.6M987.2 156.4h7.6M987.2 121h7.6M987.2 85.6h7.6M987.2 50.2h7.6" stroke="#0a0a0a" stroke-width="1.35" fill="none"/>
</g>
<g id="panel-c">
<clipPath id="clc"><rect x="642.8" y="456.3" width="315.3" height="306.6"/></clipPath>
<g clip-path="url(#clc)">
<path fill="#8195c6" d="M935 509.1L939 513.8L942.7 519L945 523.5L946.5 528L947.4 533L947.4 538L946.7 542.5L945.1 548.5L939.1 561L912.8 605.5L904.1 618L897.9 625.5L890.5 633.5L880.5 642.8L871 650.3L858.5 659L846 666.5L802.5 690.9L782.9 703L752 724.8L731 738.4L720.5 743.7L715 745.3L709.5 746.3L706 746.5L703.5 746L701 744.7L698.4 742.5L694.7 737.5L692 731.1L690.9 725L690.7 718.5L691.9 708.5L693.8 700.5L695.6 695L700.3 684L706.2 673.5L718.7 656L732.5 641L754.4 620.5L763.7 610L770.3 599.5L773.7 591.5L774.8 586.5L775.4 581.5L775.1 578L774 574L771 568.9L761.4 557.5L757.5 552L754.7 545L753.5 537L753.6 533L755 524.5L758.6 514L763.3 505.5L771.1 496L777 490.6L783 486.5L788 483.8L793.5 481.9L797 481.1L800.5 480.8L814 481.5L822 481.3L831.5 478.7L839 475.5L847 472.9L851.5 472L855 471.8L858.5 472.8L861.5 475L872.8 489.5L875.5 492.2L878 493.8L882 495.2L887 496.1L905.5 496.3L916 497.9L920.5 499.6L926.6 502.5Z"/>
<path fill="#74a6ce" d="M932 521.1L935.3 525L937.4 528.5L938.5 532L939.3 537L939.2 540.5L938.4 545L934.2 556.5L929.2 566.5L922.3 578.5L905.3 605L893.8 620.5L887.2 628L879.4 636L868.5 645.1L856 653.3L844 659.9L826.1 668.5L804.1 680L791.1 688L759 710.7L746 718.8L731.5 725.8L721.5 729L718.5 729.3L715.5 728.8L713 727.7L711 726L708.7 722.5L707 718L706.2 712L706.2 705L707.2 698.5L709.7 690L711.7 684.5L714.9 678L723.4 664.5L728.5 658L738 647.6L765.9 621L771.8 614.5L780.6 602L784.5 595L786.3 590.5L788 583.5L788.6 577.5L788.3 572L786.8 566L784.9 562L782.1 558L772.5 549.2L769.5 545.9L767.5 541.9L766.6 537L768 526.8L771.5 517.8L777 508.9L784 501.1L789.2 497.5L798.5 493.5L800.6 493.5L804.5 495.5L808 496.4L812.5 496.9L818 496.8L822 495.9L842.7 488.5L846 487.8L848.5 487.7L850.9 488.5L852.5 489.9L854.2 492L855.6 495L857.5 504.5L857.3 518.5L858 520.6L860 522.2L862.5 522.6L866.2 522L890.5 514.2L901 512.3L906 511.8L914.5 512.7L922 514.6L927.5 517.4Z"/>
<path fill="#7ab8cc" d="M927.5 525.5L930.5 529.2L932.2 532L933.5 536L934.1 540L934 544.5L933.2 549.5L931.8 554L926.4 565.5L916.4 582.5L902.7 603L891 618.6L884.5 625.9L876.5 633.8L867 641.9L854 650.5L842.5 657L805.9 676L789.4 686L756 709.3L746.5 714.8L736 719.1L730 720.5L726 720.7L722.5 720.4L720 719.5L718 718L716.1 715L714.6 710.5L714 706L714.1 700L715.4 692.5L717 686.5L719.2 681L722.1 675.5L729.6 664L741.9 650.5L769 624.2L782 609.1L785.5 606.2L792 602L794 600L795.7 596.5L802.9 578L812.5 552L812.9 550L812.4 548.5L811 547.9L803.3 546L797 543L791.1 538.5L785 532L782.1 527L781.3 523L782 519.4L783 517.6L784.8 515.5L789.5 512.5L794.5 510.9L799.5 510.7L807.5 511.6L812 511.1L816 509.4L824.5 503.6L830.5 500.4L835.5 499.2L837.5 499.4L839.4 500L842.3 502.5L844 506L844.6 510.5L843.8 515.5L842.4 519.5L840.4 523.5L836.5 528.8L830.8 535.5L829.5 538L829.7 539L830.5 539.7L835.5 540.7L839 540.5L843.5 539.3L888.5 522.3L894 520.5L902 519L909 518.6L914 519L918 519.8L923 521.9Z"/>
<path fill="#8ac9c5" d="M828.5 518L829 519.5L828.6 521L827 523L824.5 525L822 526.5L820 527.1L818 526.9L816.8 526L816.3 524.5L816.7 522.5L818 520.5L820 518.8L822.5 517.5L825 516.9L827 517ZM923.7 528.5L927 532.5L928.7 535.5L929.8 539L930.6 544L930.5 548L929.9 551.5L926.2 561L923.3 566.5L914.3 581.5L902.4 599.5L889.2 617L883 623.8L875 631.5L865.5 639.7L852.5 648.4L842.5 654.2L817.5 667.5L797 678.9L789 683.9L762.5 702.2L752 709L742.6 713.5L733.5 716L730.5 716.1L727.7 715.5L725.4 714.5L723.5 713L721.3 709.5L720 705.5L719.5 699.5L720.2 692.5L721.4 686.5L723.4 681L726.2 675.5L730.2 669L733.5 664.6L739.5 657.9L752.2 645L769.5 628.4L776 621.4L782.9 613L786.5 610.7L795.1 608L798.2 606L801 602L805.3 594L809.8 587L816.4 578L822 572.1L826 568.8L830 566.3L844.8 559.5L848.5 557.4L853.5 552.7L860.7 542.5L863.5 539.6L869 535.5L879 530.7L894.5 525.3L907 523.2L913 523.4L917 524.2L920.5 525.8Z"/>
<path fill="#9bd7c0" d="M922 532.9L924.5 536L926 539L927.3 543.5L927.7 547L927.4 550.5L926.6 554L922.9 563.5L907.5 588.5L898.4 601.5L887.7 615.5L881.5 622.3L873.5 630L864 638L851 646.7L840.5 652.7L816 665.6L796.5 676.7L782.5 685.7L762 699.5L752.5 705.1L743 709L735 710.6L732.5 710.7L730.5 710.3L727.5 708.2L725.7 705L724.5 700L724.1 694.5L724.6 688.5L725.9 683.5L727.9 678.5L730.9 673L734.2 668L740.6 660.5L747.3 653.5L771.5 630.4L778.5 623.1L784.7 615.5L788 613.3L796.5 609.9L799.5 607.6L808 596.5L813.8 590L820.1 581.5L825.8 575.5L831.6 571L845.5 563.5L850.5 560.2L855.9 555L863.5 544.7L866 542L871 538.2L880 533.7L895.5 528.5L907.5 527L912 527.3L916 528.3L919 530Z"/>
<path fill="#b0dfc0" d="M920 536.2L922 538.9L923.4 541.5L924.5 545L924.8 548L924.7 551.5L923.9 555.5L920.7 564L916.6 570L905.3 588.5L892.4 606.5L886.6 614L881 620.1L872 628.8L863 636.3L850 645L839.5 650.9L809 666.6L794.5 675.2L758.5 698.3L750 702.4L741.5 704.7L734.5 705.2L732.5 704.7L731.2 703.5L729.5 700.5L728.3 695.5L727.9 691L728.3 686.5L729.4 682L731.3 677.5L734.1 672.5L737.5 667.5L749 654.9L772.6 633L779.5 626L786.8 617.5L789.4 615.5L798.5 610.2L807.5 600.9L815.5 594.7L823.1 584L830 576.8L834.2 573.5L846.5 565.7L852.5 561.3L857 557L865.8 546L869.5 542.6L873.5 539.9L881 536.1L895 531.6L900 530.8L906.5 530.5L911 530.9L914.5 531.9L917 533.3Z"/>
<path fill="#c5e8bf" d="M918.1 539L921 543.6L922 546.5L922.3 549.5L921.7 556.5L919.2 563.5L915.2 569L903.3 588.5L890.7 606L885.2 613L879.7 619L870.8 627.5L861.7 635L849 643.5L838.5 649.2L821 657.6L808.5 664.2L794 672.9L770.5 688.2L759.5 694.8L751.5 698.4L745 700.1L737.5 700.6L735.7 700L734.4 699L732.6 696L731.3 692L731 688L731.6 683.5L732.9 679.5L735.4 674.5L739 669L742.3 665L751 655.8L774 634.9L781 628L789.5 618.5L798.5 611.7L806.5 603.9L810.5 601.6L816.5 599.3L818 598.2L824.8 587.5L830.5 581L835.4 576.5L847.5 567.7L855.4 561L869.5 545.7L874.5 542.1L883 537.8L892 534.9L897 533.9L905 533.5L910.5 534.2L914.5 535.8Z"/>
<path fill="#d8efbb" d="M916.7 542L919.1 546L920.2 551.5L919.8 557L917.8 563L914 567.8L906.8 580L899 592L889.6 605L878.5 618.1L869.5 626.6L860.5 633.9L848.5 641.8L838 647.4L820.6 655.5L807.9 662L793 671.1L769.2 686.5L759.5 692.2L752 695.4L745.5 696.7L739.5 696.5L737.5 695.7L736.4 694.5L734.8 692L733.9 688.5L733.8 685L734.7 681L736.7 676.5L740 671L747.5 662L759 650.8L775.4 636.5L782 630.2L790.8 620.5L805 606.7L807 605.3L809.5 604.2L812.5 603.6L818 603.4L820 602.2L827.1 590L832.9 583L837.4 578.5L846.5 571.3L857.5 561.3L870.8 547.5L876 543.8L883.5 539.9L892 537.2L896.5 536.3L904 536.2L909.3 537L913 538.7Z"/>
<path fill="#eaf7b8" d="M915.2 544.5L917.2 548L918.3 553L918 557.5L916.5 562L912.8 566.5L905.3 579.5L898 590.8L888.5 604L877.1 617.5L868 626L859.5 632.8L847.5 640.7L837 646.2L820.4 653.5L806.5 660.5L792 669.3L768.4 684.5L758.8 690L752 692.7L746 693.7L741 693.1L739.5 692.4L738 691L736.7 688.5L736.2 686L736.5 683L737.5 679.6L742.5 670.9L750 662.1L760.1 652.5L776.5 638.4L783.8 631.5L803 610.2L805.5 607.8L807.5 606.6L810 605.9L812.5 605.9L818.5 606.9L820 606.8L821.6 606L823.1 604L829.7 591.5L835.4 584.5L840.1 579.5L847.5 573.1L872 549.1L877.2 545.5L884.5 541.7L892 539.4L896 538.6L902.5 538.6L907.7 539.5L911.5 541.3Z"/>
<path fill="#f4fac1" d="M913.4 547L915.1 550L916 554L915.7 558L914.6 561L911.4 565L904 578.4L899 586.4L887.4 603L876.1 616.5L867 625L858.5 631.8L846.5 639.7L835.5 645.4L811.7 655.5L805 658.8L792 666.3L766.7 682L758.5 686.5L752.2 689L748 689.8L743.5 689.4L741.6 688.5L740.6 687.5L739.9 686L739.8 684L740.3 681.5L741.5 678.7L746 671.2L753.6 662.5L762.5 654L778 640.5L785.5 633.2L790.4 628L803 612.3L805.8 609.5L808 608.3L810 607.8L819 609.5L821.5 609.1L823.2 608L825.1 605.5L832.5 592.5L840.6 582.5L849 574.4L856.5 566.5L872.5 551.4L878 547.5L885 543.9L889 542.6L895.5 541.1L900.5 541.2L906 542.2L910 544.1Z"/>
<path fill="#fbfdcc" d="M909.8 550L911.1 552L911.8 554L912 556L911.7 558L901.2 579.5L889.7 597L880.7 609L873.7 617L866.1 624L857.9 630.5L847 637.8L833 645.2L825.5 648.4L804 656.3L776.5 667.2L765 671.1L762.5 671.6L761.5 671.3L761.4 670L761.9 668.5L766.6 661.5L792.5 630.4L805.6 613L807.5 611.4L809.5 610.7L819 611.5L821.5 611L824 609.5L826.5 606.5L835.6 593L843.8 582.5L857.5 568L872.5 554.2L878.5 550.1L884 547.5L888 546L894.5 544.8L898.5 544.9L903.5 546L907 547.7Z"/>
<path fill="#fffaca" d="M905.1 553L906.1 555L906 558L902.3 571.5L899.3 578.5L885.4 600L879.1 608.5L872.7 616L865.5 622.8L856.5 629.9L845.5 637.2L835 643L825.5 647.1L814 650.8L805 652.7L791 654.5L787 654.6L785 654L784.7 652.5L785.3 650.5L791 639.5L796.6 631L807.4 616.5L810 614.6L820 613.2L822.5 612.2L824.8 610.5L836.1 597.5L847.1 582.5L858.9 569.5L870 559.1L875 555.3L879.5 552.7L884 550.9L889 549.6L894 549.2L898 549.5L902.4 551Z"/>
<path fill="#fff1bb" d="M899.5 555.9L900.6 559L900.5 565.5L899.5 572L897.3 577.5L883.8 599L877.8 607.5L872 614.6L865 621.5L856.5 628.4L845 636.1L834.5 642L825 646.1L815 648.8L808.5 649.5L801 649L797.1 648L795.4 647L794.8 645.5L794.9 643.5L797.3 637L800.6 631.5L808.5 620.9L811.5 618.4L819.5 615.3L823.5 613.1L832 604.9L837.3 600.5L839.1 598.5L846.8 587L849.9 583L860 571.4L870 562L877 557L881.5 554.9L885 553.9L889.5 553.3L893.5 553.5L897.5 554.5Z"/>
<path fill="#fee7ab" d="M895 559.4L896.5 562.5L897.3 568.5L896.8 572.5L895.4 576.5L882.4 598L876.7 606.5L871.2 613.5L864.9 620L856 627.4L845 634.9L834.5 640.8L825.5 644.7L818 646.6L811 647.4L805.5 646.3L801.8 644L800.8 642.5L800.6 641L801.5 637L803.7 633L809.2 625.5L812.8 622L823.5 614.7L831.5 607.6L840 601.9L841.9 599.5L849.1 588L852.8 583L861.1 573L870 564.6L876.5 559.9L880 558.3L883.5 557.2L886.5 556.9L890 557.2L893.1 558Z"/>
<path fill="#fed79f" d="M891.8 562.5L893.6 565.5L894.7 569.5L894.4 573L893.1 576.5L881.3 597L875.9 605.5L870.7 612.5L864.5 619L856.5 625.8L845 633.8L836 638.9L829.5 641.9L822.5 644.3L814.5 645.5L810 645L808 644.2L806.5 643L805.1 640.5L805.3 637.5L806.8 634.5L811 628.5L830 610.5L833.5 608.1L839.8 605L842.2 603L844.5 600L854.2 584L861.3 575L866 570.2L873.5 563.7L876.5 561.9L879.5 560.7L883 559.9L886 559.9L889.5 560.9Z"/>
<path fill="#fec791" d="M889.7 564.5L891.4 567L892.4 570L892.4 573L891.2 576.5L880.3 596.5L875 605L870.3 611.5L864.4 618L858 623.7L850 629.6L841 635.3L834 638.8L825.2 642L819.5 643.2L813 643.2L811 642.6L809.7 641.5L808.8 639.5L809.2 637.5L814 630L823.8 618.5L829 613L833 610L840.3 606.5L843.5 603.7L845.5 601L855.7 584L861.8 576L866 571.6L873.5 565L876 563.4L878.5 562.5L882 561.8L885 562L887.5 562.9Z"/>
<path fill="#fbb488" d="M887.9 565.5L889.9 568.5L890.6 572L890 575L887.8 580.5L879.8 595.5L874.4 604.5L869.7 611L864.4 617L858.5 622.3L851.5 627.7L843.5 633L837.5 636.3L830.5 638.9L823.5 640.4L818 640.6L814.9 639.5L814.2 638.5L814.2 637.5L815.3 634.5L825.2 619.5L828.5 615.5L831.1 613L834 611L840.5 607.7L844 604.6L846.5 601.1L856.4 584.5L864.5 574.2L873 566.4L877.5 563.8L880.5 563.2L883.5 563.3L885.8 564Z"/>
<path fill="#f8a07f" d="M886 566.2L888.1 569L888.8 572L888.3 575.5L886.2 581.5L880.3 593L873.8 604L869.6 610L864.8 615.5L859.5 620.6L852.7 626L844 631.9L838.5 634.9L833.5 636.8L829 637.6L824 637.4L821 636.4L820.4 635.5L820.2 634.5L820.8 632L824.5 624.5L827.9 619L832.4 614L841 608.4L845 604.5L857 585L864.3 575.5L872.9 567.5L877 564.9L879.5 564.2L882 564.3L884 564.9Z"/>
<path fill="#f1907e" d="M884 566.6L886.1 569L887 572L886.6 576L885.2 581L882 588L877.1 597L872.2 605L867.5 611.3L862.3 617L856.1 622.5L848.6 628L840.5 633L836 635L832.5 635.8L829 635.5L826.1 634L825 632L825.2 629.5L826.9 625L829.7 620L833.9 615L841.5 609.1L845.5 605L849.2 599.5L857.5 585.5L864 577L872.4 569L876.4 566L878.5 565.3L880.5 565.2L882.5 565.7Z"/>
<path fill="#e88281" d="M882.5 567.5L884.3 570L885.1 573L884.8 577.5L883.6 582L881 587.8L876.5 596.1L872 603.7L868 609.4L863 615.1L859 619L853.5 623.5L847.1 628L840.4 632L836.5 633.7L833 634.3L831.5 634L830 633.2L828.6 631L828.5 628.5L829.6 625L831.7 621L835.5 616L843 608.8L846.5 604.8L858 586L863 579.4L868.5 573.6L876 567.4L877.8 566.5L879.5 566.3L881 566.6Z"/>
<path fill="#dc7283" d="M880 568.8L881.7 571L882.5 574.5L882.5 578.5L881.6 582.5L879.5 587.6L875.5 595.3L868 607.6L859.1 617.5L849.5 625L842.1 629.5L838 631.5L835 632.1L833.1 631.5L832.2 630L832.2 627.5L833.2 624.5L835.1 620.5L839.2 614.5L847.6 604.5L860 584.5L866 577.5L874.2 570.5L877.5 568.5L879 568.4Z"/>
<path fill="#cc607f" d="M875 577.9L876 579.5L876.4 582L876.1 585.5L875.3 589L871.5 598.2L866.5 606.3L859.1 615L852.5 620.5L849 622.6L845.5 624L842.5 624.5L840.9 624L840.1 622.5L839.9 620.5L840.4 617.5L841.5 614.5L851.3 600.5L860.5 585.6L864.5 581.2L868 578.7L872.5 577.3L874 577.4Z"/>
<path fill="#bb4d7b" d="M868 584.4L869 585.5L869.5 587L869.5 591L868 596.5L865.4 601.5L857.5 611.1L853.6 615L849 617.6L847 617.9L845.5 617.5L844.7 616.5L844.4 615L845.5 611.6L855.4 597L860.5 588.3L862.5 585.9L864.5 584.4L866.5 583.9Z"/>
</g>
<path d="M775.8 653.9h.01M844 585.3h.01M840 618.6h.01M816.5 637.4h.01M832.8 629.9h.01M777.8 664.5h.01M811.1 651.8h.01M760.6 664.5h.01M834.1 536.5h.01M837 601.8h.01M846.4 607.1h.01M864 548.1h.01M780.2 512.6h.01M821.7 648.2h.01M762.5 689.4h.01M811.2 640.2h.01M867.8 588.5h.01M810.4 629.2h.01M887.5 591.8h.01M804.7 632.9h.01M870.2 581.7h.01M837.5 638.1h.01M732.9 700.8h.01M745.2 695.9h.01M787.2 657h.01M740.7 664.5h.01M848.4 634h.01M821.3 614h.01M765.2 664.5h.01M883.6 557h.01M864 594.5h.01M771 619.1h.01M869.7 606.3h.01M828.6 639.3h.01M865.8 574.6h.01M891.2 549.8h.01M873 567h.01M723.4 684.1h.01M879.2 565.6h.01M910.8 581.7h.01M817.1 596.9h.01M833.9 620.6h.01M829 640.2h.01M869.7 554.7h.01M770 674.5h.01M827.3 635.3h.01M876.2 589h.01M889.7 572.3h.01M805.3 616.1h.01M860.1 616.1h.01M880.1 581.7h.01M876 570.9h.01M823 636.1h.01M821.4 625.4h.01M838.3 640.7h.01M870 572.3h.01M803.3 630.8h.01M867.1 553.7h.01M818.7 515.3h.01M860.2 572.6h.01M828.6 638.2h.01M841.4 612.5h.01M804.4 619.9h.01M838.7 617.6h.01M857.7 621.7h.01M845.8 589.7h.01M833 630.4h.01M915.3 526.5h.01M829.3 595.7h.01M923.1 547.4h.01M837.5 567h.01M761.9 663.2h.01M832.9 618.5h.01M790.9 639.7h.01M872.2 618.7h.01M844.2 615.6h.01M804.5 640.3h.01M831.3 620.4h.01M852.2 609.5h.01M848.4 616.1h.01M868.7 614.9h.01M859 591.4h.01M821.2 625h.01M862.6 596.9h.01M840.8 623.6h.01M844.4 608.1h.01M778.3 634h.01M835.9 627.4h.01M887.1 542.4h.01M830.1 640.2h.01M805.3 660.5h.01M890.9 591.8h.01M820.1 632.2h.01M787.9 648.2h.01M833.5 608.6h.01M865.2 564.8h.01M782.4 634h.01M818.7 647.2h.01M872.7 588.2h.01M854.5 572.3h.01M826 634h.01M859.7 609.9h.01M897.5 529.7h.01M872.8 574.6h.01M891.9 577h.01M834.6 616.1h.01M795.1 614.7h.01M869 609.9h.01M843.4 591.4h.01M856.5 597.3h.01M852.9 608.1h.01M866.9 616.1h.01M821.8 616.1h.01M826.1 630.1h.01M735.5 705.4h.01M794.8 634.1h.01M852.9 607.4h.01M765.4 689.7h.01M898 563.9h.01M775.3 674.5h.01M857.5 608.4h.01M783.4 608.1h.01M825.8 649h.01M843.8 618.9h.01M815.9 640.2h.01M851.8 594.5h.01M883.5 616.1h.01M833.7 623.1h.01M869.4 581.7h.01M842.4 635.6h.01M879.5 569.1h.01M884.6 567h.01M855.7 581.7h.01M832 642.2h.01M848.7 606h.01M904.4 540.5h.01M904.8 572.3h.01M866.2 614.7h.01M902.6 549.7h.01M872.4 588.8h.01M871.2 572.3h.01M849.3 622.2h.01M875.5 567.5h.01M866 594.5h.01M869.9 603.2h.01M777.5 664.5h.01M883 596.9h.01M881.2 567h.01M870.1 596.9h.01M877.2 594.8h.01M853.9 615h.01M895.3 564.3h.01M880.5 596.9h.01M836.1 623.6h.01M849 598.9h.01M796.3 676.2h.01M836.9 593.9h.01M795.3 659.4h.01M862.8 591.8h.01M900.5 597.5h.01M801.6 628.8h.01M819.7 612.5h.01M790.3 674.5h.01M746.4 659.4h.01M873.1 585.1h.01M851 589.3h.01M847.9 622.7h.01M826.4 640.2h.01M904.3 567h.01M753.5 664.5h.01M832.9 593h.01M894.5 567h.01M857.4 583.2h.01M804.1 640.2h.01M834.1 581.7h.01M822 567h.01M830.5 618.1h.01M738 664.5h.01M813.6 588.6h.01M855 609.4h.01M866 596.7h.01M741.2 674.8h.01M771.2 648.2h.01M886.6 607.3h.01M742.2 690.9h.01M861.7 577.9h.01M878.7 599.7h.01M797.7 614.9h.01M816 636.7h.01M856 628.3h.01M887.7 599.5h.01M755.1 673.7h.01M757.2 692.6h.01M816.2 649.6h.01M875.1 608.1h.01M835 643.4h.01M871.7 581.7h.01M874.2 572.3h.01M899.6 555.5h.01M803 640.9h.01M758.4 689.4h.01M866.9 586.5h.01M819.7 630.7h.01M883.5 582.4h.01M780.5 640.2h.01M909.7 572.3h.01M810 610.5h.01M806.5 640.2h.01M742.5 684.1h.01M835.2 625.7h.01M834.7 626.8h.01M856.1 596.9h.01M880.1 570.9h.01M824.7 641.3h.01M915 555.5h.01M864 634h.01M854.7 587.9h.01M866.3 547.1h.01M873.8 567h.01M861.9 608.1h.01M885 579.3h.01M919.9 548.1h.01M873.8 581.7h.01M830.9 648.2h.01M815.1 638.6h.01M813.4 596.9h.01M865.5 587h.01M707.6 722.2h.01M849.1 607.9h.01M841 634h.01M787.2 659.7h.01M857.2 607.4h.01M852.4 623.7h.01M856.3 598.6h.01M774.7 659.5h.01M807.5 640.2h.01M826.6 596.9h.01M868.9 659.4h.01M780.4 566.6h.01M883.1 584h.01M889.4 629.9h.01M880.2 541.4h.01M779.5 684.1h.01M916.3 504.5h.01M762.5 684.4h.01M900 574.4h.01M740.5 674.5h.01M875.3 577.3h.01M766.9 648.2h.01M865.5 608.1h.01M873.5 597.2h.01M858.6 616.1h.01M741.6 729.4h.01M815.1 675.2h.01M875 572.3h.01M871.5 567.1h.01M800.3 685.6h.01M853.7 542.6h.01M876.1 529.7h.01M864.9 628.2h.01M850 577.1h.01M843.3 577.1h.01M860.2 577.1h.01M849.1 577.1h.01M854.9 577.1h.01M857.7 577.1h.01M847.1 577.1h.01M847.4 577.1h.01M862.8 577.1h.01M893.9 530.6h.01M884.3 530.6h.01M894.7 530.6h.01M895.8 530.6h.01M896.6 530.6h.01M890.8 530.6h.01M886.8 549.2h.01M885.4 549.2h.01M892.8 549.2h.01M885.5 549.2h.01M898 558.5h.01M901.5 558.5h.01M902.7 558.5h.01M900.3 558.5h.01M897.2 558.5h.01M703.2 716.4h.01M706.7 716.4h.01M697.5 716.4h.01M704.7 716.4h.01M721 716.4h.01M709.3 716.4h.01M711.6 725.7h.01M716.1 725.7h.01M721.2 725.7h.01M710.4 737.8h.01M708.1 649.6h.01M744.1 730.4h.01M746.4 730.4h.01M786.9 707.2h.01M877.5 502.8h.01M882.4 502.8h.01M910.4 502.8h.01M917.6 548.3h.01M923.4 548.3h.01M923.4 560.4h.01M787.5 501.4h.01M787.5 515.7h.01M788.5 518.7h.01M773.6 522.7h.01M758.3 530h.01M774.6 530h.01M787.5 530h.01M800.5 530h.01M788.5 526.7h.01M815 526.7h.01M815 532h.01M827.3 507.3h.01M831.3 510.1h.01M839.3 516.3h.01M844.8 523.7h.01M847.2 486.4h.01M788.5 537.6h.01M809 540.6h.01M828.3 537.6h.01M806.4 548.9h.01M809.4 548.9h.01M760.1 559.9h.01M775.2 566.9h.01M787.5 576.8h.01M830.3 565.1h.01M846.2 565.1h.01M747.7 530h.01M803 587.7h.01M812.4 591.7h.01M815 592.9h.01M831.7 592.3h.01M767.6 611.2h.01M820.4 600.9h.01M828.3 603.7h.01M825.3 607.3h.01" stroke="#0a0a0a" stroke-width="1.7" stroke-linecap="square" fill="none" opacity=".92"/><g><rect x="658.3" y="513.2" width="19.9" height="8.8" rx="2" fill="#111"/><rect x="728" y="513.2" width="19.9" height="8.8" rx="2" fill="#111"/><polygon points="675.3,485.9 684.5,474.3 723.6,474.3 728.7,485.9" fill="none" stroke="#b82028" stroke-width="2.2" stroke-linejoin="round"/><ellipse cx="669.7" cy="477.9" rx="4.4" ry="1.6" fill="#f4e8e8" stroke="#b82028" stroke-width="1.6"/><ellipse cx="736.1" cy="477.9" rx="4.4" ry="1.6" fill="#f4e8e8" stroke="#b82028" stroke-width="1.6"/><polygon points="673.1,478.9 679,481.9 677.5,483.7 672.3,480" fill="#b82028"/><polygon points="732.8,478.9 726.9,481.9 728.4,483.7 733.5,480" fill="#b82028"/><rect x="699.2" y="476.8" width="9.6" height="2.4" rx="1" fill="#333"/><polygon points="656.8,495.5 658,491.4 665.7,488.1 674.9,485.3 729.1,485.3 738.7,488.1 747.2,491.4 748.1,495.5 748.1,513.2 746.8,518 726.2,519.7 682.7,519.7 659.1,518 657.2,513.2" fill="#c02a30"/><rect x="684.9" y="483.9" width="14" height="3.7" fill="#b9a890"/><rect x="711.4" y="483.9" width="14" height="3.7" fill="#b9a890"/><rect x="698.9" y="485.3" width="12.5" height="2.2" fill="#c8b8a0"/><polygon points="677.5,487.5 726.2,487.5 728,491.2 674.9,491.2" fill="#0a0a0a"/><rect x="683.4" y="489" width="35.4" height="0.7" fill="#a02028"/><rect x="677.5" y="492.7" width="56" height="1" fill="#e08088" opacity=".6"/><rect x="656.8" y="496.8" width="91.3" height="5.9" fill="#9a1820"/><rect x="676" y="496.8" width="53.8" height="5.9" fill="#050505"/><rect x="661.3" y="497.7" width="8.3" height="2.4" fill="#f09020"/><rect x="669.5" y="497.7" width="5.9" height="2.4" fill="#f4f4f4"/><rect x="730.4" y="497.7" width="5.8" height="2.4" fill="#f4f4f4"/><rect x="736.2" y="497.7" width="8.3" height="2.4" fill="#f09020"/><polygon points="700.7,496.6 702.9,496.2 704.4,498.8 706.2,499.5 704.8,501.4 704,503.6 702.6,503.2 702.9,501.4 700.7,502.5 699.6,500.7 701.5,499.2" fill="#eee"/><polygon points="677.5,510.2 683.4,509.5 724.7,509.5 730.9,510.2 728.7,514.8 679.3,514.8" fill="#0a0a0a"/><rect x="693.7" y="506.2" width="19.2" height="6.8" fill="#f6f6f6" stroke="#222" stroke-width=".4"/><text x="703.3" y="511.3" font-size="4" font-weight="bold" text-anchor="middle" fill="#111">54-98-Y</text><rect x="682.7" y="518.7" width="43.5" height="1.2" fill="#300"/></g>
<path d="M648 708.2L655 706.6L662.1 704.9L669.1 703L676.1 701.1L683.2 699L690.2 696.7L697.3 694.3L704.3 691.8L711.3 689L718.4 686.2L725.4 683.1L732.5 679.9L739.5 676.5L746.5 672.9L753.6 669.1L760.6 665.1L767.6 660.9L774.7 656.5L781.7 651.9L788.8 647L795.8 641.9L802.8 636.6L809.9 631L816.9 625.2L824 619.2L831 612.8L838 606.2L845.1 599.4L852.1 592.2L859.2 584.8L866.2 577.1L873.2 569.1L880.3 560.8L887.3 552.1L894.4 543.2L901.4 533.9L908.4 524.4L915.5 514.4L922.5 504.2" fill="none" stroke="#000" stroke-width="3.5" stroke-dasharray="12.7 5.4"/>
<rect x="642.8" y="456.3" width="315.3" height="306.6" fill="none" stroke="#0a0a0a" stroke-width="1.35"/>
<path d="M665.3 762.9v7.6M710.4 762.9v7.6M755.4 762.9v7.6M800.4 762.9v7.6M845.5 762.9v7.6M890.5 762.9v7.6M935.6 762.9v7.6M642.8 762.9h-7.6M642.8 716.4h-7.6M642.8 670h-7.6M642.8 623.5h-7.6M642.8 577.1h-7.6M642.8 530.6h-7.6M642.8 484.2h-7.6" stroke="#0a0a0a" stroke-width="1.35" fill="none"/>
<g font-size="13.1" text-anchor="middle">
<text x="665.3" y="788.7">3</text>
<text x="710.4" y="788.7">4</text>
<text x="755.4" y="788.7">5</text>
<text x="800.4" y="788.7">6</text>
<text x="845.5" y="788.7">7</text>
<text x="890.5" y="788.7">8</text>
<text x="935.6" y="788.7">9</text>
</g>
<g font-size="13.1" text-anchor="end">
<text x="626.6" y="767.9">−0.5</text>
<text x="626.6" y="721.4">0.0</text>
<text x="626.6" y="675">0.5</text>
<text x="626.6" y="628.5">1.0</text>
<text x="626.6" y="582.1">1.5</text>
<text x="626.6" y="535.6">2.0</text>
<text x="626.6" y="489.2">2.5</text>
</g>
<text x="800.4" y="813.4" font-size="17.8" text-anchor="middle">ROM Size</text>
<text transform="translate(582.2 609.6) rotate(-90)" font-size="17.8" text-anchor="middle">CPU Speed</text>
<text x="642" y="442.9" font-size="17.8">Driving (All)</text>
<text x="616.8" y="468" font-size="35" font-weight="bold" text-anchor="end">c</text>
<rect x="971.3" y="737.35" width="15.7" height="13.07" fill="#8195c6"/>
<rect x="971.3" y="724.57" width="15.7" height="13.07" fill="#74a6ce"/>
<rect x="971.3" y="711.80" width="15.7" height="13.07" fill="#7ab8cc"/>
<rect x="971.3" y="699.02" width="15.7" height="13.07" fill="#8ac9c5"/>
<rect x="971.3" y="686.25" width="15.7" height="13.07" fill="#9bd7c0"/>
<rect x="971.3" y="673.48" width="15.7" height="13.07" fill="#b0dfc0"/>
<rect x="971.3" y="660.70" width="15.7" height="13.07" fill="#c5e8bf"/>
<rect x="971.3" y="647.92" width="15.7" height="13.07" fill="#d8efbb"/>
<rect x="971.3" y="635.15" width="15.7" height="13.07" fill="#eaf7b8"/>
<rect x="971.3" y="622.38" width="15.7" height="13.07" fill="#f4fac1"/>
<rect x="971.3" y="609.60" width="15.7" height="13.07" fill="#fbfdcc"/>
<rect x="971.3" y="596.83" width="15.7" height="13.07" fill="#fffaca"/>
<rect x="971.3" y="584.05" width="15.7" height="13.07" fill="#fff1bb"/>
<rect x="971.3" y="571.27" width="15.7" height="13.07" fill="#fee7ab"/>
<rect x="971.3" y="558.50" width="15.7" height="13.07" fill="#fed79f"/>
<rect x="971.3" y="545.73" width="15.7" height="13.07" fill="#fec791"/>
<rect x="971.3" y="532.95" width="15.7" height="13.07" fill="#fbb488"/>
<rect x="971.3" y="520.17" width="15.7" height="13.07" fill="#f8a07f"/>
<rect x="971.3" y="507.40" width="15.7" height="13.07" fill="#f1907e"/>
<rect x="971.3" y="494.62" width="15.7" height="13.07" fill="#e88281"/>
<rect x="971.3" y="481.85" width="15.7" height="13.07" fill="#dc7283"/>
<rect x="971.3" y="469.07" width="15.7" height="13.07" fill="#cc607f"/>
<rect x="971.3" y="456.30" width="15.7" height="13.07" fill="#bb4d7b"/>
<rect x="971.3" y="456.3" width="15.7" height="306.6" fill="none" stroke="#0a0a0a" stroke-width="1.35"/>
<g font-size="13.1">
<text x="1002.4" y="768.5">0.00</text>
<text x="1002.4" y="730.2">0.06</text>
<text x="1002.4" y="691.9">0.12</text>
<text x="1002.4" y="653.5">0.18</text>
<text x="1002.4" y="615.2">0.24</text>
<text x="1002.4" y="576.9">0.30</text>
<text x="1002.4" y="538.6">0.36</text>
<text x="1002.4" y="500.2">0.42</text>
<text x="1002.4" y="461.9">0.48</text>
</g>
<path d="M987 762.9h7.6M987 724.6h7.6M987 686.2h7.6M987 647.9h7.6M987 609.6h7.6M987 571.3h7.6M987 533h7.6M987 494.6h7.6M987 456.3h7.6" stroke="#0a0a0a" stroke-width="1.35" fill="none"/>
</g>
<g id="panel-d">
<clipPath id="cld"><rect x="1211.5" y="26.6" width="315.3" height="306.8"/></clipPath>
<g clip-path="url(#cld)">
<path fill="#8097c7" d="M1421 183.9L1421.6 185.9L1421.2 188.2L1419.8 191.7L1417.8 195.1L1414.6 198.9L1408.9 204.4L1393.7 221.4L1390.5 223.4L1387.2 224.5L1373.2 226.3L1367.8 227.6L1363.8 229.6L1359.8 232.9L1354.2 239.8L1341.3 260.9L1332 274.4L1324.3 283.9L1317.8 291L1310 301.4L1302.2 308.9L1295.8 313.1L1291.8 315.1L1284.8 317.5L1276.2 319.3L1270.2 319.6L1264.2 319L1260.2 317.7L1257.8 315.8L1256.2 312.9L1255.9 309.4L1259.3 294.9L1259.5 292.9L1259.1 290.9L1258.1 289.4L1256.8 288.2L1246.7 282.9L1243.2 280.1L1241.8 277.9L1241 275.9L1240.8 273.4L1241.1 270.9L1242.3 265.4L1245.5 254.9L1248.8 246.9L1252 240.9L1258.4 230.9L1265.9 221.4L1275.8 211.9L1285.2 205.2L1294.2 201L1303.2 198.2L1308.8 197.6L1313.2 197.5L1317.8 198.5L1322.2 201.5L1325 204.9L1329.1 212.4L1330.8 214L1334.2 215.4L1338.2 215.3L1345.8 213.1L1352.2 209.6L1354.2 207.8L1358.6 201.4L1361.8 198L1366.1 194.9L1371.2 192.5L1375.8 191L1380.8 189.9L1393.8 188.9L1409.6 183.9L1414.2 182.8L1418.8 182.6Z"/>
<path fill="#70abd0" d="M1388.4 199.4L1388.9 202.4L1387.6 205.9L1385 208.9L1380.8 211.5L1375.2 213.6L1370.2 214.4L1366 213.9L1364.3 212.9L1363.6 211.9L1363.1 208.9L1364.2 205.6L1366.8 202.7L1370.8 200L1376.2 197.8L1381.8 196.7L1385.8 197.2L1387.2 198ZM1315.8 203.7L1318.2 205.3L1320.4 207.9L1321.8 210.9L1323.8 216.9L1325.9 219.9L1329.2 221.5L1337.2 223L1340.8 224.1L1343.2 225.4L1345.5 227.9L1347 231.4L1347.3 234.9L1346.5 239.4L1344.5 244.9L1341.3 250.9L1337.7 256.4L1326.8 269.7L1321.2 277.1L1310.1 295.4L1306.8 299.5L1302.8 303.3L1299.2 306.1L1290.8 311L1287.2 312.3L1282.8 313.1L1274.2 313.7L1269.8 313.3L1266.8 312.4L1265.1 311.4L1263.9 309.9L1262.9 306.4L1263.4 301.4L1266 291.4L1266.1 289.4L1265.5 287.4L1264.2 285.9L1262.7 284.9L1254.8 281.2L1250.9 278.9L1248.9 276.9L1247.6 273.9L1247.2 269.4L1248.1 262.4L1249.9 255.9L1252.4 249.4L1258 239.4L1266.1 228.4L1275.2 218.9L1281.8 213.5L1289.8 208.2L1299.2 204.3L1303.8 203.3L1309.2 202.8L1312.8 203Z"/>
<path fill="#81c0c9" d="M1314.2 206.7L1316.2 207.9L1318.3 210.4L1321.8 219.7L1323.8 222.6L1327.8 224.8L1337.2 227.8L1339.7 229.4L1341.5 231.4L1342.8 233.9L1343.2 237.4L1342.7 240.9L1341.3 244.9L1338.8 249.9L1335.2 255.4L1318.5 276.4L1308.2 294L1302.1 300.9L1295.8 305.6L1290.2 308.5L1287.2 309.6L1282.8 310.5L1276.8 310.6L1273.2 310.3L1270.2 309.5L1268.8 308.7L1267.5 307.4L1266.5 304.4L1266.8 300.4L1269.3 290.9L1269.2 287.9L1268.5 285.9L1265.8 283.2L1257.8 279.5L1254.2 277.4L1251.8 274.9L1250.7 272.4L1250.3 268.4L1251 262.4L1252.5 256.4L1254.7 250.4L1260.6 239.9L1267.6 230.4L1276.8 221L1283.2 215.6L1290.2 210.8L1299.2 207L1303.8 206L1307.8 205.7L1311.2 205.8Z"/>
<path fill="#94d4c0" d="M1312.2 209.2L1314.8 210.8L1316.4 212.9L1319.9 222.4L1321.8 225.3L1325.2 227.6L1334.2 231.2L1336.2 232.6L1337.9 234.4L1338.9 236.4L1339.3 238.9L1338.9 241.9L1337.8 245.4L1335.7 249.9L1332.4 255.4L1315.8 275.9L1305.3 292.9L1298.8 300.4L1293.6 304.4L1286.8 307.4L1280.2 308.2L1276.8 308L1274 307.4L1271.2 305.7L1270.3 304.4L1269.9 302.9L1270.2 299.4L1272.2 290.4L1272.2 287.4L1271.4 284.9L1270.1 283.4L1268 281.9L1257.2 276.4L1254.9 274.4L1253.5 271.9L1252.9 268.4L1253.4 262.9L1254.5 257.4L1256.3 251.9L1260.7 243.4L1268.2 232.9L1277.2 223.3L1284.2 217.4L1291.2 212.7L1299.2 209.3L1306.2 208.3L1309.2 208.4Z"/>
<path fill="#addec0" d="M1309.2 211.6L1312.2 213.3L1314.4 215.9L1315.8 219L1317.5 225.9L1319.2 228.9L1322.2 231.2L1329.9 234.9L1332.6 237.4L1333.5 239.4L1333.8 241.9L1333.5 244.9L1332.7 247.9L1330.4 253.4L1326.8 258.8L1320.2 266.6L1305.1 282.4L1300.5 288.9L1295.4 297.9L1293 300.9L1289.8 303.4L1285.8 305L1281.2 305.6L1277.2 305L1274.8 303.3L1273.9 301.9L1273.6 300.4L1273.8 298.4L1275.9 293.4L1276.4 290.9L1276.3 287.4L1275.3 284.9L1274.1 283.4L1272.2 281.9L1259.8 275.2L1257.2 273L1256 270.9L1255.4 267.9L1255.4 262.9L1256.1 258.4L1257.4 253.9L1261.1 245.9L1266.8 237.5L1273.2 229.9L1281.8 221.7L1289.8 215.9L1296.2 212.7L1303.2 211.1L1306.8 211.1Z"/>
<path fill="#c3e7bf" d="M1307.2 213.9L1310.1 215.4L1312.2 217.9L1313.2 220.4L1314.9 227.4L1317 230.9L1319.2 233L1326.5 237.9L1328.4 239.9L1329.4 243.4L1328.9 247.4L1327.2 251.9L1324.8 255.9L1320.2 261.6L1315.3 266.9L1307.2 274.2L1293.2 285.5L1289.2 288.3L1287.8 288.8L1286.8 288.7L1278.1 282.9L1264.2 275.7L1260 272.4L1258.1 269.4L1257.3 265.9L1257.2 261.4L1258.1 256.4L1261.1 248.9L1265.5 241.9L1272.7 232.9L1281.2 224.2L1288.2 218.9L1294.8 215.4L1301.2 213.7L1304.8 213.5ZM1289.8 294L1290.3 295.9L1289.8 297.9L1288.4 299.9L1286.4 301.4L1284.2 302.2L1281.8 302.5L1279.2 302L1277.7 300.9L1277.4 299.4L1278 297.9L1279.8 296.3L1283.2 294.1L1287.2 292.5L1288.8 293Z"/>
<path fill="#d8efbb" d="M1307.8 217L1309.2 218.3L1310.2 219.9L1312.6 227.9L1314.4 231.4L1317 234.4L1323.1 239.4L1325.3 242.4L1325.7 244.9L1325.2 247.9L1323.8 251.4L1321.5 254.9L1314.8 262.9L1306.8 270.3L1298.8 275.7L1291.2 279.2L1285.2 280.4L1277.8 279.9L1270.8 277.4L1264.7 273.9L1262 271.4L1260 268.4L1258.9 264.9L1258.7 260.9L1259.4 256.4L1260.8 252.4L1263.2 247.7L1266.5 242.9L1273.1 234.9L1278.6 228.9L1283.2 224.5L1288.8 220.5L1293.8 217.8L1298.8 216.3L1304.2 215.9Z"/>
<path fill="#eef8b7" d="M1306.2 219.4L1308.3 221.9L1310.7 228.9L1312.2 231.9L1314.8 235.1L1320.2 240.4L1322.1 243.4L1322.4 245.9L1321.9 248.4L1320.6 251.4L1318.6 254.4L1313.3 260.9L1306.2 267.3L1299.2 271.9L1291.2 275.5L1284.8 277.1L1277.8 277.3L1272 275.9L1266.7 272.9L1263.9 270.4L1261.8 267.4L1260.5 264.4L1260.1 260.9L1260.6 256.9L1261.7 253.4L1263.8 249.4L1266.8 244.9L1279.2 230.4L1283.2 226.6L1288.2 222.9L1293.2 220.3L1298.2 218.7L1302.8 218.4Z"/>
<path fill="#f6fcc5" d="M1304.8 221.9L1306.8 224.1L1309 230.4L1310.4 232.9L1312.8 236L1317.4 240.9L1319.1 243.9L1319.4 246.4L1318.9 248.9L1317.5 251.9L1315.2 255.1L1310.2 260.7L1304.8 265.4L1298.2 269.4L1290.2 272.9L1283.8 274.4L1277.8 274.7L1272.2 273.4L1267.8 270.9L1265.2 268.7L1263.2 265.9L1262.1 263.4L1261.7 260.4L1262 256.9L1263.2 253.4L1265 249.9L1267.8 245.9L1279.2 232.8L1283.4 228.9L1287.8 225.5L1292.2 223.1L1297.5 221.4L1301.8 221Z"/>
<path fill="#ffffd1" d="M1303.8 224.9L1305.2 226.9L1308.1 233.4L1314.6 241.4L1316.2 244.4L1316.4 246.9L1315.6 249.9L1313.9 252.9L1311.2 256.4L1306.7 260.9L1300.8 265.1L1293.2 269L1287.8 270.9L1281.8 272.1L1276.8 272L1271.8 270.7L1267.8 268.2L1265.8 266.2L1264.2 263.9L1263.5 261.4L1263.4 258.4L1264 255.4L1265.2 252.4L1269.8 245.7L1279.8 234.8L1284.2 230.7L1288.2 227.8L1292.8 225.6L1297.8 224.1L1301.2 223.9Z"/>
<path fill="#fff4c0" d="M1301.8 228.9L1311 241.4L1312.7 244.9L1312.8 247.4L1311.9 249.9L1309.9 253.4L1307.2 256.6L1303.2 260.4L1297.8 264L1291.2 267.2L1286.2 268.7L1280.8 269.5L1275.8 269.3L1271.8 268.2L1268.3 265.9L1266.6 263.9L1265.5 261.9L1265.1 259.4L1265.3 256.9L1266.1 254.4L1267.6 251.4L1272.6 244.9L1280.8 236.5L1288.2 231L1292.2 229.3L1296.8 228.1L1299.8 228Z"/>
<path fill="#fee9ae" d="M1306.8 240.4L1308.2 242.9L1308.8 245.4L1308.6 247.9L1307.6 250.4L1305.4 253.9L1302.8 256.9L1299.2 259.9L1295.2 262.5L1290.8 264.7L1286.8 266L1282.8 266.7L1278.2 266.9L1274.8 266.6L1271.8 265.6L1269.4 263.9L1267.8 261.9L1267.1 259.4L1267.2 256.9L1268.2 253.9L1270.3 250.4L1273.8 246L1278.8 240.9L1282.2 237.9L1285.8 235.7L1292.2 233.1L1295.8 232.5L1298.2 232.6L1300.2 233.6L1302.8 235.7Z"/>
<path fill="#fed79f" d="M1303.8 240.9L1304.9 242.9L1305.3 245.4L1305 247.9L1304 250.4L1302.2 253.4L1300.1 255.9L1294.2 260.5L1287.2 263.5L1283.8 264.3L1279.8 264.6L1275.8 264.4L1273.2 263.8L1271.2 262.6L1269.7 260.9L1269 258.9L1269.1 256.9L1269.9 254.4L1271.5 251.4L1277.8 244L1283.8 239.3L1289.8 236.9L1295.8 236.3L1298.2 236.7L1300.2 237.7L1302.2 239.1Z"/>
<path fill="#fdc590" d="M1301.6 242.4L1302.3 243.9L1302.5 245.9L1302 248.4L1301 250.9L1297.8 255.4L1293.2 259L1287.2 261.6L1281.2 262.7L1277.2 262.6L1274.8 262.1L1272.8 261.1L1271.6 259.9L1271 258.4L1271.1 256.4L1271.9 253.9L1273.2 251.4L1278.2 245.4L1283.8 241.2L1289.2 239.2L1294.2 238.8L1298.8 239.9L1300.2 240.9Z"/>
<path fill="#faae85" d="M1299.3 243.9L1299.9 245.4L1299.9 247.4L1298.7 251.4L1296.1 254.9L1291.8 258.1L1286.2 260.4L1280.8 261.1L1275.8 260.4L1274.2 259.6L1273.3 258.4L1273 256.9L1273.2 254.9L1275.2 250.9L1279.2 246.2L1283.8 242.9L1287.8 241.3L1292.2 240.8L1296.8 241.8Z"/>
<path fill="#f7997b" d="M1297.1 245.4L1297.7 248.4L1296.8 251.4L1294.2 254.7L1290.8 257.2L1286.2 259L1281.8 259.6L1277.8 259.1L1276.2 258.4L1275.3 257.4L1274.9 255.9L1275.1 254.4L1276.7 250.9L1279.8 247.4L1283.8 244.5L1287.2 243.1L1291.2 242.6L1294.8 243.4Z"/>
<path fill="#ec8880" d="M1295.2 246.7L1295.8 248.9L1294.8 251.9L1292.7 254.4L1289.8 256.4L1286.2 257.6L1282.2 258L1278.9 257.4L1277.3 255.9L1277.2 253.4L1278.4 250.9L1280.8 248.2L1283.8 246.2L1287.2 244.8L1290.8 244.4L1293.2 245Z"/>
<path fill="#e17784" d="M1293.5 247.9L1293.9 249.9L1293.1 251.9L1291.4 253.9L1289.2 255.3L1286.8 256.2L1283.8 256.5L1281.2 256L1279.7 254.9L1279.4 252.9L1280.2 250.9L1281.8 249.2L1284.2 247.6L1287.2 246.5L1289.8 246.1L1292.2 246.7Z"/>
<path fill="#cd617f" d="M1291.8 249.2L1291.9 250.4L1291.4 251.9L1289.9 253.4L1288.2 254.4L1286.2 254.9L1284.2 255L1282.5 254.4L1281.7 253.4L1281.7 252.4L1282.4 250.9L1285.4 248.9L1289.2 248L1290.8 248.3Z"/>
<path fill="#bb4d7b" d="M1285.5 252.4L1285.7 251.4L1286.6 250.9L1288.4 250.9L1288.2 251.8L1287.5 252.4L1286.2 252.6Z"/>
</g>
<path d="M1308.8 230.8h.01M1298.3 254.6h.01M1270.1 254.6h.01M1291.9 216.5h.01M1287.8 232.7h.01M1309.5 281.6h.01M1297.1 224.1h.01M1350.8 230.8h.01M1306.7 288.1h.01M1314.3 256.1h.01M1308.3 245h.01M1296.8 251.9h.01M1296.7 259.8h.01M1299.3 245h.01M1297.7 229.8h.01M1265.9 271.3h.01M1283.2 258.9h.01M1301.7 251.7h.01M1280.1 267.7h.01M1299.1 254.6h.01M1301.5 302.9h.01M1338.7 235h.01M1270.4 253.8h.01M1287.3 251h.01M1287.5 245.6h.01M1278.1 255.1h.01M1336 235h.01M1268.9 266.8h.01M1296.8 271.3h.01M1310.9 230.6h.01M1271.9 254.6h.01M1310.7 241.2h.01M1313.8 225.8h.01M1302.6 278.8h.01M1267.5 245h.01M1286.3 232.6h.01M1298.2 259.8h.01M1304 235h.01M1283.6 278.8h.01M1304.4 235h.01M1304 217.3h.01M1294.9 237h.01M1301 245h.01M1280.1 250.3h.01M1315.6 277.5h.01M1270.1 259.8h.01M1270.2 245h.01M1312.6 211.9h.01M1287.6 235h.01M1292.5 308.4h.01M1290.5 254.6h.01M1286.2 260.1h.01M1300.8 221.8h.01M1284.2 218.6h.01M1281.4 270.6h.01M1322.4 254.6h.01M1273.2 245h.01M1326.8 245h.01M1293 229.8h.01M1289.6 234.8h.01M1307.6 210.7h.01M1270.2 269.7h.01M1265.2 254.6h.01M1297.3 230.8h.01M1303.7 259.8h.01M1308.2 235h.01M1318.9 218.6h.01M1308 254.6h.01M1299 278.8h.01M1290 218.6h.01M1290.4 266.7h.01M1333.8 236.1h.01M1288.4 227.3h.01M1310.5 210.7h.01M1293.1 242.2h.01M1281.5 261.9h.01M1277.6 251.3h.01M1299.3 270.7h.01M1304.3 237.6h.01M1305.4 245h.01M1303.6 235h.01M1301.7 298.9h.01M1274 286.1h.01M1279.6 245.1h.01M1293 254.6h.01M1301 245h.01M1294.8 262.8h.01M1314.4 218.6h.01M1302 223.8h.01M1313.7 247.3h.01M1279.5 235h.01M1275.7 271.3h.01M1266.6 259.8h.01M1286.8 253.1h.01M1289.8 258.3h.01M1292.3 259.8h.01M1267.3 259.8h.01M1291 281.8h.01M1300.8 235h.01M1278.5 256.7h.01M1298.3 232.1h.01M1275.5 249.4h.01M1306.8 259.8h.01M1283.9 276h.01M1274.1 263.8h.01M1308.9 218h.01M1321.7 245h.01M1312.9 233.6h.01M1263.2 311.5h.01M1300.8 229.8h.01M1272.9 235h.01M1304.4 245h.01M1302.3 218.6h.01M1280.5 271.3h.01M1274.5 257.4h.01M1287.1 234h.01M1294.3 251.3h.01M1306 225.2h.01M1320.3 254.6h.01M1296.7 235h.01M1292.6 218.6h.01M1282.2 229.8h.01M1277.2 254.6h.01M1277.2 254.6h.01M1301.8 245h.01M1309.6 254.6h.01M1282.4 245.5h.01M1282.6 229.8h.01M1305.6 243.3h.01M1273.2 245h.01M1275.5 278.8h.01M1286.1 229.8h.01M1302.1 229.8h.01M1300.5 254.6h.01M1301.7 293.6h.01M1278.9 278h.01M1284 259.8h.01M1295.4 223.7h.01M1301.1 266.6h.01M1297.6 259.2h.01M1300.4 235h.01M1320 249.9h.01M1304 218.6h.01M1265.9 266.9h.01M1284 261.5h.01M1286.5 266.6h.01M1281.3 263.9h.01M1305.1 240.6h.01M1277.9 259.8h.01M1301.7 240h.01M1297.2 231.9h.01M1300.8 246.8h.01M1292.5 251.2h.01M1305.5 242h.01M1286.6 254.6h.01M1275.3 255.6h.01M1296.9 235h.01M1326.5 254.6h.01M1304.4 245h.01M1275.5 259.8h.01M1281.8 242.6h.01M1292.9 266.2h.01M1308.3 245h.01M1266.5 254.6h.01M1297.5 259.8h.01M1278.4 252.3h.01M1300.6 235h.01M1292.9 297.1h.01M1337.7 229.8h.01M1302.5 245h.01M1299.3 254.6h.01M1292.2 216.2h.01M1295.5 235h.01M1296.6 266.4h.01M1285.7 259.8h.01M1277.2 257.2h.01M1288.9 278.8h.01M1283.1 271.3h.01M1284.2 235h.01M1333.3 259.4h.01M1273.5 241.2h.01M1285.1 267.2h.01M1337.5 245h.01M1347.6 229.8h.01M1269.1 278.8h.01M1271.1 259.8h.01M1293 266.8h.01M1289.1 254.6h.01M1278.1 271.3h.01M1299.2 245h.01M1274.3 254.9h.01M1284.7 210.7h.01M1332.6 253.8h.01M1299.5 273.3h.01M1284.1 263.9h.01M1275.6 271.3h.01M1274.2 254.6h.01M1308.9 282.6h.01M1295.9 218.6h.01M1312.6 281.3h.01M1281 245h.01M1361.5 216.6h.01M1301.2 259.8h.01M1289.2 245h.01M1282.8 246.6h.01M1300 278.8h.01M1290.1 223.4h.01M1282.8 258h.01M1296.3 245h.01M1318.3 252.2h.01M1289.9 240.4h.01M1301.1 240.4h.01M1277.9 240.4h.01M1284.2 240.4h.01M1286.9 240.4h.01M1296.3 240.4h.01M1294.9 240.4h.01M1287.3 240.4h.01M1277.1 240.4h.01M1292.9 240.4h.01M1283.7 257.2h.01M1277.2 257.2h.01M1288.8 257.2h.01M1284.6 257.2h.01M1281.5 257.2h.01M1280.6 257.2h.01M1286.3 257.2h.01M1280.1 257.2h.01M1283.4 257.2h.01M1295.8 257.2h.01M1289.8 269.3h.01M1284.8 269.3h.01M1290.8 269.3h.01M1299.7 269.3h.01M1298.6 269.3h.01M1294.3 269.3h.01M1403.4 203.2h.01M1400.8 203.2h.01M1399.4 203.2h.01M1394.9 203.2h.01M1272.9 299h.01M1292.5 299h.01M1289.2 299h.01M1300.5 299h.01M1278.6 299h.01M1297.4 299h.01M1275.2 299h.01M1299.8 299h.01M1301.4 299h.01M1271.8 290.6h.01M1281.8 290.6h.01M1306 290.6h.01M1304.9 290.6h.01M1294.2 290.6h.01M1234 193.9h.01M1380.4 170.7h.01M1398.4 142.8h.01M1420.9 128.9h.01M1420.9 147.5h.01M1439 151.2h.01M1443.5 151.2h.01M1378.2 186.5h.01M1396.2 180h.01M1357.9 245.1h.01M1362.4 245.1h.01M1387.2 247.9h.01M1388.1 247.9h.01M1387.2 226.5h.01" stroke="#0a0a0a" stroke-width="1.7" stroke-linecap="square" fill="none" opacity=".92"/><g><rect x="1231.1" y="38.6" width="127.1" height="114.8" fill="#050607"/><polygon points="1231.1,153.4 1231.1,144 1236.6,140.5 1239.7,139.3 1245.2,140.5 1249.2,144 1285.3,144 1288.5,140.9 1291.6,139.6 1295.6,141.2 1298.7,144 1318.4,144 1320.7,142.1 1324.7,144 1343.6,144 1346.7,140.9 1349.8,139.6 1353.8,140.5 1358.2,139.9 1358.2,153.4" fill="#f2ea18"/><path d="M1247.6 42.2L1275.9 69.8M1268 42.2L1261 69.8M1291.6 42.2L1295.6 53.2M1332.5 42.2L1305 71.3M1326.2 42.2L1317.6 83.9M1353 42.2L1339.6 83.1" stroke="#a01616" stroke-width=".9" fill="none"/><path d="M1241.3 140.5L1255.5 118.2M1241.3 140.5L1275.9 112.2M1241.3 140.5L1294 112.2M1349.1 140.5L1323.9 127.2" stroke="#2c2ca8" stroke-width=".8" fill="none"/><circle cx="1282.5" cy="78.9" r="5.3" fill="none" stroke="#ee2224" stroke-width="2.4"/><circle cx="1289.3" cy="75.3" r="5" fill="none" stroke="#ee2224" stroke-width="2.2"/><circle cx="1286.6" cy="78.4" r="3.5" fill="#ee2224"/><circle cx="1321.2" cy="85.2" r="3" fill="#ee2224"/><circle cx="1336.9" cy="89.9" r="4.4" fill="#ee2224"/><circle cx="1302.7" cy="96.8" r="3.6" fill="#ee2224"/><rect x="1293" y="96.3" width="2" height="2" fill="#8a1414"/><rect x="1318.2" y="96.8" width="2" height="2" fill="#8a1414"/><rect x="1267.8" y="96.8" width="2" height="2" fill="#6a2a9a"/><rect x="1250.1" y="142.7" width="6" height="2" fill="#35b6e8"/><rect x="1262.7" y="142.7" width="6" height="2" fill="#35b6e8"/><rect x="1275.3" y="142.7" width="6" height="2" fill="#35b6e8"/><rect x="1301.2" y="142.7" width="6" height="2" fill="#35b6e8"/><rect x="1317" y="142.7" width="6" height="2" fill="#35b6e8"/><rect x="1331.1" y="142.7" width="6" height="2" fill="#35b6e8"/><path d="M1238.1 145.6l2.4 -3 2.4 3" stroke="#3030b0" stroke-width=".9" fill="none"/><path d="M1289.2 145.6l2.4 -3 2.4 3" stroke="#3030b0" stroke-width=".9" fill="none"/><path d="M1347.4 145.6l2.4 -3 2.4 3" stroke="#3030b0" stroke-width=".9" fill="none"/><text x="1250.7" y="42.7" font-size="5.2" fill="#d01c1c" font-family="'Liberation Serif',serif">1065</text><rect x="1268" y="39.2" width="1.8" height="1.8" fill="#3a55d0"/><text x="1286.6" y="42.7" font-size="5.2" fill="#d01c1c" font-family="'Liberation Serif',serif">7500</text></g>
<path d="M1234.7 266.9L1240 265.7L1245.3 264.6L1250.5 263.3L1255.8 262.1L1261.1 260.7L1266.4 259.3L1271.7 257.9L1277 256.4L1282.3 254.8L1287.5 253.2L1292.8 251.5L1298.1 249.8L1303.4 248L1308.7 246.2L1314 244.3L1319.2 242.4L1324.5 240.4L1329.8 238.3L1335.1 236.2L1340.4 234L1345.7 231.8L1350.9 229.5L1356.2 227.2L1361.5 224.8L1366.8 222.4L1372.1 219.9L1377.4 217.3L1382.6 214.7L1387.9 212.1L1393.2 209.3L1398.5 206.6L1403.8 203.7L1409.1 200.9L1414.3 197.9L1419.6 194.9L1424.9 191.9L1430.2 188.8L1435.5 185.6L1440.8 182.4" fill="none" stroke="#000" stroke-width="3.5" stroke-dasharray="12.7 5.4"/>
<rect x="1211.5" y="26.6" width="315.3" height="306.8" fill="none" stroke="#0a0a0a" stroke-width="1.35"/>
<path d="M1234 333.4v7.6M1279.1 333.4v7.6M1324.1 333.4v7.6M1369.2 333.4v7.6M1414.2 333.4v7.6M1459.2 333.4v7.6M1504.3 333.4v7.6M1211.5 333.4h-7.6M1211.5 286.9h-7.6M1211.5 240.4h-7.6M1211.5 193.9h-7.6M1211.5 147.5h-7.6M1211.5 101h-7.6M1211.5 54.5h-7.6" stroke="#0a0a0a" stroke-width="1.35" fill="none"/>
<g font-size="13.1" text-anchor="middle">
<text x="1234" y="359.2">3</text>
<text x="1279.1" y="359.2">4</text>
<text x="1324.1" y="359.2">5</text>
<text x="1369.2" y="359.2">6</text>
<text x="1414.2" y="359.2">7</text>
<text x="1459.2" y="359.2">8</text>
<text x="1504.3" y="359.2">9</text>
</g>
<g font-size="13.1" text-anchor="end">
<text x="1195.3" y="338.4">−0.5</text>
<text x="1195.3" y="291.9">0.0</text>
<text x="1195.3" y="245.4">0.5</text>
<text x="1195.3" y="198.9">1.0</text>
<text x="1195.3" y="152.5">1.5</text>
<text x="1195.3" y="106">2.0</text>
<text x="1195.3" y="59.5">2.5</text>
</g>
<text x="1369.2" y="383.9" font-size="17.8" text-anchor="middle">ROM Size</text>
<text transform="translate(1150.9 180) rotate(-90)" font-size="17.8" text-anchor="middle">CPU Speed</text>
<text x="1210.7" y="13.2" font-size="17.8">Shooter (Clone-dominant)</text>
<text x="1185.5" y="38.3" font-size="35" font-weight="bold" text-anchor="end">d</text>
<rect x="1540" y="304.18" width="15.7" height="14.91" fill="#8097c7"/>
<rect x="1540" y="289.57" width="15.7" height="14.91" fill="#70abd0"/>
<rect x="1540" y="274.96" width="15.7" height="14.91" fill="#81c0c9"/>
<rect x="1540" y="260.35" width="15.7" height="14.91" fill="#94d4c0"/>
<rect x="1540" y="245.74" width="15.7" height="14.91" fill="#addec0"/>
<rect x="1540" y="231.13" width="15.7" height="14.91" fill="#c3e7bf"/>
<rect x="1540" y="216.52" width="15.7" height="14.91" fill="#d8efbb"/>
<rect x="1540" y="201.91" width="15.7" height="14.91" fill="#eef8b7"/>
<rect x="1540" y="187.30" width="15.7" height="14.91" fill="#f6fcc5"/>
<rect x="1540" y="172.70" width="15.7" height="14.91" fill="#ffffd1"/>
<rect x="1540" y="158.09" width="15.7" height="14.91" fill="#fff4c0"/>
<rect x="1540" y="143.48" width="15.7" height="14.91" fill="#fee9ae"/>
<rect x="1540" y="128.87" width="15.7" height="14.91" fill="#fed79f"/>
<rect x="1540" y="114.26" width="15.7" height="14.91" fill="#fdc590"/>
<rect x="1540" y="99.65" width="15.7" height="14.91" fill="#faae85"/>
<rect x="1540" y="85.04" width="15.7" height="14.91" fill="#f7997b"/>
<rect x="1540" y="70.43" width="15.7" height="14.91" fill="#ec8880"/>
<rect x="1540" y="55.82" width="15.7" height="14.91" fill="#e17784"/>
<rect x="1540" y="41.21" width="15.7" height="14.91" fill="#cd617f"/>
<rect x="1540" y="26.60" width="15.7" height="14.91" fill="#bb4d7b"/>
<rect x="1540" y="26.6" width="15.7" height="306.8" fill="none" stroke="#0a0a0a" stroke-width="1.35"/>
<g font-size="13.1">
<text x="1571.1" y="339">0.00</text>
<text x="1571.1" y="295.2">0.24</text>
<text x="1571.1" y="251.3">0.48</text>
<text x="1571.1" y="207.5">0.72</text>
<text x="1571.1" y="163.7">0.96</text>
<text x="1571.1" y="119.9">1.20</text>
<text x="1571.1" y="76">1.44</text>
<text x="1571.1" y="32.2">1.68</text>
</g>
<path d="M1555.7 333.4h7.6M1555.7 289.6h7.6M1555.7 245.7h7.6M1555.7 201.9h7.6M1555.7 158.1h7.6M1555.7 114.3h7.6M1555.7 70.4h7.6M1555.7 26.6h7.6" stroke="#0a0a0a" stroke-width="1.35" fill="none"/>
</g>
<g id="panel-e">
<clipPath id="cle"><rect x="1211.5" y="456.3" width="315.3" height="306.6"/></clipPath>
<g clip-path="url(#cle)">
<path fill="#8293c5" d="M1421.2 444.5L1424.8 446.4L1428 449L1432.2 453.3L1434.8 457L1439.8 467.4L1445.9 488L1447.9 492L1450 494.5L1452.4 496L1456.2 496.9L1460.2 497L1468.2 496.3L1473.8 496.3L1477.2 496.7L1482.2 498.1L1486.2 500L1490.8 503.3L1496.1 508.5L1498.8 512L1502.6 518.5L1505.1 525L1506.7 531.5L1507.3 536L1507.2 544L1506.5 549L1503.2 560.5L1501 566L1496.6 575.5L1491.5 585L1449.9 654.5L1442.7 664L1432.8 673.7L1427.8 677.2L1423.2 679.6L1413.2 682.9L1407.8 684L1386.2 686L1380.8 687.3L1376.2 689L1371.2 692L1367.4 695L1357.7 705.5L1348.2 714.7L1343.8 717.8L1336.2 721.7L1326.2 725.3L1309.2 729.1L1302.2 729.2L1296.2 727.6L1292.2 724.9L1280.8 713.3L1270.2 706.1L1266.7 702L1264.6 697.5L1263.4 690L1263.7 685.5L1265.1 681L1266.7 678.5L1268.8 676.5L1275.3 672.5L1279 671L1296.8 666.1L1304.8 663.5L1311.8 659.9L1316.4 656.5L1322.2 651.5L1330.2 643.5L1343.3 628.5L1347.2 622.4L1349.5 618L1350.6 614.5L1351.5 609L1351.7 603.5L1351.2 597.8L1349.8 591.1L1347.8 585L1344.5 578.5L1341.4 573.5L1329.3 557L1325.7 551.5L1321.9 543.5L1320 537.5L1318.1 527L1317.9 520.5L1319.8 506.5L1322.6 498.5L1325.8 492L1330.5 484.5L1336.6 477.5L1341.8 472.5L1351.8 465.4L1364.6 458.5L1380.3 448L1390.2 443.8L1400.2 441.8L1412.2 441.9L1416.8 442.8Z"/>
<path fill="#75a5cd" d="M1422.2 471.1L1426.8 473.7L1430 477L1433.5 483L1436.7 490.5L1440.2 497L1442.8 500.8L1445.3 503L1448.8 504.8L1453.2 505.6L1470.8 505.4L1476.8 506.4L1480.8 507.9L1484.8 510.4L1488.2 513.4L1491.8 517.2L1494.9 522L1497.8 528.5L1499.1 533L1499.8 538.5L1499.8 545.5L1498.9 551.5L1496.5 559.5L1494 566L1487.1 580L1467.6 614.5L1450.4 643.5L1445.4 651L1441.5 656L1436.2 662L1429.6 668L1423.8 671.9L1415.8 675.3L1406.2 677.3L1385.4 679.5L1379.8 680.8L1375.4 682.5L1370.9 685L1367.8 687.4L1351.8 703.2L1345.2 709L1340.2 712.3L1335.2 714.8L1328.8 716.7L1323.2 717.4L1317.8 716.8L1313.2 715.4L1309.5 713L1306.5 710L1304.2 706.5L1302.9 702.5L1302.2 698L1302.4 694L1303.5 689.5L1306 682.5L1308 678.5L1311.6 673L1317.8 665L1328.2 654L1341.8 641.8L1351.8 630.1L1357.7 619L1358.8 615.4L1359.8 609L1359.5 601.5L1355.7 577.5L1353.9 571L1349.8 563L1339.2 551L1334.4 544L1330.8 536.1L1327.8 527L1326.8 520.5L1327 515.5L1328 510L1330.8 501.8L1335.8 492.8L1338.8 488.9L1344.8 482.3L1347.9 479.5L1352.4 476.5L1359.8 473.1L1368.2 471.3L1386.8 471.3L1406.8 468.9L1415.2 469.1Z"/>
<path fill="#79b6cd" d="M1483.6 516L1487.7 520L1490.2 523.5L1493.5 530L1495.1 535.5L1495.9 540.5L1495.8 547.5L1495.1 552.5L1493.6 558L1491.2 564.5L1487 573L1464.4 613.5L1451.3 636L1442.8 648.5L1438.3 654L1432.9 660L1426.7 665.5L1422.8 668.3L1417.8 670.7L1414.2 671.7L1408.2 672.7L1393.8 674L1387.2 675L1379.2 677.1L1374 679.5L1367.8 683.6L1350.2 701L1344.8 705.8L1341.2 708.3L1337.2 710.4L1331.2 712.5L1324.8 713.1L1319.9 712L1315.8 709.5L1313.4 707L1311.5 704L1310.4 701L1309.7 697L1309.8 693L1310.7 687L1311.8 683L1313.5 679L1317.7 672L1329.2 656.6L1334.8 651.7L1344.9 644.5L1351.2 637.7L1355.2 632.7L1358.8 626.8L1361.2 621.4L1362.8 616.5L1364.2 608.5L1365.3 588L1367.1 566L1367.1 553L1366.6 544L1365.8 539.1L1365 538L1363.8 537.7L1356.8 537.9L1350.8 537.3L1346.8 536.1L1343.2 534.5L1339.1 531.5L1335.8 528.2L1333.8 524.8L1332.6 521L1332.4 518L1332.8 515L1335.2 507.5L1339.5 500L1344.8 493L1349.2 488.5L1353.2 485.5L1357.2 483.4L1361.2 482.3L1366.8 482.1L1371.8 483.6L1375.3 486L1380.8 492.5L1381.8 493.3L1382.8 493.6L1384.2 493.1L1394.2 487L1404.2 482.1L1411.2 480.2L1417.2 480.2L1422.2 481.9L1426.2 485.1L1429.2 488.8L1438 502.5L1440.7 505.5L1443.8 507.6L1447.2 509.1L1452.2 509.9L1464.8 510L1473.2 510.8L1478.8 512.7Z"/>
<path fill="#87c6c6" d="M1369.8 488L1372.8 490.1L1375 493L1376.4 496.5L1377.1 501L1376.9 506L1375.7 512L1373.6 518L1371.3 522.5L1369.1 525.5L1366.1 528.5L1363.2 530.4L1359.8 531.7L1356.2 532.3L1351.8 532L1347.8 531L1344.2 529.4L1341.2 527.1L1339.4 525L1338 522.5L1337.2 519.5L1337.2 516L1338 512.5L1341.6 504.5L1348.5 495L1351.8 491.9L1355.2 489.4L1358.8 487.8L1362.8 486.9L1366.2 487ZM1481.6 519.5L1485.2 523.2L1487.8 527L1490.3 532L1492.2 538.5L1492.7 542.5L1492.6 550L1491.8 554.5L1490.3 559.5L1488.3 564.5L1484.8 571.5L1474.1 590L1456.8 621.5L1448.8 635L1438.2 649.5L1431.4 657L1427.2 660.8L1422.2 664.8L1417.2 667.4L1413.4 668.5L1407.8 669.4L1393.8 670.2L1389.8 670.8L1379.8 673.9L1373.2 677L1366.8 681.5L1360.2 688.5L1347.8 700.6L1342.8 704.6L1338.8 707L1332.8 709.2L1328.2 709.9L1323.8 709.3L1320.2 707.4L1318.2 705.3L1316.5 702.5L1315.3 699.5L1314.5 696L1314.5 687.5L1316.5 680.5L1318.7 676L1326.5 663.5L1330.6 658L1336.2 653L1346.3 647L1351 643L1358.1 635L1362.6 627L1366.1 616.5L1371.1 591L1373.7 581L1378 567.5L1385 549L1388.2 538L1390.2 524.5L1392 516.5L1395.4 508L1399.1 501L1401.7 497.5L1406.2 493L1410.8 490L1415.2 488.6L1419.2 488.9L1422 490L1424.8 492.2L1436.3 506.5L1439.2 509.2L1442.8 511.2L1446.2 512.6L1449.8 513.2L1463.8 513.8L1471.8 514.6L1477.2 516.5Z"/>
<path fill="#98d6c0" d="M1367.9 492.5L1370.2 494.4L1371.8 496.6L1372.8 499.5L1373.3 503.5L1372.9 507.5L1371.9 512L1369.9 517L1368 520.5L1365.8 523.4L1363.4 525.5L1360.8 527.1L1357.8 528.2L1354.8 528.6L1351.2 528.4L1348.2 527.7L1345.2 526.2L1343.2 524.5L1341.6 522.5L1340.6 520L1340.4 517.5L1340.7 514.5L1341.6 511.5L1343.4 507.5L1345.9 503.5L1351 497L1353.8 494.6L1356.2 493.1L1359.2 491.9L1362.2 491.4L1365.2 491.6ZM1479.8 523.3L1482.9 526.5L1485.5 530.5L1487.6 535L1488.8 539.5L1489.5 549.5L1488.7 555L1487.3 560L1485.5 564.5L1482.3 571L1471.8 588.8L1450.8 627L1445.3 635.5L1437.2 646.3L1432.2 651.8L1427.2 656.4L1420.8 661.2L1416.2 663.7L1412.2 665L1406.2 666.2L1389.8 666.5L1377.2 672L1372.2 674.7L1366.8 678.6L1359.8 686.5L1347.8 698L1343.2 701.5L1339.8 703.6L1334.8 705.6L1329.8 706.4L1326.2 705.9L1322.9 704L1321.1 702L1319.5 699.5L1317.8 694L1317.7 687.5L1319.4 680.5L1328.1 664.5L1332.8 658.4L1338.8 653.4L1349.1 648L1357.2 642.5L1360.8 639.4L1363.4 635.5L1366.4 628L1371.5 607.5L1376.4 591.5L1390.8 552.2L1394 538.5L1396.2 525.5L1397.9 519L1401 512.5L1405.2 506.4L1408.2 503.6L1411.8 501.5L1415.2 500.4L1417.8 500.5L1420.2 501.5L1431.2 508.2L1439.2 513.9L1443.8 516.1L1450.2 517.6L1463.8 518.2L1470.8 519L1475.8 520.6Z"/>
<path fill="#addec0" d="M1365.2 496.4L1366.8 497.5L1368.3 499.5L1369.2 502L1369.5 505L1369.3 508L1368.3 511.5L1365.3 517.5L1361.2 522L1356.2 524.6L1353.8 525L1351.2 525L1348.8 524.4L1346.8 523.3L1345.3 522L1344.2 520.5L1343.6 518.5L1343.6 516L1344.9 510.5L1348.5 504L1352.8 498.9L1356.8 496.2L1361.2 495.3L1363.2 495.5ZM1478.2 526.6L1481 529.5L1483.5 533.5L1485.2 537.5L1486.2 541.5L1486.7 547.5L1486.6 551L1485.7 556.5L1483.8 562.5L1479.6 571.5L1464.8 596.5L1447.9 627.5L1442.8 635.3L1436.2 643.6L1431.2 648.9L1426.2 653.3L1419.2 657.9L1414.8 660.3L1408.8 662.3L1404.2 663.1L1398.2 663.1L1390.2 662.2L1387.8 662.4L1386.2 663.1L1382.2 666L1370.8 671.8L1367.2 674.6L1360.6 683L1353.8 690L1346.2 696.6L1341.2 699.8L1336.8 701.4L1332.2 701.9L1328.8 701.3L1325.8 699.5L1323.7 697L1322.2 693.5L1321.6 689.5L1321.9 684.5L1322.6 681L1323.9 677.5L1328.5 667.5L1330.5 664L1334.6 659L1340.8 654.3L1345.8 651.8L1357.2 647.5L1361.8 644.9L1364.8 642.1L1367.1 638L1369.5 630.5L1372.3 616.5L1374.9 607L1380.4 592.5L1389.2 572.2L1394.4 557.5L1397 546.5L1399.1 533.5L1401.1 525.5L1403.3 519.5L1407.2 513.9L1409.2 512L1411.8 510.5L1414.8 509.8L1417.8 510L1430.2 512.9L1439.2 518.2L1445.2 520.5L1449.2 521.2L1463.2 522L1470.2 522.9L1474.8 524.3Z"/>
<path fill="#bfe5bf" d="M1362.2 499L1364.3 501.5L1365 505L1364.4 509L1362.7 512.5L1359.6 516L1355.8 518.4L1352.2 519.1L1349.2 518.2L1347.7 516L1347.3 513L1348.4 509L1350.8 504.8L1353.8 501.2L1356.8 498.9L1359.8 498.2ZM1476.8 529.2L1479.5 532L1481.7 535.5L1483.2 539L1484.1 543L1484.6 548.5L1484.1 553.5L1483.4 557L1481.5 563L1475.6 575L1463.2 595.8L1446.2 626.5L1441.2 633.8L1435.2 641.4L1429.8 647L1424.2 651.4L1416.8 655.8L1411.8 658L1406.2 659.4L1401.8 659.9L1388.8 658.3L1385.8 658.3L1383.2 658.9L1377.8 661.3L1368.8 663.4L1367.2 665.2L1364.9 673L1361.5 679L1356.3 685L1348.2 692.6L1342.8 696.5L1338.2 698.2L1335.8 698.5L1333.2 698.1L1331.2 697.3L1329.5 696L1327.3 693.5L1325.9 690.5L1325.3 687L1325.4 682L1326.4 677.5L1328.4 672L1330.8 667L1333.4 663L1336.2 660L1339.8 657L1343.8 654.7L1347.8 653L1351.2 652L1354.2 651.6L1357.8 651.7L1362.2 652.5L1363.8 652.3L1365.8 650.4L1368.2 646.1L1370.7 639L1372.9 629.5L1375.1 615.5L1378.5 604L1383.1 593L1390.1 579L1395.6 566.5L1399.2 555.3L1402.1 541.5L1404.2 533.5L1408.1 524.5L1411.2 520L1413.3 518L1415.8 517L1427.2 517.2L1430.8 518.1L1438.8 521.5L1444.2 523L1448.2 523.7L1462.8 524.9L1469.2 525.8L1473.2 527Z"/>
<path fill="#d2edbc" d="M1359.2 502.7L1360 504L1360.1 505.5L1359.7 507.5L1358.8 509.4L1355.7 512L1353.8 512.7L1352.6 512.5L1351.8 511.5L1351.8 510.5L1352.4 508.5L1353.8 506.2L1356.8 503L1358.2 502.4ZM1475.8 531.9L1478.2 534.4L1480.3 537.5L1481.5 540.5L1482.4 544.5L1482.6 548.5L1482.1 553.5L1479.6 563L1473.6 575.5L1461.8 595.3L1445.8 623.7L1441.8 629.9L1436.3 637L1429.8 643.9L1423.8 648.7L1415.8 653.1L1409.2 655.4L1403.8 656.4L1398.8 656.3L1377.8 652.9L1375.8 652L1374.9 650.5L1374.4 648L1374.3 637.5L1376.1 628.5L1377.5 615.5L1379.2 608.5L1381 603L1384.8 594.7L1393.8 578L1398.7 568L1402.6 557.5L1406 543.5L1407.7 538.5L1410.6 532.5L1414.6 526.5L1416.7 524.5L1418.8 523.5L1423.8 522.4L1427.8 522.2L1445.2 525.7L1468.2 528.4L1472.2 529.6ZM1359.2 655.3L1361.3 657L1362.7 659L1363.5 661.5L1363.8 664.5L1363.6 668.5L1363 671.5L1361.7 675L1359.6 678.5L1356.8 682L1351.8 687.3L1347.2 691.2L1343.2 693.9L1339.8 695.5L1336.8 696.1L1334.2 695.9L1331.8 694.7L1329.6 692.5L1328.2 690L1327.5 687L1327.4 683L1328.1 679L1329.4 674.5L1331.5 669.5L1333.8 665.7L1336.2 662.6L1339.2 659.8L1342.8 657.4L1346.2 655.7L1350.2 654.4L1353.8 653.9L1356.8 654.3Z"/>
<path fill="#e4f4b9" d="M1473.8 533.6L1476.2 535.7L1478.4 538.5L1479.8 541.5L1480.5 545L1480.7 548.5L1480.2 553.1L1477.7 563L1474.5 570.5L1471.1 577L1456.6 601L1445.8 620.2L1440.8 628.1L1435.2 635.2L1429.8 641L1423.2 646.1L1415.8 650.2L1408.8 652.5L1401.8 653.3L1394.8 652.6L1387.2 650.3L1381.2 647.2L1379.8 645.5L1378.5 643L1377.6 640L1377.3 637L1378.9 628.5L1379.9 614.5L1381.9 606.5L1386.8 595.5L1401.5 569.5L1406 558.5L1410.2 543.5L1412.4 539L1416.2 533.9L1419.8 530.3L1423.2 528.1L1426.8 526.9L1431.2 526.6L1440.8 527.3L1462.8 530L1469.2 531.3ZM1357.2 658L1358.9 659.5L1360.2 661.6L1361 664L1361.3 667L1361.1 669.5L1360.3 672.5L1357.2 678.5L1351.2 685.5L1344.2 691.1L1341.2 692.6L1338.2 693.4L1335.8 693.3L1333.8 692.5L1331.8 690.6L1330.6 688.5L1329.8 685.5L1329.7 682.5L1330.2 678.5L1331.1 675L1334.8 667.5L1337.1 664.5L1339.8 662L1342.8 659.8L1345.8 658.3L1348.8 657.3L1352.2 656.8L1355 657Z"/>
<path fill="#f0f9bb" d="M1472.8 536.5L1475.1 538.5L1476.8 541L1477.8 544L1478.4 547.5L1477.2 556.8L1475.9 562L1473.7 568L1467.7 580L1455.5 599.5L1443.8 619.8L1437.2 629.4L1431.6 636L1425.2 641.6L1418.8 645.6L1411.8 648.5L1404.2 649.8L1396.8 649.4L1390.7 647.5L1385 644L1381.9 640.5L1380.7 636.5L1381.9 629L1382.2 615.3L1384.2 607L1389.2 595.9L1400 578.5L1404.4 570.5L1409.4 559L1413 547L1416.2 541.5L1420.4 537L1425.8 532.5L1428.8 531L1433.2 530.1L1442.2 530.2L1452.8 531.2L1461.2 532.5L1468.2 534.2ZM1355.2 661.3L1356.8 662.7L1357.9 664.5L1358.6 668.5L1357.2 674L1354.4 679L1349.2 684.9L1343.8 689L1339.2 690.4L1337.2 690.3L1335.2 689.3L1333.8 687.8L1332.6 685.5L1332.1 683L1332.1 680L1333.3 674.5L1336.4 668.5L1340.8 664L1345.8 661L1348.2 660.3L1351.2 660.1L1353.2 660.4Z"/>
<path fill="#f8fcc7" d="M1469.2 540.5L1471.5 542.5L1472.8 544.5L1473.8 547.4L1474.1 550.5L1474.1 555L1473.6 560.5L1471 569.5L1465.8 580.3L1453.6 599L1442.2 617.8L1436.2 626.4L1430.2 633.1L1425.8 637L1420.2 640.6L1413.2 643.6L1406.8 644.7L1400.2 644.4L1395.2 643L1390.2 640L1388.1 638L1387 636L1385.9 626.5L1385.5 616.5L1387.2 608.4L1392.1 597.5L1406.2 574L1417.1 550.5L1419.7 546.5L1423.8 542.2L1429.8 537.1L1432.8 535.7L1436.2 534.9L1443.2 534.6L1454.3 535.5L1463.2 537.6L1466.8 539ZM1352.8 664.5L1354.8 666.7L1355.4 670L1354.5 674L1352.2 678.2L1348.2 682.8L1344.2 685.8L1340.2 687.1L1337.2 686.4L1335.8 685L1335 683.5L1334.4 679L1335.3 674.5L1337.8 669.9L1340.8 666.8L1344.8 664.5L1349.2 663.6Z"/>
<path fill="#ffffd1" d="M1464.2 544.3L1466.3 546L1467.8 548.1L1468.9 551L1469.9 555L1470.2 561.5L1469.5 566.5L1468.5 570L1466 576L1463.8 580L1438.5 618.5L1433.7 624.5L1427.2 631L1422.2 634.8L1417.2 637.4L1411.8 639L1406.2 639.4L1400.8 638.3L1396.2 636L1394.5 634.5L1393 632.5L1390.2 625.5L1389.4 618L1390.5 611L1395.4 599L1406.2 580L1414.4 564L1419.8 555.9L1423.8 551L1430 545L1433.8 542L1437.2 540.5L1443.2 539.7L1452.8 540.1L1459.8 542ZM1350.3 668L1351.8 669.7L1352.1 672L1351.2 674.7L1349.2 677.9L1346.2 681L1343.2 683L1340.8 683.6L1338.8 683L1337.4 681L1336.9 678L1337.8 674.3L1339.6 671L1341.8 669L1344.8 667.6L1347.8 667.3Z"/>
<path fill="#fff6c3" d="M1459.2 547.4L1461.4 549L1463.2 551L1466.1 557L1467 562.5L1466.2 569L1464.2 574.6L1462.2 578.5L1441.8 609.9L1436.6 617L1431.2 623.2L1425.2 628.6L1419.8 632.2L1414.8 634.3L1409.8 635L1404.8 634.2L1400.2 632L1396 628L1393.5 623.5L1392.5 618L1393.4 611L1395.5 603.5L1397 600L1416.7 563.5L1420.2 559L1422.8 556.5L1436.2 546.6L1438.8 545.3L1443.8 544.2L1450.8 544.4L1454.8 545.3ZM1346.2 672.2L1346.8 672.7L1346.8 673.5L1345.8 675.6L1343.2 677.8L1341.8 677.7L1341.4 676L1342.6 673.5L1344.2 672.4Z"/>
<path fill="#feedb4" d="M1455.9 551L1457.9 552.5L1459.6 554.5L1462.4 560L1463.1 565L1462.3 570.5L1460.4 576L1456.8 583L1440.8 608.1L1435.2 615.5L1430.2 621L1424.2 626.2L1419.8 629.1L1414.8 631.1L1410.2 631.8L1405.8 631L1401.2 628.6L1397.2 624.5L1395.8 622L1395.1 619.5L1394.8 613.5L1396.4 605L1398.6 599.5L1408.2 581.9L1413.5 571L1417.3 564.5L1420.9 560L1423.8 557.4L1439.8 548.8L1443.8 548.1L1448.8 548.4L1452.2 549.2Z"/>
<path fill="#fee0a6" d="M1452.8 554.8L1456 558L1458.2 562.5L1458.7 567L1457.8 573L1455.8 579L1452.5 586L1444.9 599L1440.2 606L1434.2 613.7L1430.2 618.1L1424.2 623.3L1419.8 626.2L1414.8 628.2L1410.2 628.8L1406.2 628L1402.2 625.8L1398.8 622.3L1396.8 617.5L1396.4 612L1397.5 604.5L1399.4 600L1408.8 582.8L1414.2 571.5L1418 565L1421.8 560.5L1424.8 558L1429.2 555.8L1437.8 552.7L1441.8 552L1445.2 552.1L1449.2 553.1Z"/>
<path fill="#fed29a" d="M1449.2 558.3L1452.2 561.3L1454.1 565.5L1454.5 570L1453.7 576L1452.1 581.5L1448.8 589L1444 597.5L1440 603.5L1436.2 608.5L1429.8 615.8L1423.8 620.9L1419.8 623.5L1415.2 625.2L1411.2 625.8L1407.2 625.1L1403.2 623.1L1400.2 620L1398.3 615.5L1397.9 611L1398.6 604.5L1400.2 600.5L1409.5 583L1414.6 572.5L1418.7 565.5L1421.8 561.8L1424.2 559.5L1427.8 557.7L1431.8 556.4L1437.2 555.5L1441.2 555.5L1445.2 556.4Z"/>
<path fill="#fdc28e" d="M1445.2 560.7L1448 563L1450.3 567L1451.1 571L1450.9 576.5L1449.7 581.5L1447.1 588.5L1443.1 596L1439.8 601.3L1435.8 606.6L1430.2 612.6L1426.2 616.1L1420.2 620.3L1416.2 622L1412.2 622.7L1408.2 622.1L1404.8 620.4L1401.8 617.5L1400.2 614L1399.5 609.5L1399.9 604.5L1401.3 601L1414.8 574L1418.8 567.1L1424.1 561L1426.5 559.5L1429.4 558.5L1433.8 557.9L1437.8 558L1441.8 559Z"/>
<path fill="#faae85" d="M1442.2 562.8L1445.2 565.2L1447.4 568.5L1448.3 572L1448.4 576.5L1447.5 581.5L1445.5 587.5L1442.8 593.3L1439.3 599L1435.4 604.5L1431.2 609.1L1427.2 612.7L1422.8 615.5L1418.2 617.6L1413.8 618.6L1410.2 618.2L1407.2 616.8L1404.9 614.5L1403.2 611.5L1402.2 607.5L1402.4 604L1404.2 598.9L1409.2 587.6L1415.8 574.1L1418.8 569.1L1420.8 566.4L1423.8 563.3L1425.8 561.8L1428.2 560.8L1431.8 560.3L1435.8 560.5L1439.2 561.4Z"/>
<path fill="#f89c7d" d="M1440.2 565.4L1442.9 567.5L1444.7 570.5L1445.6 574L1445.7 578L1445 582.5L1443.7 587L1441.4 592L1438 598L1435.2 602.1L1431.9 606L1428.8 608.9L1425.8 610.9L1421.8 612.6L1417.2 613.7L1413.8 613.8L1410.8 612.8L1408.4 610.5L1407.1 607.5L1406.7 604.5L1407.1 600.5L1410.4 588.5L1413.2 581.9L1417.2 573.9L1422.2 567.4L1424.8 565.4L1427.2 564.1L1430.2 563.4L1434.2 563.5L1437.2 564.1Z"/>
<path fill="#f08d7e" d="M1437.8 567.9L1440.2 569.8L1441.8 572L1442.8 575L1443.2 579L1442.7 583L1441.6 587L1437.1 596L1431.8 603.6L1429.2 606.1L1426.8 607.8L1423.8 609L1420.8 609.5L1417.2 609.3L1414.2 608.3L1412.5 606.5L1411.5 604L1411 600L1411.2 596L1412 590.5L1413.1 586.5L1414.8 582.2L1417.8 576.3L1422.2 570.6L1426.8 567.6L1429.2 566.8L1432.2 566.6L1435.2 567Z"/>
<path fill="#e67f82" d="M1435.8 570.7L1437.8 572L1439.2 573.9L1440.2 576.2L1440.8 579L1440.3 584.5L1437.9 591L1433.2 599L1430.8 602L1428.2 604.2L1425.8 605.7L1423.2 606.3L1420.8 606.2L1418.8 605.5L1416.8 604.1L1415.6 602.5L1414.6 600L1414.2 597L1414.7 589L1415.8 585L1417.2 581.3L1420.8 575.5L1423.1 573L1425.2 571.5L1427.8 570.4L1430.2 569.9L1433.2 569.9Z"/>
<path fill="#db7082" d="M1434.2 573.6L1435.9 574.5L1437.2 576L1438.5 579.5L1438.3 584.5L1436.5 590L1432.9 596.5L1429.2 600.6L1427.2 602L1425.2 602.8L1423.2 603L1421.2 602.5L1419.8 601.5L1418.6 600L1417.7 598L1417.2 595.5L1417.5 589L1419.2 582.8L1422.1 578L1425.8 574.7L1427.8 573.7L1430.2 573.1Z"/>
<path fill="#ca5e7e" d="M1433.2 576.8L1435.3 578.5L1436.2 581.5L1435.9 585.5L1434.4 590L1431.8 594.7L1428.8 598.1L1425.8 599.5L1423.2 599.2L1421.2 597.1L1420.4 594L1420.6 588.5L1421.9 584L1424.2 580.3L1427.2 577.6L1430.2 576.5Z"/>
<path fill="#bb4d7b" d="M1431.2 580.6L1432.2 581.2L1432.9 583L1432.7 585.5L1431.8 588.5L1430.2 591.5L1428.2 594.1L1426.8 595.1L1425.2 595L1424.2 593.7L1423.9 591.5L1424.2 588.5L1424.9 586L1426.2 583.6L1427.8 581.9L1429.8 580.6Z"/>
</g>
<path d="M1399.8 643.6h.01M1377.5 640.2h.01M1431.3 630h.01M1453.2 561.8h.01M1421 526.7h.01M1415 672.1h.01M1425.3 596.9h.01M1388.1 476.8h.01M1342.7 659.4h.01M1328.3 691.2h.01M1421.4 567h.01M1447.2 630.7h.01M1430.2 528h.01M1446.3 581.7h.01M1422.9 634h.01M1431.6 578.9h.01M1426.8 590.7h.01M1462.3 536.5h.01M1382.2 634h.01M1417.2 588.5h.01M1406.5 560h.01M1414.9 623.7h.01M1349.1 684.1h.01M1449 591.8h.01M1424.1 617.2h.01M1331.2 700.8h.01M1351.1 507.6h.01M1404.2 599.8h.01M1333.3 681.1h.01M1474.4 541.4h.01M1456.4 555.5h.01M1422.4 591.8h.01M1403.7 615.3h.01M1468.3 594.2h.01M1450.4 593.7h.01M1389.8 517.5h.01M1403.8 616.1h.01M1448.4 567h.01M1419 523.9h.01M1344.9 677.2h.01M1420.6 608.1h.01M1427.6 581.7h.01M1405.1 616.6h.01M1403.4 586.4h.01M1406.7 541.4h.01M1420.4 596.9h.01M1424.3 618.8h.01M1433.5 618h.01M1436.6 594.1h.01M1359.9 664.5h.01M1345.5 672h.01M1399.8 648.2h.01M1428.8 574.8h.01M1433.1 562.7h.01M1393.1 591.8h.01M1402.2 605.8h.01M1441.7 545.4h.01M1421.6 596.9h.01M1460.2 582.3h.01M1370 472.7h.01M1439.7 579.9h.01M1437.3 581.7h.01M1351.2 684.1h.01M1437.2 518.5h.01M1362.8 664.5h.01M1382.8 657.8h.01M1416.1 599.4h.01M1374.6 548.1h.01M1416.1 637.6h.01M1478.5 530.4h.01M1448.8 555.5h.01M1416.9 612.2h.01M1418.1 575.3h.01M1439.3 580.3h.01M1491.7 555.5h.01M1337.6 494.7h.01M1398.1 566.3h.01M1420.6 648.2h.01M1412.9 647.6h.01M1362.4 511.1h.01M1484.7 560.4h.01M1482.6 560.4h.01M1488.8 560.4h.01M1373.7 632.8h.01M1390.8 632.8h.01M1391 632.8h.01M1375.1 632.8h.01M1390.6 632.8h.01M1283.6 735h.01M1301.6 725.7h.01M1267.8 697.9h.01M1274.6 697.9h.01M1477.3 502.8h.01M1488.5 530.6h.01M1351.1 651.4h.01M1377.7 474.3h.01M1394.6 474.3h.01M1415.5 486.4h.01M1356.8 501.4h.01M1342.8 518.7h.01M1328.9 530h.01M1357.8 537.6h.01M1356.2 546h.01M1364.7 546h.01M1364.7 551.9h.01M1329.3 559.9h.01M1399.6 510.1h.01M1408.1 516.3h.01M1417.5 518.7h.01M1391.2 546.6h.01M1405.1 546.6h.01M1394.6 557.9h.01M1401.5 557.9h.01M1383.6 564.5h.01M1383.6 567.1h.01M1377.7 574.4h.01M1383.6 577.8h.01M1364.7 581.4h.01M1374.1 581.4h.01M1383.6 585h.01M1356.8 614.2h.01M1411.1 567.1h.01M1426.4 547.1h.01M1429 551.9h.01M1432.4 551.9h.01M1438.4 549.5h.01M1446.3 546h.01M1457.3 530h.01M1460.7 530h.01M1464.2 530h.01M1467.6 530h.01M1459.3 541.2h.01M1470.2 539.6h.01M1431.8 564.5h.01M1441.4 563.1h.01" stroke="#0a0a0a" stroke-width="1.7" stroke-linecap="square" fill="none" opacity=".92"/><g><polygon points="1253.6,589.1 1286.7,585.7 1292.3,592 1259.5,597.9" fill="#141414"/><polygon points="1253.6,573.4 1285.6,570.1 1285.6,585.7 1253.6,590.2" fill="#d42a22"/><polygon points="1229.2,496.9 1247.3,469.6 1254.7,467.4 1254.3,484 1250.6,491 1250.6,528.6 1254.7,533.4 1254.3,590 1250.6,589.1 1229.6,585.7" fill="#e9eef0" stroke="#9aa" stroke-width=".4"/><polygon points="1231.1,546.7 1242.1,541.1 1247.7,555.9 1249.5,570.6 1236.6,570.6 1231.1,563.2" fill="#2e7f86"/><polygon points="1235.7,515.3 1244.9,517.2 1247.7,530.1 1242.1,541.1 1234.7,533.7" fill="#3b8fd6"/><polygon points="1230.1,522.7 1235.7,519 1237.5,537.4 1231.1,546.7" fill="#1e2a33"/><polygon points="1242.1,533.7 1252.3,532.8 1251.3,539.3 1244,538.4" fill="#cf2d2a"/><polygon points="1237.5,480.3 1247.7,472.9 1249.5,487.7 1240.3,496.9" fill="#a9d8ee"/><polygon points="1239.4,487.7 1247.7,485.8 1248,492.3 1240.6,495" fill="#3a3a3a"/><text transform="translate(1230.7 510.1) rotate(-8)" font-size="6.4" font-weight="bold" fill="#b0161a">WOLF</text><polygon points="1229.6,569.7 1250.6,570.6 1250.6,588.1 1229.6,585.7" fill="#d8231f"/><text x="1240.1" y="583.2" font-size="8.4" font-weight="bold" fill="#fff" text-anchor="middle" textLength="19" lengthAdjust="spacingAndGlyphs">TAITO</text><polygon points="1255,468.1 1290.4,474.7 1290.1,486.2 1255.4,480.6" fill="#1a1512"/><polygon points="1257.8,471.4 1266.1,472.9 1266.1,479.2 1257.8,478.1" fill="#c9382c"/><polygon points="1263.3,472.2 1270.7,473.6 1270.7,479.9 1263.3,478.8" fill="#3e7fc0"/><polygon points="1272.5,474.4 1287.3,477 1287.3,482.9 1272.5,480.6" fill="#e8c23a"/><polygon points="1251.7,484.3 1282.3,489.5 1282.3,522.7 1251.7,518.6" fill="#7a1a14"/><polygon points="1254.3,487.7 1279.4,491.7 1279.4,519.4 1254.3,515.7" fill="#0c0a0a"/><polygon points="1282.3,489.5 1286.7,487.7 1286.7,522.7 1282.3,522.7" fill="#2a2220"/><polygon points="1269.4,502.8 1275.3,500.9 1291.9,507.6 1291.5,512.7 1280.8,512 1279,520.8 1273.8,520.8 1274.6,509.8 1269.4,507.2" fill="#26262a"/><polygon points="1252.4,519.4 1284.5,522.7 1284.5,526.4 1252.4,524.2" fill="#d9d4cc"/><polygon points="1255,524.9 1268.3,524.2 1268.3,570.6 1255,572.8" fill="#dfe9e6"/><polygon points="1257.8,537.4 1265.2,535.6 1266.1,563.2 1257.8,565.1" fill="#3d9a94"/><polygon points="1256.1,546.7 1261.5,545.7 1261.5,552.2 1256.1,553.1" fill="#b52a26"/><polygon points="1269,527.5 1302.6,523.8 1303,568.8 1269,570.6" fill="#eef0ee" stroke="#889" stroke-width=".4"/><polygon points="1280.8,530.8 1291.2,530.1 1291.2,567.7 1280.8,568.4" fill="#141416"/><polygon points="1271.3,548.5 1279.4,547.8 1279.4,566.9 1271.3,567.7" fill="#2f7f88"/><polygon points="1271.6,532.3 1279.4,531.5 1279.4,541.1 1271.6,541.9" fill="#23282c"/><polygon points="1275.3,555.9 1279.4,555.5 1279.4,561 1275.3,561.4" fill="#c9302a"/><polygon points="1293.4,533.7 1300.8,533 1300.8,546.7 1293.4,547.4" fill="#3a4a5a"/><polygon points="1292.6,550.3 1301.1,549.6 1301.1,565.1 1292.6,565.8" fill="#8fb8c8"/><rect x="1283.6" y="533.7" width="4.8" height="2.6" fill="#c22"/></g>
<path d="M1270.5 678.9L1275.9 676.6L1281.4 674.3L1286.8 671.8L1292.3 669.3L1297.7 666.8L1303.1 664.1L1308.6 661.4L1314 658.6L1319.5 655.7L1324.9 652.7L1330.3 649.7L1335.8 646.6L1341.2 643.4L1346.7 640.1L1352.1 636.8L1357.5 633.4L1363 629.9L1368.4 626.3L1373.9 622.7L1379.3 619L1384.7 615.2L1390.2 611.3L1395.6 607.4L1401.1 603.4L1406.5 599.3L1411.9 595.1L1417.4 590.8L1422.8 586.5L1428.3 582.1L1433.7 577.6L1439.1 573.1L1444.6 568.5L1450 563.8L1455.5 559L1460.9 554.1L1466.3 549.2L1471.8 544.2L1477.2 539.1L1482.7 533.9" fill="none" stroke="#000" stroke-width="3.5" stroke-dasharray="12.7 5.4"/>
<rect x="1211.5" y="456.3" width="315.3" height="306.6" fill="none" stroke="#0a0a0a" stroke-width="1.35"/>
<path d="M1234 762.9v7.6M1279.1 762.9v7.6M1324.1 762.9v7.6M1369.2 762.9v7.6M1414.2 762.9v7.6M1459.2 762.9v7.6M1504.3 762.9v7.6M1211.5 762.9h-7.6M1211.5 716.4h-7.6M1211.5 670h-7.6M1211.5 623.5h-7.6M1211.5 577.1h-7.6M1211.5 530.6h-7.6M1211.5 484.2h-7.6" stroke="#0a0a0a" stroke-width="1.35" fill="none"/>
<g font-size="13.1" text-anchor="middle">
<text x="1234" y="788.7">3</text>
<text x="1279.1" y="788.7">4</text>
<text x="1324.1" y="788.7">5</text>
<text x="1369.2" y="788.7">6</text>
<text x="1414.2" y="788.7">7</text>
<text x="1459.2" y="788.7">8</text>
<text x="1504.3" y="788.7">9</text>
</g>
<g font-size="13.1" text-anchor="end">
<text x="1195.3" y="767.9">−0.5</text>
<text x="1195.3" y="721.4">0.0</text>
<text x="1195.3" y="675">0.5</text>
<text x="1195.3" y="628.5">1.0</text>
<text x="1195.3" y="582.1">1.5</text>
<text x="1195.3" y="535.6">2.0</text>
<text x="1195.3" y="489.2">2.5</text>
</g>
<text x="1369.2" y="813.4" font-size="17.8" text-anchor="middle">ROM Size</text>
<text transform="translate(1150.9 609.6) rotate(-90)" font-size="17.8" text-anchor="middle">CPU Speed</text>
<text x="1210.7" y="442.9" font-size="17.8">Shooter/Gun-based</text>
<text x="1185.5" y="468" font-size="35" font-weight="bold" text-anchor="end">e</text>
<rect x="1540" y="738.37" width="15.7" height="12.56" fill="#8293c5"/>
<rect x="1540" y="726.11" width="15.7" height="12.56" fill="#75a5cd"/>
<rect x="1540" y="713.84" width="15.7" height="12.56" fill="#79b6cd"/>
<rect x="1540" y="701.58" width="15.7" height="12.56" fill="#87c6c6"/>
<rect x="1540" y="689.32" width="15.7" height="12.56" fill="#98d6c0"/>
<rect x="1540" y="677.05" width="15.7" height="12.56" fill="#addec0"/>
<rect x="1540" y="664.79" width="15.7" height="12.56" fill="#bfe5bf"/>
<rect x="1540" y="652.52" width="15.7" height="12.56" fill="#d2edbc"/>
<rect x="1540" y="640.26" width="15.7" height="12.56" fill="#e4f4b9"/>
<rect x="1540" y="628.00" width="15.7" height="12.56" fill="#f0f9bb"/>
<rect x="1540" y="615.73" width="15.7" height="12.56" fill="#f8fcc7"/>
<rect x="1540" y="603.47" width="15.7" height="12.56" fill="#ffffd1"/>
<rect x="1540" y="591.20" width="15.7" height="12.56" fill="#fff6c3"/>
<rect x="1540" y="578.94" width="15.7" height="12.56" fill="#feedb4"/>
<rect x="1540" y="566.68" width="15.7" height="12.56" fill="#fee0a6"/>
<rect x="1540" y="554.41" width="15.7" height="12.56" fill="#fed29a"/>
<rect x="1540" y="542.15" width="15.7" height="12.56" fill="#fdc28e"/>
<rect x="1540" y="529.88" width="15.7" height="12.56" fill="#faae85"/>
<rect x="1540" y="517.62" width="15.7" height="12.56" fill="#f89c7d"/>
<rect x="1540" y="505.36" width="15.7" height="12.56" fill="#f08d7e"/>
<rect x="1540" y="493.09" width="15.7" height="12.56" fill="#e67f82"/>
<rect x="1540" y="480.83" width="15.7" height="12.56" fill="#db7082"/>
<rect x="1540" y="468.56" width="15.7" height="12.56" fill="#ca5e7e"/>
<rect x="1540" y="456.30" width="15.7" height="12.56" fill="#bb4d7b"/>
<rect x="1540" y="456.3" width="15.7" height="306.6" fill="none" stroke="#0a0a0a" stroke-width="1.35"/>
<g font-size="13.1">
<text x="1571.1" y="768.5">0.00</text>
<text x="1571.1" y="731.7">0.06</text>
<text x="1571.1" y="694.9">0.12</text>
<text x="1571.1" y="658.1">0.18</text>
<text x="1571.1" y="621.3">0.24</text>
<text x="1571.1" y="584.5">0.30</text>
<text x="1571.1" y="547.7">0.36</text>
<text x="1571.1" y="511">0.42</text>
<text x="1571.1" y="474.2">0.48</text>
</g>
<path d="M1555.7 762.9h7.6M1555.7 726.1h7.6M1555.7 689.3h7.6M1555.7 652.5h7.6M1555.7 615.7h7.6M1555.7 578.9h7.6M1555.7 542.1h7.6M1555.7 505.4h7.6M1555.7 468.6h7.6" stroke="#0a0a0a" stroke-width="1.35" fill="none"/>
</g>
</svg></body></html>
